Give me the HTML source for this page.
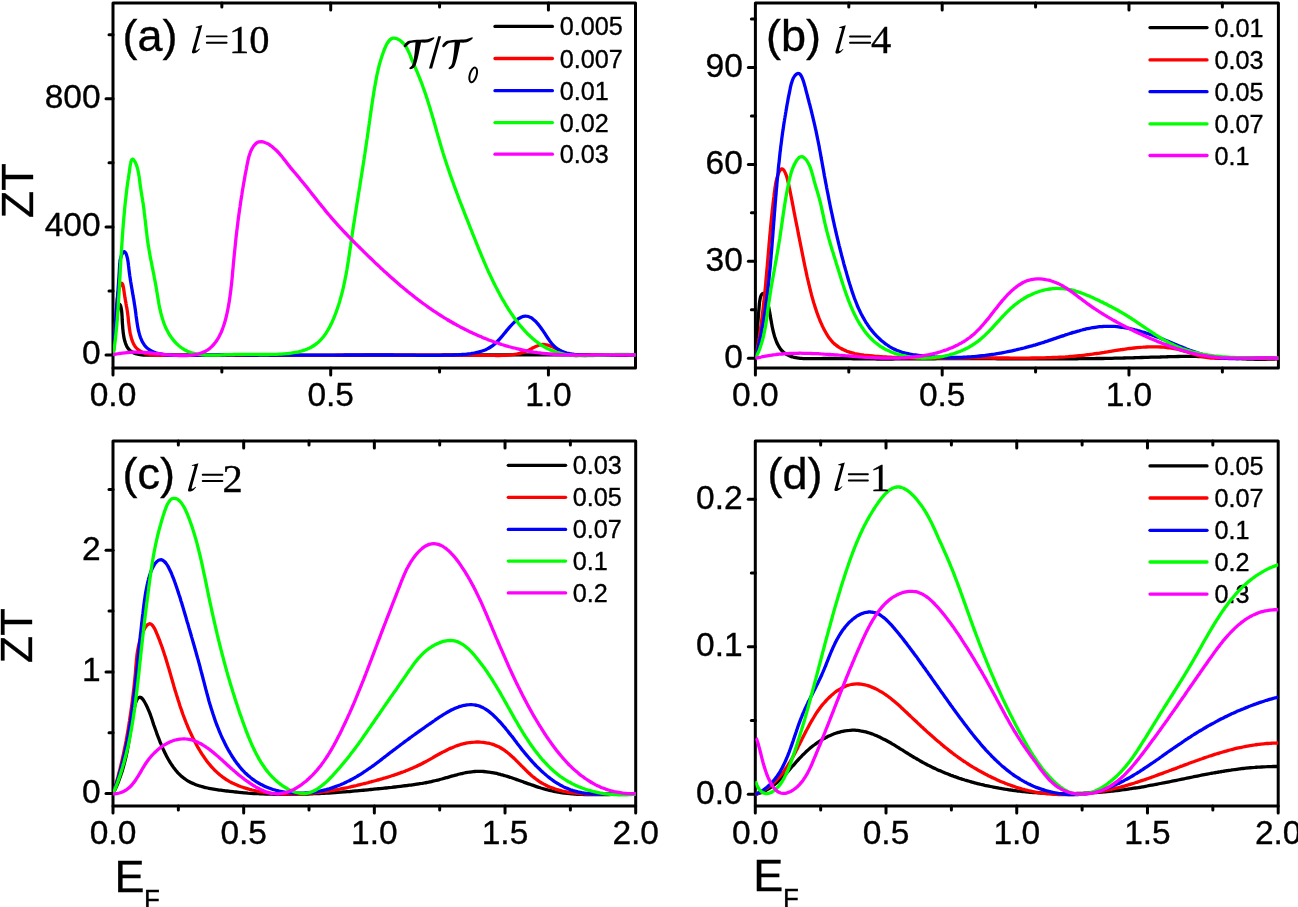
<!DOCTYPE html>
<html><head><meta charset="utf-8"><style>
html,body{margin:0;padding:0;background:#fff;}
body{width:1298px;height:907px;overflow:hidden;}
svg{display:block;will-change:transform;}
text{fill:#000;stroke:#000;stroke-width:0.35px;}
</style></head><body>
<svg width="1298" height="907" viewBox="0 0 1298 907">
<rect width="1298" height="907" fill="#fff"/>
<line x1="113.00" y1="368.00" x2="113.00" y2="375.00" stroke="#000" stroke-width="3.0" stroke-linecap="round"/>
<line x1="330.71" y1="368.00" x2="330.71" y2="375.00" stroke="#000" stroke-width="3.0" stroke-linecap="round"/>
<line x1="330.71" y1="3.00" x2="330.71" y2="10.00" stroke="#000" stroke-width="3.0" stroke-linecap="round"/>
<line x1="548.42" y1="368.00" x2="548.42" y2="375.00" stroke="#000" stroke-width="3.0" stroke-linecap="round"/>
<line x1="548.42" y1="3.00" x2="548.42" y2="10.00" stroke="#000" stroke-width="3.0" stroke-linecap="round"/>
<line x1="221.85" y1="368.00" x2="221.85" y2="372.00" stroke="#000" stroke-width="3.0" stroke-linecap="round"/>
<line x1="221.85" y1="3.00" x2="221.85" y2="7.00" stroke="#000" stroke-width="3.0" stroke-linecap="round"/>
<line x1="439.56" y1="368.00" x2="439.56" y2="372.00" stroke="#000" stroke-width="3.0" stroke-linecap="round"/>
<line x1="439.56" y1="3.00" x2="439.56" y2="7.00" stroke="#000" stroke-width="3.0" stroke-linecap="round"/>
<line x1="113.00" y1="355.00" x2="106.00" y2="355.00" stroke="#000" stroke-width="3.0" stroke-linecap="round"/>
<line x1="113.00" y1="226.90" x2="106.00" y2="226.90" stroke="#000" stroke-width="3.0" stroke-linecap="round"/>
<line x1="113.00" y1="98.80" x2="106.00" y2="98.80" stroke="#000" stroke-width="3.0" stroke-linecap="round"/>
<line x1="113.00" y1="290.95" x2="109.00" y2="290.95" stroke="#000" stroke-width="3.0" stroke-linecap="round"/>
<line x1="113.00" y1="162.85" x2="109.00" y2="162.85" stroke="#000" stroke-width="3.0" stroke-linecap="round"/>
<line x1="113.00" y1="34.75" x2="109.00" y2="34.75" stroke="#000" stroke-width="3.0" stroke-linecap="round"/>
<text x="113.00" y="406.20" font-family="Liberation Sans" font-size="33.5" text-anchor="middle">0.0</text>
<text x="330.71" y="406.20" font-family="Liberation Sans" font-size="33.5" text-anchor="middle">0.5</text>
<text x="548.42" y="406.20" font-family="Liberation Sans" font-size="33.5" text-anchor="middle">1.0</text>
<text x="100.60" y="364.40" font-family="Liberation Sans" font-size="33.5" text-anchor="end">0</text>
<text x="100.60" y="236.30" font-family="Liberation Sans" font-size="33.5" text-anchor="end">400</text>
<text x="100.60" y="108.20" font-family="Liberation Sans" font-size="33.5" text-anchor="end">800</text>
<rect x="113.00" y="3.00" width="522.50" height="365.00" fill="none" stroke="#000" stroke-width="3.0" stroke-linejoin="round"/>
<line x1="755.40" y1="368.00" x2="755.40" y2="375.00" stroke="#000" stroke-width="3.0" stroke-linecap="round"/>
<line x1="942.19" y1="368.00" x2="942.19" y2="375.00" stroke="#000" stroke-width="3.0" stroke-linecap="round"/>
<line x1="942.19" y1="3.00" x2="942.19" y2="10.00" stroke="#000" stroke-width="3.0" stroke-linecap="round"/>
<line x1="1128.97" y1="368.00" x2="1128.97" y2="375.00" stroke="#000" stroke-width="3.0" stroke-linecap="round"/>
<line x1="1128.97" y1="3.00" x2="1128.97" y2="10.00" stroke="#000" stroke-width="3.0" stroke-linecap="round"/>
<line x1="848.79" y1="368.00" x2="848.79" y2="372.00" stroke="#000" stroke-width="3.0" stroke-linecap="round"/>
<line x1="848.79" y1="3.00" x2="848.79" y2="7.00" stroke="#000" stroke-width="3.0" stroke-linecap="round"/>
<line x1="1035.58" y1="368.00" x2="1035.58" y2="372.00" stroke="#000" stroke-width="3.0" stroke-linecap="round"/>
<line x1="1035.58" y1="3.00" x2="1035.58" y2="7.00" stroke="#000" stroke-width="3.0" stroke-linecap="round"/>
<line x1="1222.36" y1="368.00" x2="1222.36" y2="372.00" stroke="#000" stroke-width="3.0" stroke-linecap="round"/>
<line x1="1222.36" y1="3.00" x2="1222.36" y2="7.00" stroke="#000" stroke-width="3.0" stroke-linecap="round"/>
<line x1="755.40" y1="358.30" x2="748.40" y2="358.30" stroke="#000" stroke-width="3.0" stroke-linecap="round"/>
<line x1="755.40" y1="261.34" x2="748.40" y2="261.34" stroke="#000" stroke-width="3.0" stroke-linecap="round"/>
<line x1="755.40" y1="164.38" x2="748.40" y2="164.38" stroke="#000" stroke-width="3.0" stroke-linecap="round"/>
<line x1="755.40" y1="67.42" x2="748.40" y2="67.42" stroke="#000" stroke-width="3.0" stroke-linecap="round"/>
<line x1="755.40" y1="309.82" x2="751.40" y2="309.82" stroke="#000" stroke-width="3.0" stroke-linecap="round"/>
<line x1="755.40" y1="212.86" x2="751.40" y2="212.86" stroke="#000" stroke-width="3.0" stroke-linecap="round"/>
<line x1="755.40" y1="115.90" x2="751.40" y2="115.90" stroke="#000" stroke-width="3.0" stroke-linecap="round"/>
<line x1="755.40" y1="18.94" x2="751.40" y2="18.94" stroke="#000" stroke-width="3.0" stroke-linecap="round"/>
<text x="755.40" y="405.80" font-family="Liberation Sans" font-size="33.5" text-anchor="middle">0.0</text>
<text x="942.19" y="405.80" font-family="Liberation Sans" font-size="33.5" text-anchor="middle">0.5</text>
<text x="1128.97" y="405.80" font-family="Liberation Sans" font-size="33.5" text-anchor="middle">1.0</text>
<text x="742.80" y="367.70" font-family="Liberation Sans" font-size="33.5" text-anchor="end">0</text>
<text x="742.80" y="270.74" font-family="Liberation Sans" font-size="33.5" text-anchor="end">30</text>
<text x="742.80" y="173.78" font-family="Liberation Sans" font-size="33.5" text-anchor="end">60</text>
<text x="742.80" y="76.82" font-family="Liberation Sans" font-size="33.5" text-anchor="end">90</text>
<rect x="755.40" y="3.00" width="523.00" height="365.00" fill="none" stroke="#000" stroke-width="3.0" stroke-linejoin="round"/>
<line x1="113.00" y1="806.00" x2="113.00" y2="813.00" stroke="#000" stroke-width="3.0" stroke-linecap="round"/>
<line x1="243.68" y1="806.00" x2="243.68" y2="813.00" stroke="#000" stroke-width="3.0" stroke-linecap="round"/>
<line x1="243.68" y1="441.00" x2="243.68" y2="448.00" stroke="#000" stroke-width="3.0" stroke-linecap="round"/>
<line x1="374.35" y1="806.00" x2="374.35" y2="813.00" stroke="#000" stroke-width="3.0" stroke-linecap="round"/>
<line x1="374.35" y1="441.00" x2="374.35" y2="448.00" stroke="#000" stroke-width="3.0" stroke-linecap="round"/>
<line x1="505.03" y1="806.00" x2="505.03" y2="813.00" stroke="#000" stroke-width="3.0" stroke-linecap="round"/>
<line x1="505.03" y1="441.00" x2="505.03" y2="448.00" stroke="#000" stroke-width="3.0" stroke-linecap="round"/>
<line x1="635.70" y1="806.00" x2="635.70" y2="813.00" stroke="#000" stroke-width="3.0" stroke-linecap="round"/>
<line x1="178.34" y1="806.00" x2="178.34" y2="810.00" stroke="#000" stroke-width="3.0" stroke-linecap="round"/>
<line x1="178.34" y1="441.00" x2="178.34" y2="445.00" stroke="#000" stroke-width="3.0" stroke-linecap="round"/>
<line x1="309.01" y1="806.00" x2="309.01" y2="810.00" stroke="#000" stroke-width="3.0" stroke-linecap="round"/>
<line x1="309.01" y1="441.00" x2="309.01" y2="445.00" stroke="#000" stroke-width="3.0" stroke-linecap="round"/>
<line x1="439.69" y1="806.00" x2="439.69" y2="810.00" stroke="#000" stroke-width="3.0" stroke-linecap="round"/>
<line x1="439.69" y1="441.00" x2="439.69" y2="445.00" stroke="#000" stroke-width="3.0" stroke-linecap="round"/>
<line x1="570.36" y1="806.00" x2="570.36" y2="810.00" stroke="#000" stroke-width="3.0" stroke-linecap="round"/>
<line x1="570.36" y1="441.00" x2="570.36" y2="445.00" stroke="#000" stroke-width="3.0" stroke-linecap="round"/>
<line x1="113.00" y1="793.50" x2="106.00" y2="793.50" stroke="#000" stroke-width="3.0" stroke-linecap="round"/>
<line x1="113.00" y1="671.90" x2="106.00" y2="671.90" stroke="#000" stroke-width="3.0" stroke-linecap="round"/>
<line x1="113.00" y1="550.30" x2="106.00" y2="550.30" stroke="#000" stroke-width="3.0" stroke-linecap="round"/>
<line x1="113.00" y1="732.70" x2="109.00" y2="732.70" stroke="#000" stroke-width="3.0" stroke-linecap="round"/>
<line x1="113.00" y1="611.10" x2="109.00" y2="611.10" stroke="#000" stroke-width="3.0" stroke-linecap="round"/>
<line x1="113.00" y1="489.50" x2="109.00" y2="489.50" stroke="#000" stroke-width="3.0" stroke-linecap="round"/>
<text x="113.00" y="844.20" font-family="Liberation Sans" font-size="33.5" text-anchor="middle">0.0</text>
<text x="243.68" y="844.20" font-family="Liberation Sans" font-size="33.5" text-anchor="middle">0.5</text>
<text x="374.35" y="844.20" font-family="Liberation Sans" font-size="33.5" text-anchor="middle">1.0</text>
<text x="505.03" y="844.20" font-family="Liberation Sans" font-size="33.5" text-anchor="middle">1.5</text>
<text x="635.70" y="844.20" font-family="Liberation Sans" font-size="33.5" text-anchor="middle">2.0</text>
<text x="100.60" y="802.90" font-family="Liberation Sans" font-size="33.5" text-anchor="end">0</text>
<text x="100.60" y="681.30" font-family="Liberation Sans" font-size="33.5" text-anchor="end">1</text>
<text x="100.60" y="559.70" font-family="Liberation Sans" font-size="33.5" text-anchor="end">2</text>
<rect x="113.00" y="441.00" width="522.70" height="365.00" fill="none" stroke="#000" stroke-width="3.0" stroke-linejoin="round"/>
<line x1="755.30" y1="806.00" x2="755.30" y2="813.00" stroke="#000" stroke-width="3.0" stroke-linecap="round"/>
<line x1="886.02" y1="806.00" x2="886.02" y2="813.00" stroke="#000" stroke-width="3.0" stroke-linecap="round"/>
<line x1="886.02" y1="441.00" x2="886.02" y2="448.00" stroke="#000" stroke-width="3.0" stroke-linecap="round"/>
<line x1="1016.75" y1="806.00" x2="1016.75" y2="813.00" stroke="#000" stroke-width="3.0" stroke-linecap="round"/>
<line x1="1016.75" y1="441.00" x2="1016.75" y2="448.00" stroke="#000" stroke-width="3.0" stroke-linecap="round"/>
<line x1="1147.47" y1="806.00" x2="1147.47" y2="813.00" stroke="#000" stroke-width="3.0" stroke-linecap="round"/>
<line x1="1147.47" y1="441.00" x2="1147.47" y2="448.00" stroke="#000" stroke-width="3.0" stroke-linecap="round"/>
<line x1="1278.20" y1="806.00" x2="1278.20" y2="813.00" stroke="#000" stroke-width="3.0" stroke-linecap="round"/>
<line x1="820.66" y1="806.00" x2="820.66" y2="810.00" stroke="#000" stroke-width="3.0" stroke-linecap="round"/>
<line x1="820.66" y1="441.00" x2="820.66" y2="445.00" stroke="#000" stroke-width="3.0" stroke-linecap="round"/>
<line x1="951.39" y1="806.00" x2="951.39" y2="810.00" stroke="#000" stroke-width="3.0" stroke-linecap="round"/>
<line x1="951.39" y1="441.00" x2="951.39" y2="445.00" stroke="#000" stroke-width="3.0" stroke-linecap="round"/>
<line x1="1082.11" y1="806.00" x2="1082.11" y2="810.00" stroke="#000" stroke-width="3.0" stroke-linecap="round"/>
<line x1="1082.11" y1="441.00" x2="1082.11" y2="445.00" stroke="#000" stroke-width="3.0" stroke-linecap="round"/>
<line x1="1212.84" y1="806.00" x2="1212.84" y2="810.00" stroke="#000" stroke-width="3.0" stroke-linecap="round"/>
<line x1="1212.84" y1="441.00" x2="1212.84" y2="445.00" stroke="#000" stroke-width="3.0" stroke-linecap="round"/>
<line x1="755.30" y1="794.30" x2="748.30" y2="794.30" stroke="#000" stroke-width="3.0" stroke-linecap="round"/>
<line x1="755.30" y1="646.80" x2="748.30" y2="646.80" stroke="#000" stroke-width="3.0" stroke-linecap="round"/>
<line x1="755.30" y1="499.30" x2="748.30" y2="499.30" stroke="#000" stroke-width="3.0" stroke-linecap="round"/>
<line x1="755.30" y1="720.55" x2="751.30" y2="720.55" stroke="#000" stroke-width="3.0" stroke-linecap="round"/>
<line x1="755.30" y1="573.05" x2="751.30" y2="573.05" stroke="#000" stroke-width="3.0" stroke-linecap="round"/>
<text x="755.30" y="844.20" font-family="Liberation Sans" font-size="33.5" text-anchor="middle">0.0</text>
<text x="886.02" y="844.20" font-family="Liberation Sans" font-size="33.5" text-anchor="middle">0.5</text>
<text x="1016.75" y="844.20" font-family="Liberation Sans" font-size="33.5" text-anchor="middle">1.0</text>
<text x="1147.47" y="844.20" font-family="Liberation Sans" font-size="33.5" text-anchor="middle">1.5</text>
<text x="1278.20" y="844.20" font-family="Liberation Sans" font-size="33.5" text-anchor="middle">2.0</text>
<text x="742.70" y="803.70" font-family="Liberation Sans" font-size="33.5" text-anchor="end">0.0</text>
<text x="742.70" y="656.20" font-family="Liberation Sans" font-size="33.5" text-anchor="end">0.1</text>
<text x="742.70" y="508.70" font-family="Liberation Sans" font-size="33.5" text-anchor="end">0.2</text>
<rect x="755.30" y="441.00" width="522.90" height="365.00" fill="none" stroke="#000" stroke-width="3.0" stroke-linejoin="round"/>
<line x1="495.00" y1="26.40" x2="552.40" y2="26.40" stroke="#000000" stroke-width="3.3" stroke-linecap="round"/>
<text x="559.80" y="35.40" font-family="Liberation Sans" font-size="25.2" text-anchor="start">0.005</text>
<line x1="495.00" y1="58.50" x2="552.40" y2="58.50" stroke="#ff0000" stroke-width="3.3" stroke-linecap="round"/>
<text x="559.80" y="67.50" font-family="Liberation Sans" font-size="25.2" text-anchor="start">0.007</text>
<line x1="495.00" y1="90.70" x2="552.40" y2="90.70" stroke="#0000ff" stroke-width="3.3" stroke-linecap="round"/>
<text x="559.80" y="99.70" font-family="Liberation Sans" font-size="25.2" text-anchor="start">0.01</text>
<line x1="495.00" y1="122.60" x2="552.40" y2="122.60" stroke="#00ff00" stroke-width="3.3" stroke-linecap="round"/>
<text x="559.80" y="131.60" font-family="Liberation Sans" font-size="25.2" text-anchor="start">0.02</text>
<line x1="495.00" y1="154.20" x2="552.40" y2="154.20" stroke="#ff00ff" stroke-width="3.3" stroke-linecap="round"/>
<text x="559.80" y="163.20" font-family="Liberation Sans" font-size="25.2" text-anchor="start">0.03</text>
<line x1="1150.00" y1="27.60" x2="1207.00" y2="27.60" stroke="#000000" stroke-width="3.3" stroke-linecap="round"/>
<text x="1214.50" y="36.60" font-family="Liberation Sans" font-size="25.2" text-anchor="start">0.01</text>
<line x1="1150.00" y1="59.90" x2="1207.00" y2="59.90" stroke="#ff0000" stroke-width="3.3" stroke-linecap="round"/>
<text x="1214.50" y="68.90" font-family="Liberation Sans" font-size="25.2" text-anchor="start">0.03</text>
<line x1="1150.00" y1="91.70" x2="1207.00" y2="91.70" stroke="#0000ff" stroke-width="3.3" stroke-linecap="round"/>
<text x="1214.50" y="100.70" font-family="Liberation Sans" font-size="25.2" text-anchor="start">0.05</text>
<line x1="1150.00" y1="123.80" x2="1207.00" y2="123.80" stroke="#00ff00" stroke-width="3.3" stroke-linecap="round"/>
<text x="1214.50" y="132.80" font-family="Liberation Sans" font-size="25.2" text-anchor="start">0.07</text>
<line x1="1150.00" y1="155.50" x2="1207.00" y2="155.50" stroke="#ff00ff" stroke-width="3.3" stroke-linecap="round"/>
<text x="1214.50" y="164.50" font-family="Liberation Sans" font-size="25.2" text-anchor="start">0.1</text>
<line x1="508.30" y1="465.30" x2="565.60" y2="465.30" stroke="#000000" stroke-width="3.3" stroke-linecap="round"/>
<text x="572.70" y="474.30" font-family="Liberation Sans" font-size="25.2" text-anchor="start">0.03</text>
<line x1="508.30" y1="497.30" x2="565.60" y2="497.30" stroke="#ff0000" stroke-width="3.3" stroke-linecap="round"/>
<text x="572.70" y="506.30" font-family="Liberation Sans" font-size="25.2" text-anchor="start">0.05</text>
<line x1="508.30" y1="529.40" x2="565.60" y2="529.40" stroke="#0000ff" stroke-width="3.3" stroke-linecap="round"/>
<text x="572.70" y="538.40" font-family="Liberation Sans" font-size="25.2" text-anchor="start">0.07</text>
<line x1="508.30" y1="561.10" x2="565.60" y2="561.10" stroke="#00ff00" stroke-width="3.3" stroke-linecap="round"/>
<text x="572.70" y="570.10" font-family="Liberation Sans" font-size="25.2" text-anchor="start">0.1</text>
<line x1="508.30" y1="592.90" x2="565.60" y2="592.90" stroke="#ff00ff" stroke-width="3.3" stroke-linecap="round"/>
<text x="572.70" y="601.90" font-family="Liberation Sans" font-size="25.2" text-anchor="start">0.2</text>
<line x1="1150.00" y1="465.90" x2="1207.00" y2="465.90" stroke="#000000" stroke-width="3.3" stroke-linecap="round"/>
<text x="1214.50" y="474.90" font-family="Liberation Sans" font-size="25.2" text-anchor="start">0.05</text>
<line x1="1150.00" y1="498.00" x2="1207.00" y2="498.00" stroke="#ff0000" stroke-width="3.3" stroke-linecap="round"/>
<text x="1214.50" y="507.00" font-family="Liberation Sans" font-size="25.2" text-anchor="start">0.07</text>
<line x1="1150.00" y1="530.30" x2="1207.00" y2="530.30" stroke="#0000ff" stroke-width="3.3" stroke-linecap="round"/>
<text x="1214.50" y="539.30" font-family="Liberation Sans" font-size="25.2" text-anchor="start">0.1</text>
<line x1="1150.00" y1="562.00" x2="1207.00" y2="562.00" stroke="#00ff00" stroke-width="3.3" stroke-linecap="round"/>
<text x="1214.50" y="571.00" font-family="Liberation Sans" font-size="25.2" text-anchor="start">0.2</text>
<line x1="1150.00" y1="594.10" x2="1207.00" y2="594.10" stroke="#ff00ff" stroke-width="3.3" stroke-linecap="round"/>
<text x="1214.50" y="603.10" font-family="Liberation Sans" font-size="25.2" text-anchor="start">0.3</text>
<clipPath id="c0"><rect x="113.00" y="3.00" width="522.50" height="365.00"/></clipPath>
<g clip-path="url(#c0)">
<path d="M113.0,355.0C113.0,354.5 113.2,352.9 113.3,351.9C113.4,350.9 113.5,349.9 113.6,348.9C113.7,347.8 113.7,346.8 113.8,345.9C113.9,344.9 114.0,343.9 114.1,342.9C114.2,341.9 114.3,340.9 114.4,340.0C114.5,339.0 114.6,338.0 114.7,337.0C114.8,336.1 114.9,335.1 115.0,334.1C115.1,333.1 115.2,332.2 115.3,331.2C115.4,330.2 115.5,329.2 115.6,328.2C115.8,327.2 115.9,326.3 116.0,325.3C116.1,324.3 116.2,323.3 116.3,322.2C116.4,321.2 116.5,320.2 116.6,319.2C116.8,318.1 116.9,317.1 117.0,315.9C117.1,314.8 117.3,313.5 117.4,312.2C117.6,311.0 117.8,309.5 118.0,308.4C118.2,307.3 118.4,306.1 118.7,305.4C118.9,304.7 119.2,304.1 119.5,304.1C119.8,304.1 120.1,304.6 120.4,305.2C120.7,305.8 120.9,306.9 121.1,307.8C121.3,308.7 121.5,309.7 121.6,310.7C121.7,311.7 121.8,312.6 121.9,313.6C121.9,314.6 122.0,315.7 122.1,316.7C122.1,317.8 122.2,318.9 122.2,320.0C122.3,321.1 122.4,322.3 122.4,323.4C122.5,324.5 122.6,325.7 122.7,326.9C122.7,328.0 122.8,329.2 123.0,330.3C123.1,331.5 123.2,332.6 123.4,333.8C123.5,334.9 123.7,336.0 123.9,337.1C124.1,338.2 124.3,339.2 124.6,340.2C124.9,341.3 125.2,342.2 125.5,343.2C125.8,344.1 126.2,345.0 126.6,345.9C127.0,346.7 127.5,347.5 128.0,348.2C128.5,348.9 129.1,349.6 129.7,350.2C130.3,350.8 130.9,351.3 131.6,351.8C132.3,352.2 133.0,352.6 133.8,352.9C134.6,353.3 135.4,353.6 136.3,353.8C137.1,354.1 138.0,354.3 138.9,354.4C139.8,354.6 140.7,354.7 141.7,354.8C142.6,354.9 143.6,355.0 144.6,355.0C145.6,355.1 146.6,355.1 147.6,355.1C148.6,355.2 149.6,355.2 150.7,355.2C151.7,355.2 152.7,355.2 153.7,355.2C154.7,355.2 155.8,355.2 156.8,355.2C157.8,355.2 158.8,355.2 159.9,355.2C160.9,355.2 161.9,355.2 162.9,355.2C163.9,355.1 165.0,355.1 166.0,355.1C167.0,355.1 168.0,355.1 169.0,355.1C170.1,355.1 171.1,355.1 172.1,355.1C173.1,355.1 174.1,355.1 175.1,355.1C176.2,355.1 177.2,355.1 178.2,355.1C179.2,355.1 180.2,355.1 181.2,355.1C182.3,355.1 183.3,355.1 184.3,355.1C185.3,355.1 186.3,355.1 187.3,355.1C188.3,355.1 189.4,355.1 190.4,355.1C191.4,355.1 192.4,355.1 193.4,355.1C194.4,355.1 195.4,355.1 196.4,355.1C197.5,355.1 198.5,355.1 199.5,355.2C200.5,355.2 201.5,355.2 202.5,355.2C203.5,355.2 204.5,355.2 205.5,355.2C206.6,355.2 207.6,355.2 208.6,355.2C209.6,355.2 210.6,355.2 211.6,355.2C212.6,355.2 213.6,355.2 214.6,355.2C215.6,355.2 216.6,355.2 217.7,355.2C218.7,355.2 219.7,355.2 220.7,355.2C221.7,355.2 222.7,355.2 223.7,355.2C224.7,355.2 225.7,355.2 226.7,355.2C227.7,355.2 228.7,355.2 229.7,355.2C230.7,355.2 231.8,355.2 232.8,355.2C233.8,355.2 234.8,355.2 235.8,355.2C236.8,355.2 237.8,355.2 238.8,355.2C239.8,355.2 240.8,355.2 241.8,355.2C242.8,355.2 243.8,355.2 244.8,355.2C245.8,355.2 246.8,355.2 247.8,355.2C248.8,355.2 249.8,355.2 250.8,355.2C251.8,355.2 252.8,355.2 253.8,355.2C254.8,355.2 255.9,355.2 256.9,355.2C257.9,355.2 258.9,355.2 259.9,355.2C260.9,355.2 261.9,355.2 262.9,355.2C263.9,355.2 264.9,355.2 265.9,355.2C266.9,355.2 267.9,355.2 268.9,355.3C269.9,355.3 270.9,355.3 271.9,355.3C272.9,355.3 273.9,355.3 274.9,355.3C275.9,355.3 276.9,355.3 277.9,355.3C278.9,355.3 279.9,355.3 280.9,355.3C281.9,355.3 282.9,355.3 283.9,355.3C284.9,355.3 285.9,355.3 286.9,355.3C287.9,355.3 288.9,355.3 289.9,355.3C290.9,355.3 291.9,355.3 292.9,355.3C293.9,355.3 294.9,355.3 295.9,355.3C296.9,355.3 297.9,355.3 298.9,355.3C299.9,355.3 300.9,355.3 301.9,355.3C302.9,355.3 303.9,355.3 304.9,355.3C305.9,355.3 306.9,355.3 307.9,355.3C308.9,355.3 309.9,355.3 310.9,355.3C311.9,355.3 312.9,355.3 313.9,355.3C314.9,355.3 315.9,355.3 316.9,355.3C317.9,355.3 318.9,355.3 319.9,355.3C320.9,355.3 321.9,355.3 322.9,355.3C323.9,355.3 324.9,355.3 325.9,355.3C326.9,355.3 327.9,355.3 328.9,355.3C329.9,355.3 330.9,355.3 331.9,355.3C333.0,355.3 334.0,355.3 335.0,355.3C336.0,355.3 337.0,355.3 338.0,355.3C339.0,355.3 340.0,355.3 341.0,355.3C342.0,355.3 343.0,355.3 344.0,355.3C345.0,355.3 346.0,355.3 347.0,355.3C348.0,355.3 349.0,355.3 350.0,355.3C351.0,355.3 352.0,355.3 353.0,355.3C354.0,355.3 355.0,355.3 356.0,355.3C357.0,355.3 358.0,355.3 359.0,355.3C360.0,355.3 361.0,355.3 362.0,355.3C363.0,355.3 364.0,355.3 365.0,355.2C366.0,355.2 367.0,355.2 368.0,355.2C369.0,355.2 370.0,355.2 371.0,355.2C372.0,355.2 373.0,355.2 374.0,355.2C375.1,355.2 376.1,355.2 377.1,355.2C378.1,355.2 379.1,355.2 380.1,355.2C381.1,355.2 382.1,355.2 383.1,355.2C384.1,355.2 385.1,355.2 386.1,355.2C387.1,355.2 388.1,355.2 389.1,355.2C390.1,355.2 391.1,355.2 392.1,355.2C393.1,355.2 394.1,355.2 395.1,355.2C396.1,355.2 397.1,355.2 398.1,355.2C399.1,355.2 400.1,355.2 401.1,355.2C402.1,355.2 403.1,355.2 404.2,355.2C405.2,355.2 406.2,355.2 407.2,355.1C408.2,355.1 409.2,355.1 410.2,355.1C411.2,355.1 412.2,355.1 413.2,355.1C414.2,355.1 415.2,355.1 416.2,355.1C417.2,355.1 418.2,355.1 419.2,355.1C420.2,355.1 421.2,355.1 422.2,355.1C423.2,355.1 424.2,355.1 425.2,355.1C426.2,355.1 427.2,355.1 428.2,355.1C429.3,355.1 430.3,355.1 431.3,355.1C432.3,355.1 433.3,355.1 434.3,355.1C435.3,355.1 436.3,355.1 437.3,355.1C438.3,355.1 439.3,355.1 440.3,355.1C441.3,355.0 442.3,355.0 443.3,355.0C444.3,355.0 445.3,355.0 446.3,355.0C447.3,355.0 448.3,355.0 449.3,355.0C450.3,355.0 451.3,355.0 452.4,355.0C453.4,355.0 454.4,355.0 455.4,355.0C456.4,355.0 457.4,355.0 458.4,355.0C459.4,355.0 460.4,355.0 461.4,355.0C462.4,355.0 463.4,355.0 464.4,355.0C465.4,355.0 466.4,355.0 467.4,355.0C468.4,355.0 469.4,355.0 470.4,355.0C471.4,355.0 472.4,355.0 473.4,355.0C474.5,355.0 475.5,355.0 476.5,355.0C477.5,355.0 478.5,355.0 479.5,354.9C480.5,354.9 481.5,354.9 482.5,354.9C483.5,354.9 484.5,354.9 485.5,354.9C486.5,354.9 487.5,354.9 488.5,354.9C489.5,354.9 490.5,354.9 491.5,354.9C492.5,354.9 493.5,354.9 494.5,354.9C495.5,354.9 496.6,354.9 497.6,354.9C498.6,354.9 499.6,354.9 500.6,354.9C501.6,354.9 502.6,354.9 503.6,354.9C504.6,354.9 505.6,354.9 506.6,354.9C507.6,354.9 508.6,354.9 509.6,354.9C510.6,354.9 511.6,354.9 512.6,354.9C513.6,354.9 514.6,354.9 515.6,354.9C516.6,354.9 517.6,354.9 518.6,354.9C519.7,354.9 520.7,354.9 521.7,354.9C522.7,354.9 523.7,354.9 524.7,354.9C525.7,354.9 526.7,354.9 527.7,354.9C528.7,354.9 529.7,354.9 530.7,354.9C531.7,354.9 532.7,354.9 533.7,354.9C534.7,354.9 535.7,354.9 536.7,354.9C537.7,354.9 538.7,354.9 539.7,354.9C540.7,354.9 541.7,354.9 542.7,354.9C543.7,354.9 544.8,354.9 545.8,354.9C546.8,354.9 547.8,354.9 548.8,354.9C549.8,354.9 550.8,354.9 551.8,354.9C552.8,354.9 553.8,354.9 554.8,354.9C555.8,354.9 556.8,354.9 557.8,354.9C558.8,354.9 559.8,354.9 560.8,354.9C561.8,354.9 562.8,354.9 563.8,354.9C564.8,354.9 565.8,354.9 566.8,354.9C567.8,354.9 568.8,354.9 569.8,354.9C570.8,354.9 571.8,354.9 572.8,354.9C573.9,354.9 574.9,354.9 575.9,354.9C576.9,354.9 577.9,354.9 578.9,354.9C579.9,354.9 580.9,354.9 581.9,354.9C582.9,354.9 583.9,354.9 584.9,354.9C585.9,354.9 586.9,355.0 587.9,355.0C588.9,355.0 589.9,355.0 590.9,355.0C591.9,355.0 592.9,355.0 593.9,355.0C594.9,355.0 595.9,355.0 596.9,355.0C597.9,355.0 598.9,355.0 599.9,355.0C600.9,355.0 601.9,355.0 602.9,355.0C603.9,355.0 604.9,355.0 605.9,355.0C606.9,355.0 607.9,355.0 608.9,355.0C609.9,355.0 610.9,355.1 611.9,355.1C612.9,355.1 613.9,355.1 615.0,355.1C616.0,355.1 617.0,355.1 618.0,355.1C619.0,355.1 620.0,355.1 621.0,355.1C622.0,355.1 623.0,355.1 624.0,355.1C625.0,355.1 626.0,355.1 627.0,355.1C628.0,355.2 629.0,355.2 630.0,355.2C631.0,355.2 632.0,355.2 633.0,355.2C634.0,355.2 635.5,355.2 636.0,355.2" fill="none" stroke="#000000" stroke-width="3.3" stroke-linejoin="round" stroke-linecap="butt"/>
<path d="M113.0,355.0C113.0,354.5 113.2,352.9 113.2,351.9C113.3,350.9 113.4,349.9 113.5,348.9C113.6,347.9 113.6,346.9 113.7,345.9C113.8,344.9 113.8,344.0 113.9,343.0C114.0,342.1 114.0,341.1 114.1,340.1C114.2,339.1 114.2,338.2 114.3,337.2C114.4,336.2 114.5,335.2 114.5,334.2C114.6,333.2 114.7,332.1 114.8,331.1C114.8,330.1 114.9,329.0 115.0,328.0C115.1,326.9 115.2,325.9 115.2,324.9C115.3,323.8 115.4,322.8 115.5,321.7C115.6,320.7 115.6,319.7 115.7,318.7C115.8,317.7 115.9,316.7 115.9,315.7C116.0,314.7 116.1,313.8 116.1,312.9C116.2,311.9 116.3,311.0 116.4,310.1C116.4,309.2 116.5,308.3 116.6,307.4C116.6,306.5 116.7,305.6 116.8,304.6C116.9,303.6 117.0,302.7 117.1,301.6C117.2,300.6 117.3,299.5 117.4,298.4C117.6,297.2 117.7,296.0 117.9,294.8C118.1,293.6 118.3,292.3 118.5,291.1C118.8,289.9 119.0,288.7 119.4,287.6C119.7,286.5 120.2,285.2 120.6,284.5C120.9,283.8 121.4,283.3 121.7,283.2C122.0,283.2 122.3,283.6 122.6,284.2C122.9,284.8 123.1,285.8 123.3,286.9C123.5,287.9 123.7,289.2 123.9,290.4C124.1,291.6 124.2,292.9 124.4,294.0C124.6,295.2 124.8,296.3 124.9,297.4C125.1,298.4 125.3,299.4 125.4,300.4C125.6,301.3 125.8,302.2 125.9,303.2C126.1,304.1 126.3,304.9 126.4,305.8C126.6,306.7 126.7,307.6 126.9,308.4C127.0,309.3 127.2,310.2 127.3,311.1C127.4,312.0 127.6,313.0 127.7,313.9C127.8,314.9 127.9,315.9 128.1,317.0C128.2,318.0 128.3,319.1 128.4,320.1C128.5,321.2 128.6,322.3 128.8,323.4C128.9,324.5 129.0,325.6 129.2,326.7C129.3,327.9 129.5,329.0 129.7,330.1C129.8,331.2 130.0,332.3 130.2,333.4C130.5,334.4 130.7,335.5 131.0,336.5C131.2,337.6 131.5,338.6 131.8,339.6C132.2,340.5 132.5,341.5 132.9,342.4C133.3,343.3 133.7,344.2 134.2,345.0C134.6,345.8 135.2,346.5 135.7,347.2C136.3,347.9 136.9,348.5 137.5,349.1C138.1,349.7 138.8,350.2 139.5,350.7C140.2,351.2 141.0,351.6 141.8,352.0C142.5,352.4 143.4,352.8 144.2,353.1C145.0,353.4 145.9,353.6 146.8,353.9C147.7,354.1 148.6,354.3 149.6,354.5C150.5,354.6 151.5,354.8 152.5,354.9C153.4,355.0 154.4,355.1 155.4,355.2C156.4,355.2 157.5,355.3 158.5,355.3C159.5,355.3 160.6,355.4 161.6,355.4C162.7,355.4 163.7,355.4 164.8,355.4C165.8,355.4 166.9,355.3 167.9,355.3C169.0,355.3 170.0,355.3 171.1,355.3C172.1,355.3 173.2,355.2 174.2,355.2C175.2,355.2 176.3,355.2 177.3,355.2C178.3,355.2 179.4,355.2 180.4,355.2C181.4,355.2 182.4,355.1 183.5,355.1C184.5,355.1 185.5,355.1 186.5,355.1C187.5,355.1 188.5,355.1 189.5,355.1C190.5,355.1 191.5,355.1 192.5,355.1C193.5,355.1 194.5,355.1 195.5,355.1C196.5,355.1 197.5,355.1 198.5,355.1C199.5,355.1 200.5,355.1 201.5,355.1C202.5,355.1 203.5,355.1 204.5,355.1C205.5,355.1 206.5,355.1 207.5,355.1C208.5,355.1 209.5,355.1 210.4,355.1C211.4,355.1 212.4,355.1 213.4,355.1C214.4,355.1 215.4,355.1 216.4,355.1C217.4,355.1 218.4,355.1 219.4,355.1C220.4,355.1 221.4,355.1 222.3,355.1C223.3,355.1 224.3,355.1 225.3,355.1C226.3,355.1 227.3,355.1 228.3,355.1C229.3,355.1 230.3,355.1 231.3,355.1C232.3,355.1 233.3,355.1 234.3,355.1C235.3,355.1 236.3,355.2 237.3,355.2C238.3,355.2 239.3,355.2 240.3,355.2C241.3,355.2 242.3,355.2 243.3,355.2C244.3,355.2 245.3,355.2 246.3,355.2C247.3,355.2 248.3,355.2 249.3,355.2C250.3,355.2 251.3,355.2 252.3,355.2C253.3,355.2 254.3,355.2 255.3,355.2C256.3,355.2 257.3,355.2 258.3,355.2C259.3,355.2 260.3,355.2 261.3,355.2C262.3,355.2 263.3,355.2 264.3,355.2C265.3,355.2 266.3,355.2 267.3,355.2C268.3,355.2 269.4,355.2 270.4,355.2C271.4,355.2 272.4,355.2 273.4,355.2C274.4,355.2 275.4,355.2 276.4,355.2C277.4,355.2 278.4,355.3 279.4,355.3C280.4,355.3 281.4,355.3 282.4,355.3C283.4,355.3 284.4,355.3 285.4,355.3C286.4,355.3 287.4,355.3 288.4,355.3C289.5,355.3 290.5,355.3 291.5,355.3C292.5,355.3 293.5,355.3 294.5,355.3C295.5,355.3 296.5,355.3 297.5,355.3C298.5,355.3 299.5,355.3 300.5,355.3C301.5,355.3 302.5,355.3 303.5,355.3C304.5,355.3 305.5,355.3 306.5,355.3C307.5,355.3 308.6,355.3 309.6,355.3C310.6,355.3 311.6,355.3 312.6,355.3C313.6,355.3 314.6,355.3 315.6,355.3C316.6,355.3 317.6,355.3 318.6,355.3C319.6,355.3 320.6,355.3 321.6,355.3C322.6,355.3 323.6,355.3 324.6,355.3C325.6,355.3 326.6,355.3 327.6,355.3C328.6,355.3 329.6,355.3 330.6,355.3C331.6,355.3 332.7,355.3 333.7,355.3C334.7,355.2 335.7,355.2 336.7,355.2C337.7,355.2 338.7,355.2 339.7,355.2C340.7,355.2 341.7,355.2 342.7,355.2C343.7,355.2 344.7,355.2 345.7,355.2C346.7,355.2 347.7,355.2 348.7,355.2C349.7,355.2 350.7,355.2 351.7,355.2C352.7,355.2 353.7,355.2 354.7,355.2C355.7,355.2 356.7,355.2 357.7,355.2C358.7,355.2 359.7,355.2 360.7,355.2C361.7,355.2 362.7,355.2 363.7,355.2C364.7,355.2 365.7,355.2 366.7,355.2C367.7,355.2 368.7,355.2 369.7,355.2C370.7,355.2 371.7,355.2 372.8,355.2C373.8,355.2 374.8,355.2 375.8,355.2C376.8,355.1 377.8,355.1 378.8,355.1C379.8,355.1 380.8,355.1 381.8,355.1C382.8,355.1 383.8,355.1 384.8,355.1C385.8,355.1 386.8,355.1 387.8,355.1C388.8,355.1 389.8,355.1 390.8,355.1C391.8,355.1 392.8,355.1 393.8,355.1C394.8,355.1 395.8,355.1 396.8,355.1C397.8,355.1 398.8,355.1 399.8,355.1C400.8,355.1 401.8,355.1 402.8,355.1C403.8,355.1 404.8,355.1 405.8,355.1C406.8,355.1 407.8,355.1 408.8,355.1C409.8,355.1 410.8,355.1 411.8,355.1C412.8,355.1 413.8,355.1 414.8,355.1C415.8,355.1 416.8,355.1 417.8,355.1C418.8,355.1 419.8,355.1 420.8,355.1C421.8,355.1 422.8,355.1 423.8,355.1C424.8,355.1 425.8,355.1 426.8,355.1C427.8,355.1 428.8,355.1 429.8,355.1C430.8,355.1 431.8,355.1 432.8,355.1C433.8,355.1 434.8,355.1 435.9,355.1C436.9,355.1 437.9,355.1 438.9,355.1C439.9,355.1 440.9,355.1 441.9,355.1C442.9,355.1 443.9,355.1 444.9,355.1C445.9,355.1 446.9,355.1 447.9,355.1C448.9,355.1 449.9,355.1 450.9,355.1C451.9,355.1 452.9,355.1 453.9,355.2C454.9,355.2 455.9,355.2 456.9,355.2C457.9,355.2 458.9,355.2 459.9,355.2C460.9,355.2 461.9,355.2 462.9,355.2C463.9,355.2 464.9,355.2 465.9,355.2C466.9,355.2 467.9,355.2 468.9,355.2C469.9,355.2 470.9,355.2 471.9,355.2C472.9,355.3 474.0,355.3 475.0,355.3C476.0,355.3 477.0,355.3 478.0,355.3C479.0,355.3 480.0,355.3 481.0,355.3C482.0,355.3 483.0,355.3 484.0,355.3C485.0,355.4 486.0,355.4 487.0,355.4C488.0,355.4 489.0,355.4 490.0,355.4C491.0,355.4 492.0,355.4 493.0,355.4C494.0,355.4 495.0,355.5 496.0,355.5C497.0,355.5 498.1,355.5 499.1,355.5C500.1,355.5 501.1,355.5 502.1,355.4C503.1,355.4 504.1,355.4 505.1,355.3C506.1,355.3 507.1,355.2 508.1,355.2C509.1,355.1 510.0,355.0 511.0,354.9C512.0,354.8 513.0,354.7 514.0,354.5C515.0,354.4 516.0,354.2 516.9,354.0C517.9,353.8 518.9,353.6 519.9,353.3C520.9,353.1 521.8,352.8 522.8,352.5C523.8,352.1 524.7,351.8 525.7,351.4C526.6,351.0 527.6,350.6 528.5,350.2C529.5,349.7 530.4,349.2 531.4,348.7C532.3,348.2 533.2,347.7 534.2,347.3C535.1,346.8 536.0,346.3 537.0,346.0C537.9,345.6 538.8,345.2 539.8,345.0C540.7,344.8 541.6,344.6 542.5,344.5C543.5,344.5 544.4,344.5 545.3,344.7C546.2,344.8 547.2,345.0 548.1,345.2C549.0,345.5 549.9,345.8 550.8,346.2C551.7,346.5 552.7,346.9 553.6,347.4C554.5,347.8 555.4,348.3 556.3,348.8C557.2,349.2 558.1,349.7 559.0,350.2C559.8,350.7 560.7,351.2 561.6,351.6C562.5,352.1 563.4,352.5 564.3,352.9C565.1,353.3 566.0,353.7 566.9,354.0C567.9,354.4 568.8,354.7 569.7,354.9C570.7,355.1 571.6,355.3 572.6,355.4C573.6,355.5 574.6,355.5 575.6,355.5C576.7,355.5 577.7,355.4 578.8,355.3C579.8,355.3 580.8,355.2 581.9,355.2C582.9,355.1 583.9,355.1 584.9,355.1C585.9,355.1 586.9,355.1 588.0,355.1C589.0,355.0 590.0,355.1 591.0,355.1C592.0,355.1 593.0,355.1 593.9,355.1C594.9,355.1 595.9,355.1 596.9,355.2C597.9,355.2 598.9,355.2 599.9,355.2C600.9,355.2 601.9,355.2 602.9,355.2C603.9,355.3 604.9,355.3 605.9,355.3C606.9,355.3 607.9,355.3 608.9,355.3C609.9,355.3 610.9,355.3 611.9,355.3C612.9,355.2 613.9,355.2 614.9,355.2C615.9,355.2 616.9,355.2 617.9,355.2C619.0,355.2 620.0,355.2 621.0,355.2C622.0,355.2 623.0,355.2 624.0,355.2C625.0,355.2 626.0,355.2 627.0,355.2C628.0,355.2 629.0,355.1 630.0,355.2C631.0,355.2 632.0,355.2 633.0,355.2C634.0,355.2 635.5,355.2 636.0,355.2" fill="none" stroke="#ff0000" stroke-width="3.3" stroke-linejoin="round" stroke-linecap="butt"/>
<path d="M113.0,355.0C113.0,354.5 113.2,353.0 113.3,352.0C113.4,351.0 113.4,349.9 113.5,348.9C113.6,347.9 113.7,346.9 113.8,345.9C113.9,344.9 113.9,343.9 114.0,343.0C114.1,342.0 114.2,341.0 114.3,340.0C114.3,339.0 114.4,338.0 114.5,337.0C114.6,336.0 114.6,335.0 114.7,334.1C114.8,333.1 114.8,332.1 114.9,331.1C115.0,330.1 115.1,329.1 115.1,328.1C115.2,327.1 115.3,326.2 115.3,325.2C115.4,324.2 115.5,323.2 115.5,322.2C115.6,321.2 115.7,320.2 115.8,319.2C115.8,318.2 115.9,317.2 116.0,316.2C116.1,315.2 116.1,314.2 116.2,313.2C116.3,312.2 116.4,311.2 116.4,310.2C116.5,309.1 116.6,308.1 116.7,307.1C116.8,306.1 116.8,305.0 116.9,304.0C117.0,303.0 117.1,302.0 117.2,301.0C117.2,299.9 117.3,298.9 117.4,297.9C117.5,296.9 117.6,295.9 117.6,294.9C117.7,293.9 117.8,292.9 117.9,292.0C118.0,291.0 118.0,290.0 118.1,289.1C118.2,288.1 118.2,287.2 118.3,286.3C118.4,285.3 118.4,284.4 118.5,283.5C118.6,282.5 118.6,281.6 118.7,280.6C118.8,279.7 118.8,278.7 118.9,277.8C119.0,276.8 119.0,275.8 119.1,274.7C119.1,273.7 119.2,272.7 119.3,271.6C119.3,270.5 119.4,269.3 119.5,268.2C119.5,267.0 119.6,265.8 119.7,264.6C119.8,263.5 119.9,262.3 120.1,261.1C120.2,260.0 120.4,258.8 120.7,257.8C121.0,256.7 121.3,255.7 121.7,254.8C122.0,253.9 122.5,253.1 122.9,252.6C123.3,252.1 123.8,251.7 124.2,251.7C124.7,251.8 125.1,252.2 125.5,252.7C125.9,253.3 126.3,254.2 126.6,255.2C126.9,256.2 127.2,257.4 127.5,258.5C127.7,259.6 127.9,260.8 128.1,262.0C128.3,263.2 128.4,264.3 128.5,265.5C128.7,266.6 128.8,267.7 128.9,268.8C129.0,269.9 129.2,271.0 129.3,272.1C129.4,273.2 129.6,274.2 129.7,275.2C129.9,276.3 130.0,277.3 130.2,278.3C130.3,279.3 130.5,280.3 130.6,281.2C130.8,282.2 130.9,283.2 131.1,284.1C131.3,285.1 131.4,286.1 131.6,287.0C131.7,287.9 131.9,288.9 132.1,289.8C132.2,290.8 132.4,291.7 132.5,292.6C132.7,293.6 132.9,294.5 133.0,295.4C133.2,296.3 133.3,297.3 133.5,298.2C133.7,299.1 133.8,300.1 134.0,301.0C134.1,302.0 134.3,302.9 134.4,303.9C134.6,304.9 134.7,305.8 134.9,306.8C135.0,307.8 135.2,308.8 135.3,309.8C135.5,310.8 135.6,311.8 135.7,312.8C135.9,313.9 136.0,314.9 136.1,316.0C136.3,317.0 136.4,318.1 136.6,319.2C136.7,320.2 136.8,321.3 137.0,322.3C137.2,323.4 137.3,324.5 137.5,325.5C137.7,326.6 137.9,327.6 138.1,328.7C138.3,329.7 138.5,330.8 138.8,331.8C139.0,332.8 139.3,333.8 139.6,334.8C139.9,335.7 140.2,336.7 140.5,337.6C140.9,338.5 141.3,339.4 141.7,340.3C142.1,341.2 142.5,342.0 143.0,342.8C143.5,343.7 144.0,344.4 144.5,345.2C145.1,345.9 145.6,346.6 146.3,347.2C146.9,347.9 147.6,348.5 148.3,349.0C149.0,349.6 149.8,350.1 150.6,350.6C151.4,351.0 152.2,351.4 153.1,351.8C154.0,352.2 154.9,352.5 155.8,352.8C156.8,353.1 157.8,353.4 158.7,353.6C159.7,353.8 160.7,354.0 161.7,354.2C162.7,354.4 163.8,354.5 164.8,354.7C165.8,354.8 166.8,354.9 167.9,355.0C168.9,355.1 169.9,355.1 170.9,355.2C172.0,355.2 173.0,355.3 174.0,355.3C175.0,355.3 176.0,355.3 177.0,355.4C178.0,355.4 179.0,355.4 180.1,355.4C181.1,355.3 182.1,355.3 183.1,355.3C184.1,355.3 185.1,355.3 186.1,355.3C187.1,355.2 188.1,355.2 189.1,355.2C190.1,355.2 191.1,355.2 192.1,355.2C193.1,355.1 194.1,355.1 195.1,355.1C196.0,355.1 197.0,355.1 198.0,355.1C199.0,355.1 200.0,355.0 201.0,355.0C202.0,355.0 203.0,355.0 204.0,355.0C205.0,355.0 206.0,355.0 207.0,355.0C208.0,355.0 209.0,355.0 210.0,355.0C211.0,354.9 212.0,354.9 213.0,354.9C214.0,354.9 215.0,354.9 216.0,354.9C217.0,354.9 218.0,354.9 219.0,354.9C220.0,354.9 221.0,354.9 222.0,354.9C223.0,354.9 224.0,354.9 225.0,354.9C226.0,354.9 227.0,354.9 228.0,354.9C229.0,354.9 230.0,354.9 231.0,354.9C232.0,354.9 233.0,354.9 234.0,354.9C235.0,354.9 236.0,354.9 237.0,354.9C238.0,354.9 239.0,354.9 240.0,354.9C241.0,354.9 242.0,354.9 243.0,354.9C244.0,355.0 245.0,355.0 246.0,355.0C247.0,355.0 248.0,355.0 249.0,355.0C250.0,355.0 251.0,355.0 252.0,355.0C253.0,355.0 254.0,355.0 255.0,355.0C256.0,355.0 257.0,355.0 258.0,355.0C259.0,355.0 260.0,355.0 261.0,355.0C262.0,355.1 263.0,355.1 264.0,355.1C265.0,355.1 266.0,355.1 267.0,355.1C268.0,355.1 269.0,355.1 270.0,355.1C271.0,355.1 272.0,355.1 273.0,355.1C274.0,355.1 275.0,355.1 276.0,355.1C277.0,355.1 278.0,355.1 279.0,355.1C280.0,355.2 281.0,355.2 282.0,355.2C283.0,355.2 284.0,355.2 285.0,355.2C286.0,355.2 287.0,355.2 288.0,355.2C289.0,355.2 290.0,355.2 291.0,355.2C292.0,355.2 293.0,355.2 294.0,355.2C295.0,355.2 296.0,355.2 297.0,355.2C298.0,355.2 299.0,355.2 300.0,355.2C301.0,355.2 302.0,355.2 303.0,355.2C304.0,355.2 305.0,355.2 306.0,355.2C307.0,355.2 308.0,355.2 309.0,355.2C310.0,355.2 311.0,355.2 312.1,355.2C313.1,355.2 314.1,355.2 315.1,355.2C316.1,355.2 317.1,355.2 318.1,355.2C319.1,355.2 320.1,355.2 321.1,355.1C322.1,355.1 323.1,355.1 324.1,355.1C325.1,355.1 326.1,355.1 327.1,355.1C328.1,355.1 329.1,355.1 330.1,355.1C331.1,355.1 332.1,355.1 333.1,355.1C334.1,355.1 335.1,355.1 336.1,355.1C337.1,355.1 338.1,355.1 339.1,355.1C340.1,355.1 341.1,355.1 342.1,355.1C343.1,355.1 344.1,355.1 345.1,355.0C346.2,355.0 347.2,355.0 348.2,355.0C349.2,355.0 350.2,355.0 351.2,355.0C352.2,355.0 353.2,355.0 354.2,355.0C355.2,355.0 356.2,355.0 357.2,355.0C358.2,355.0 359.2,355.0 360.2,355.0C361.2,355.0 362.2,355.0 363.2,355.0C364.2,355.0 365.2,355.0 366.2,355.0C367.2,355.0 368.2,355.0 369.2,355.0C370.2,355.0 371.2,355.0 372.2,355.0C373.2,355.0 374.2,355.0 375.2,355.0C376.2,355.0 377.2,355.0 378.2,355.0C379.2,355.0 380.2,355.0 381.2,355.0C382.2,355.0 383.2,355.0 384.2,355.0C385.2,355.0 386.1,355.0 387.1,355.0C388.1,355.0 389.1,355.0 390.1,355.0C391.1,355.0 392.1,355.0 393.1,355.0C394.1,355.0 395.1,355.1 396.1,355.1C397.1,355.1 398.1,355.1 399.1,355.1C400.1,355.1 401.1,355.1 402.1,355.1C403.1,355.1 404.1,355.1 405.0,355.1C406.0,355.2 407.0,355.2 408.0,355.2C409.0,355.2 410.0,355.2 411.0,355.2C412.0,355.2 413.0,355.2 414.0,355.2C415.0,355.3 416.0,355.3 417.0,355.3C418.0,355.3 418.9,355.3 419.9,355.3C420.9,355.3 421.9,355.3 422.9,355.3C423.9,355.3 424.9,355.3 425.9,355.3C426.9,355.4 427.9,355.4 428.9,355.4C429.9,355.4 430.9,355.4 431.9,355.4C432.9,355.4 433.9,355.3 434.9,355.3C435.9,355.3 436.9,355.3 437.9,355.3C438.9,355.3 439.9,355.3 440.9,355.3C442.0,355.3 443.0,355.3 444.0,355.2C445.0,355.2 446.0,355.2 447.0,355.2C448.0,355.1 449.0,355.1 450.1,355.1C451.1,355.0 452.1,355.0 453.1,355.0C454.1,354.9 455.2,354.9 456.2,354.9C457.2,354.8 458.2,354.8 459.3,354.7C460.3,354.6 461.3,354.6 462.3,354.5C463.4,354.4 464.4,354.4 465.4,354.3C466.4,354.2 467.4,354.1 468.4,353.9C469.5,353.8 470.5,353.7 471.4,353.5C472.4,353.4 473.4,353.2 474.4,353.0C475.4,352.8 476.4,352.6 477.3,352.4C478.3,352.2 479.2,351.9 480.1,351.6C481.1,351.4 482.0,351.1 482.9,350.7C483.8,350.4 484.7,350.1 485.6,349.7C486.4,349.3 487.3,348.9 488.1,348.4C489.0,348.0 489.8,347.5 490.6,347.0C491.4,346.5 492.2,346.0 492.9,345.4C493.7,344.8 494.4,344.2 495.2,343.5C495.9,342.9 496.6,342.2 497.3,341.5C498.0,340.8 498.7,340.1 499.3,339.4C500.0,338.6 500.7,337.8 501.3,337.1C502.0,336.3 502.7,335.5 503.3,334.7C504.0,333.9 504.6,333.1 505.3,332.3C506.0,331.5 506.7,330.6 507.3,329.8C508.0,329.0 508.7,328.2 509.4,327.4C510.1,326.6 510.9,325.8 511.6,325.0C512.3,324.2 513.1,323.4 513.9,322.6C514.6,321.9 515.4,321.2 516.2,320.5C517.0,319.8 517.8,319.2 518.6,318.6C519.4,318.1 520.3,317.6 521.1,317.2C521.9,316.8 522.7,316.5 523.5,316.3C524.4,316.1 525.2,316.0 526.0,316.1C526.8,316.1 527.6,316.3 528.4,316.5C529.2,316.8 530.0,317.1 530.8,317.6C531.6,318.0 532.4,318.6 533.1,319.2C533.9,319.8 534.7,320.5 535.4,321.2C536.1,322.0 536.9,322.8 537.6,323.6C538.3,324.4 539.0,325.3 539.7,326.2C540.4,327.1 541.1,328.1 541.7,329.0C542.4,329.9 543.0,330.9 543.7,331.8C544.3,332.7 544.9,333.7 545.5,334.6C546.1,335.5 546.6,336.4 547.2,337.3C547.8,338.1 548.4,339.0 549.0,339.8C549.5,340.6 550.1,341.4 550.7,342.2C551.3,343.0 551.9,343.7 552.5,344.4C553.2,345.1 553.8,345.8 554.5,346.4C555.2,347.1 555.9,347.7 556.6,348.2C557.4,348.8 558.1,349.3 558.9,349.7C559.7,350.2 560.6,350.6 561.4,351.0C562.3,351.4 563.2,351.8 564.1,352.1C565.0,352.4 565.9,352.7 566.8,353.0C567.8,353.2 568.7,353.4 569.7,353.7C570.7,353.9 571.7,354.0 572.7,354.2C573.7,354.4 574.7,354.5 575.7,354.6C576.7,354.7 577.8,354.8 578.8,354.9C579.8,355.0 580.9,355.0 581.9,355.1C582.9,355.1 584.0,355.2 585.0,355.2C586.1,355.2 587.1,355.3 588.1,355.3C589.2,355.3 590.2,355.3 591.2,355.3C592.2,355.3 593.3,355.3 594.3,355.3C595.3,355.3 596.3,355.3 597.3,355.3C598.3,355.2 599.3,355.2 600.2,355.2C601.2,355.2 602.2,355.2 603.2,355.2C604.2,355.1 605.2,355.1 606.1,355.1C607.1,355.1 608.1,355.1 609.1,355.0C610.0,355.0 611.0,355.0 612.0,355.0C613.0,354.9 613.9,354.9 614.9,354.9C615.9,354.9 616.9,354.9 617.8,354.9C618.8,354.8 619.8,354.8 620.8,354.8C621.8,354.8 622.8,354.8 623.8,354.8C624.8,354.8 625.8,354.8 626.8,354.8C627.8,354.8 628.8,354.8 629.8,354.8C630.8,354.9 631.9,354.9 632.9,354.9C633.9,354.9 635.5,355.0 636.0,355.0" fill="none" stroke="#0000ff" stroke-width="3.3" stroke-linejoin="round" stroke-linecap="butt"/>
<path d="M113.3,355.0C113.4,354.5 113.6,353.0 113.7,352.0C113.9,351.0 114.0,350.0 114.1,349.0C114.3,348.0 114.4,347.0 114.5,346.0C114.7,345.0 114.8,344.0 114.9,343.1C115.0,342.1 115.1,341.1 115.3,340.1C115.4,339.1 115.5,338.1 115.6,337.1C115.7,336.1 115.8,335.1 115.9,334.1C116.0,333.1 116.1,332.1 116.2,331.1C116.3,330.1 116.4,329.1 116.5,328.1C116.6,327.1 116.7,326.1 116.8,325.1C116.9,324.1 116.9,323.1 117.0,322.1C117.1,321.1 117.2,320.1 117.3,319.2C117.4,318.2 117.4,317.2 117.5,316.2C117.6,315.2 117.7,314.2 117.7,313.2C117.8,312.2 117.9,311.2 117.9,310.2C118.0,309.2 118.1,308.2 118.2,307.2C118.2,306.2 118.3,305.2 118.3,304.2C118.4,303.2 118.5,302.2 118.5,301.2C118.6,300.2 118.7,299.2 118.7,298.2C118.8,297.2 118.8,296.2 118.9,295.2C119.0,294.2 119.0,293.2 119.1,292.2C119.1,291.2 119.2,290.2 119.2,289.2C119.3,288.2 119.4,287.2 119.4,286.2C119.5,285.2 119.5,284.2 119.6,283.2C119.6,282.2 119.7,281.2 119.7,280.2C119.8,279.2 119.8,278.2 119.9,277.2C120.0,276.2 120.0,275.2 120.1,274.2C120.1,273.2 120.2,272.2 120.2,271.2C120.3,270.2 120.3,269.2 120.4,268.2C120.5,267.2 120.5,266.2 120.6,265.2C120.6,264.2 120.7,263.2 120.7,262.2C120.8,261.2 120.9,260.2 120.9,259.2C121.0,258.2 121.0,257.2 121.1,256.2C121.2,255.2 121.2,254.2 121.3,253.2C121.3,252.2 121.4,251.2 121.5,250.1C121.5,249.1 121.6,248.1 121.7,247.1C121.7,246.1 121.8,245.1 121.9,244.1C121.9,243.1 122.0,242.1 122.1,241.1C122.1,240.1 122.2,239.1 122.3,238.1C122.3,237.1 122.4,236.1 122.5,235.1C122.6,234.1 122.6,233.1 122.7,232.1C122.8,231.1 122.9,230.1 122.9,229.1C123.0,228.1 123.1,227.1 123.2,226.1C123.2,225.1 123.3,224.1 123.4,223.1C123.5,222.1 123.6,221.1 123.7,220.2C123.7,219.2 123.8,218.2 123.9,217.2C124.0,216.2 124.1,215.2 124.2,214.2C124.3,213.2 124.4,212.2 124.5,211.2C124.5,210.2 124.6,209.2 124.7,208.2C124.8,207.2 124.9,206.3 125.0,205.3C125.1,204.3 125.2,203.3 125.3,202.3C125.4,201.3 125.5,200.3 125.7,199.4C125.8,198.4 125.9,197.4 126.0,196.4C126.1,195.4 126.2,194.4 126.3,193.5C126.4,192.5 126.6,191.5 126.7,190.5C126.8,189.5 126.9,188.6 127.0,187.6C127.2,186.6 127.3,185.6 127.4,184.6C127.6,183.6 127.7,182.7 127.8,181.7C128.0,180.7 128.1,179.7 128.3,178.7C128.4,177.7 128.6,176.7 128.8,175.6C128.9,174.5 129.1,173.5 129.3,172.3C129.5,171.0 129.6,169.7 129.8,168.3C130.0,166.9 130.2,165.3 130.5,164.0C130.7,162.7 131.0,161.4 131.3,160.6C131.6,159.8 132.0,159.3 132.3,159.2C132.7,159.1 133.2,159.3 133.6,159.8C134.1,160.2 134.5,161.0 135.0,161.7C135.4,162.5 135.8,163.5 136.2,164.5C136.6,165.4 136.9,166.4 137.2,167.4C137.5,168.5 137.8,169.5 138.0,170.5C138.2,171.6 138.4,172.7 138.6,173.7C138.8,174.8 139.0,175.9 139.2,176.9C139.3,178.0 139.5,179.1 139.6,180.2C139.7,181.2 139.9,182.3 140.0,183.3C140.1,184.4 140.3,185.4 140.4,186.4C140.6,187.4 140.7,188.4 140.9,189.4C141.0,190.4 141.2,191.4 141.3,192.4C141.5,193.4 141.6,194.3 141.8,195.3C141.9,196.3 142.1,197.2 142.3,198.2C142.4,199.1 142.6,200.1 142.7,201.0C142.9,202.0 143.0,202.9 143.2,203.9C143.3,204.9 143.4,205.8 143.6,206.8C143.7,207.8 143.8,208.8 144.0,209.7C144.1,210.7 144.2,211.7 144.3,212.7C144.5,213.7 144.6,214.7 144.7,215.7C144.8,216.7 144.9,217.7 145.0,218.7C145.2,219.7 145.3,220.7 145.4,221.7C145.5,222.7 145.6,223.7 145.7,224.7C145.8,225.8 145.9,226.8 146.1,227.8C146.2,228.8 146.3,229.8 146.4,230.8C146.5,231.8 146.6,232.8 146.8,233.8C146.9,234.9 147.0,235.9 147.1,236.9C147.2,237.9 147.4,238.9 147.5,239.9C147.7,240.9 147.8,241.9 147.9,242.9C148.1,243.9 148.2,244.9 148.4,245.9C148.5,246.8 148.7,247.8 148.9,248.8C149.0,249.8 149.2,250.8 149.4,251.8C149.5,252.7 149.7,253.7 149.9,254.7C150.1,255.7 150.2,256.6 150.4,257.6C150.6,258.6 150.8,259.5 151.0,260.5C151.2,261.5 151.4,262.4 151.6,263.4C151.8,264.4 151.9,265.3 152.1,266.3C152.3,267.3 152.5,268.2 152.7,269.2C152.9,270.2 153.1,271.1 153.3,272.1C153.5,273.1 153.7,274.1 153.9,275.0C154.1,276.0 154.3,277.0 154.4,278.0C154.6,278.9 154.8,279.9 155.0,280.9C155.2,281.9 155.4,282.9 155.5,283.9C155.7,284.9 155.9,285.8 156.1,286.8C156.2,287.8 156.4,288.8 156.6,289.8C156.7,290.8 156.9,291.9 157.1,292.9C157.2,293.9 157.4,294.9 157.6,295.9C157.7,296.9 157.9,297.9 158.1,298.9C158.2,299.9 158.4,300.9 158.6,301.9C158.8,303.0 158.9,304.0 159.1,305.0C159.3,306.0 159.5,307.0 159.7,308.0C159.9,309.0 160.2,310.0 160.4,311.0C160.6,312.0 160.8,312.9 161.1,313.9C161.3,314.9 161.6,315.9 161.9,316.8C162.2,317.8 162.4,318.8 162.8,319.7C163.1,320.7 163.4,321.6 163.7,322.6C164.1,323.5 164.4,324.4 164.8,325.4C165.2,326.3 165.5,327.2 166.0,328.1C166.4,329.0 166.8,329.9 167.3,330.8C167.7,331.6 168.2,332.5 168.7,333.4C169.2,334.2 169.7,335.1 170.3,335.9C170.8,336.7 171.4,337.5 172.0,338.3C172.6,339.1 173.2,339.9 173.8,340.6C174.5,341.4 175.1,342.1 175.8,342.8C176.5,343.5 177.2,344.2 177.9,344.8C178.6,345.5 179.3,346.1 180.1,346.7C180.8,347.3 181.6,347.8 182.4,348.4C183.2,348.9 184.0,349.4 184.9,349.9C185.7,350.3 186.6,350.8 187.4,351.2C188.3,351.6 189.2,351.9 190.1,352.2C191.0,352.6 191.9,352.9 192.8,353.1C193.8,353.4 194.7,353.6 195.7,353.8C196.7,354.0 197.6,354.2 198.6,354.4C199.6,354.5 200.6,354.6 201.6,354.7C202.6,354.9 203.6,354.9 204.7,355.0C205.7,355.1 206.7,355.1 207.7,355.1C208.8,355.2 209.8,355.2 210.9,355.2C211.9,355.2 213.0,355.2 214.0,355.2C215.1,355.2 216.1,355.1 217.2,355.1C218.2,355.1 219.3,355.0 220.3,355.0C221.4,354.9 222.4,354.9 223.5,354.8C224.5,354.8 225.6,354.7 226.6,354.7C227.6,354.7 228.7,354.6 229.7,354.6C230.7,354.5 231.7,354.5 232.8,354.5C233.8,354.4 234.8,354.4 235.8,354.4C236.8,354.4 237.8,354.4 238.7,354.4C239.7,354.3 240.7,354.3 241.7,354.3C242.7,354.3 243.7,354.3 244.6,354.3C245.6,354.3 246.6,354.3 247.5,354.4C248.5,354.4 249.5,354.4 250.4,354.4C251.4,354.4 252.4,354.4 253.3,354.4C254.3,354.4 255.3,354.4 256.2,354.4C257.2,354.4 258.2,354.5 259.1,354.5C260.1,354.5 261.1,354.5 262.1,354.5C263.1,354.5 264.0,354.5 265.0,354.5C266.0,354.5 267.0,354.5 268.0,354.5C269.0,354.5 270.0,354.5 271.0,354.4C272.0,354.4 273.0,354.4 274.0,354.4C275.0,354.3 276.1,354.3 277.1,354.3C278.1,354.2 279.2,354.2 280.2,354.1C281.2,354.1 282.3,354.0 283.3,353.9C284.4,353.9 285.4,353.8 286.4,353.7C287.5,353.6 288.5,353.5 289.5,353.3C290.6,353.2 291.6,353.1 292.6,352.9C293.6,352.8 294.6,352.6 295.6,352.4C296.6,352.2 297.6,352.0 298.6,351.8C299.6,351.5 300.6,351.3 301.5,351.0C302.5,350.7 303.5,350.4 304.4,350.1C305.3,349.8 306.2,349.4 307.2,349.1C308.1,348.7 308.9,348.3 309.8,347.9C310.7,347.4 311.5,347.0 312.3,346.5C313.2,346.0 314.0,345.5 314.8,345.0C315.5,344.4 316.3,343.9 317.0,343.3C317.8,342.6 318.5,342.0 319.2,341.4C319.9,340.7 320.6,340.0 321.2,339.3C321.9,338.6 322.5,337.8 323.1,337.1C323.7,336.3 324.3,335.6 324.9,334.8C325.5,334.0 326.0,333.1 326.6,332.3C327.1,331.5 327.6,330.6 328.1,329.7C328.6,328.9 329.1,328.0 329.6,327.1C330.1,326.2 330.5,325.3 331.0,324.4C331.4,323.5 331.9,322.5 332.3,321.6C332.7,320.7 333.1,319.7 333.5,318.8C333.9,317.8 334.3,316.9 334.7,315.9C335.1,314.9 335.4,314.0 335.8,313.0C336.2,312.1 336.5,311.1 336.8,310.2C337.2,309.2 337.5,308.2 337.8,307.3C338.2,306.3 338.5,305.3 338.8,304.4C339.1,303.4 339.4,302.4 339.7,301.5C340.0,300.5 340.2,299.5 340.5,298.6C340.8,297.6 341.1,296.6 341.3,295.7C341.6,294.7 341.8,293.7 342.1,292.8C342.3,291.8 342.6,290.8 342.8,289.8C343.0,288.9 343.3,287.9 343.5,286.9C343.7,286.0 343.9,285.0 344.1,284.0C344.3,283.0 344.5,282.1 344.7,281.1C345.0,280.1 345.1,279.1 345.3,278.2C345.5,277.2 345.7,276.2 345.9,275.2C346.1,274.2 346.3,273.3 346.4,272.3C346.6,271.3 346.8,270.3 347.0,269.3C347.1,268.4 347.3,267.4 347.4,266.4C347.6,265.4 347.8,264.4 347.9,263.4C348.1,262.5 348.2,261.5 348.4,260.5C348.5,259.5 348.7,258.5 348.8,257.5C349.0,256.6 349.1,255.6 349.3,254.6C349.4,253.6 349.6,252.6 349.7,251.6C349.9,250.6 350.0,249.7 350.1,248.7C350.3,247.7 350.4,246.7 350.6,245.7C350.7,244.7 350.9,243.7 351.0,242.7C351.1,241.8 351.3,240.8 351.4,239.8C351.6,238.8 351.7,237.8 351.9,236.8C352.0,235.8 352.2,234.8 352.3,233.8C352.5,232.9 352.6,231.9 352.7,230.9C352.9,229.9 353.0,228.9 353.2,227.9C353.3,226.9 353.5,225.9 353.6,224.9C353.8,223.9 354.0,222.9 354.1,222.0C354.3,221.0 354.4,220.0 354.6,219.0C354.7,218.0 354.9,217.0 355.0,216.0C355.2,215.0 355.3,214.0 355.5,213.0C355.7,212.0 355.8,211.0 356.0,210.1C356.1,209.1 356.3,208.1 356.4,207.1C356.6,206.1 356.8,205.1 356.9,204.1C357.1,203.1 357.2,202.1 357.4,201.1C357.5,200.1 357.7,199.1 357.9,198.1C358.0,197.2 358.2,196.2 358.3,195.2C358.5,194.2 358.7,193.2 358.8,192.2C359.0,191.2 359.1,190.2 359.3,189.2C359.5,188.2 359.6,187.2 359.8,186.2C359.9,185.2 360.1,184.3 360.2,183.3C360.4,182.3 360.6,181.3 360.7,180.3C360.9,179.3 361.0,178.3 361.2,177.3C361.4,176.3 361.5,175.3 361.7,174.3C361.8,173.3 362.0,172.4 362.1,171.4C362.3,170.4 362.4,169.4 362.6,168.4C362.8,167.4 362.9,166.4 363.1,165.4C363.2,164.4 363.4,163.4 363.5,162.4C363.7,161.5 363.8,160.5 364.0,159.5C364.1,158.5 364.3,157.5 364.4,156.5C364.6,155.5 364.7,154.5 364.9,153.5C365.0,152.6 365.2,151.6 365.3,150.6C365.5,149.6 365.6,148.6 365.8,147.6C365.9,146.6 366.1,145.6 366.2,144.7C366.4,143.7 366.5,142.7 366.6,141.7C366.8,140.7 366.9,139.7 367.1,138.7C367.2,137.8 367.4,136.8 367.5,135.8C367.6,134.8 367.8,133.8 367.9,132.8C368.1,131.9 368.2,130.9 368.3,129.9C368.5,128.9 368.6,127.9 368.8,126.9C368.9,125.9 369.0,124.9 369.2,124.0C369.3,123.0 369.4,122.0 369.6,121.0C369.7,120.0 369.9,119.0 370.0,118.0C370.1,117.0 370.3,116.1 370.4,115.1C370.6,114.1 370.7,113.1 370.9,112.1C371.0,111.1 371.1,110.1 371.3,109.1C371.4,108.1 371.6,107.1 371.7,106.1C371.9,105.1 372.0,104.1 372.2,103.1C372.3,102.1 372.5,101.1 372.6,100.1C372.8,99.1 372.9,98.1 373.1,97.1C373.2,96.1 373.4,95.1 373.6,94.1C373.7,93.1 373.9,92.1 374.0,91.1C374.2,90.1 374.4,89.1 374.5,88.1C374.7,87.1 374.9,86.1 375.1,85.1C375.2,84.1 375.4,83.1 375.6,82.1C375.8,81.1 376.0,80.1 376.2,79.1C376.3,78.1 376.5,77.2 376.7,76.2C376.9,75.2 377.1,74.3 377.3,73.3C377.6,72.3 377.8,71.4 378.0,70.5C378.2,69.5 378.4,68.6 378.6,67.7C378.9,66.7 379.1,65.8 379.3,64.9C379.6,64.0 379.8,63.1 380.1,62.2C380.3,61.3 380.6,60.4 380.9,59.5C381.2,58.6 381.5,57.7 381.8,56.7C382.1,55.8 382.4,54.8 382.8,53.7C383.2,52.7 383.6,51.6 384.0,50.4C384.4,49.3 384.9,48.1 385.4,47.0C385.9,45.9 386.4,44.7 387.0,43.7C387.6,42.7 388.2,41.7 388.9,41.0C389.5,40.2 390.2,39.5 391.0,39.0C391.7,38.6 392.5,38.3 393.3,38.2C394.2,38.1 395.0,38.2 395.9,38.4C396.7,38.6 397.6,39.0 398.4,39.4C399.3,39.9 400.1,40.4 400.9,41.1C401.7,41.7 402.5,42.4 403.2,43.2C403.9,43.9 404.5,44.7 405.1,45.6C405.7,46.4 406.3,47.2 406.8,48.1C407.3,49.0 407.8,49.9 408.2,50.8C408.6,51.8 409.1,52.7 409.5,53.6C409.9,54.6 410.2,55.5 410.6,56.5C411.0,57.4 411.4,58.4 411.7,59.3C412.1,60.3 412.5,61.2 412.9,62.2C413.3,63.1 413.7,64.0 414.1,65.0C414.5,65.9 414.9,66.8 415.3,67.7C415.7,68.7 416.1,69.6 416.5,70.5C416.9,71.4 417.3,72.4 417.7,73.3C418.1,74.2 418.5,75.1 418.8,76.1C419.2,77.0 419.6,77.9 420.0,78.9C420.3,79.8 420.7,80.7 421.1,81.6C421.4,82.6 421.8,83.5 422.1,84.4C422.5,85.4 422.8,86.3 423.1,87.3C423.5,88.2 423.8,89.1 424.1,90.1C424.5,91.0 424.8,92.0 425.1,92.9C425.4,93.8 425.8,94.8 426.1,95.7C426.4,96.7 426.7,97.6 427.0,98.6C427.3,99.5 427.6,100.5 427.9,101.4C428.2,102.4 428.5,103.3 428.8,104.3C429.1,105.2 429.4,106.2 429.7,107.1C430.0,108.1 430.3,109.0 430.6,110.0C430.8,110.9 431.1,111.9 431.4,112.8C431.7,113.8 432.0,114.8 432.3,115.7C432.5,116.7 432.8,117.6 433.1,118.6C433.4,119.5 433.6,120.5 433.9,121.5C434.2,122.4 434.5,123.4 434.7,124.3C435.0,125.3 435.3,126.3 435.6,127.2C435.8,128.2 436.1,129.1 436.4,130.1C436.7,131.1 436.9,132.0 437.2,133.0C437.5,133.9 437.8,134.9 438.0,135.9C438.3,136.8 438.6,137.8 438.9,138.7C439.1,139.7 439.4,140.7 439.7,141.6C440.0,142.6 440.3,143.5 440.5,144.5C440.8,145.5 441.1,146.4 441.4,147.4C441.7,148.3 442.0,149.3 442.3,150.3C442.6,151.2 442.9,152.2 443.1,153.1C443.4,154.1 443.7,155.1 444.0,156.0C444.3,157.0 444.7,157.9 445.0,158.9C445.3,159.8 445.6,160.8 445.9,161.8C446.2,162.7 446.5,163.7 446.8,164.6C447.1,165.6 447.5,166.5 447.8,167.5C448.1,168.4 448.4,169.4 448.8,170.3C449.1,171.3 449.4,172.3 449.7,173.2C450.1,174.2 450.4,175.1 450.7,176.1C451.1,177.0 451.4,178.0 451.7,178.9C452.1,179.9 452.4,180.8 452.8,181.8C453.1,182.7 453.4,183.7 453.8,184.6C454.1,185.6 454.5,186.5 454.8,187.5C455.2,188.4 455.5,189.4 455.9,190.3C456.2,191.2 456.6,192.2 456.9,193.1C457.3,194.1 457.6,195.0 458.0,196.0C458.3,196.9 458.7,197.9 459.0,198.8C459.4,199.7 459.8,200.7 460.1,201.6C460.5,202.6 460.8,203.5 461.2,204.4C461.6,205.4 461.9,206.3 462.3,207.3C462.6,208.2 463.0,209.1 463.4,210.1C463.7,211.0 464.1,211.9 464.5,212.9C464.8,213.8 465.2,214.8 465.6,215.7C465.9,216.6 466.3,217.6 466.7,218.5C467.0,219.4 467.4,220.3 467.8,221.3C468.1,222.2 468.5,223.1 468.9,224.1C469.2,225.0 469.6,225.9 470.0,226.9C470.3,227.8 470.7,228.7 471.1,229.6C471.4,230.6 471.8,231.5 472.2,232.4C472.5,233.3 472.9,234.3 473.3,235.2C473.6,236.1 474.0,237.0 474.4,237.9C474.7,238.9 475.1,239.8 475.5,240.7C475.8,241.6 476.2,242.5 476.6,243.5C476.9,244.4 477.3,245.3 477.7,246.2C478.1,247.1 478.4,248.0 478.8,249.0C479.2,249.9 479.6,250.8 479.9,251.7C480.3,252.6 480.7,253.5 481.1,254.4C481.4,255.3 481.8,256.3 482.2,257.2C482.6,258.1 483.0,259.0 483.4,259.9C483.7,260.8 484.1,261.7 484.5,262.6C484.9,263.5 485.3,264.4 485.7,265.3C486.1,266.2 486.5,267.1 486.9,268.1C487.3,269.0 487.7,269.9 488.1,270.8C488.5,271.7 488.9,272.6 489.4,273.5C489.8,274.4 490.2,275.3 490.6,276.2C491.0,277.1 491.5,278.0 491.9,278.9C492.3,279.8 492.8,280.7 493.2,281.6C493.6,282.5 494.1,283.4 494.5,284.3C495.0,285.2 495.4,286.1 495.9,287.0C496.4,287.8 496.8,288.7 497.3,289.6C497.7,290.5 498.2,291.4 498.7,292.3C499.2,293.2 499.7,294.1 500.1,295.0C500.6,295.9 501.1,296.8 501.6,297.7C502.1,298.6 502.6,299.5 503.2,300.4C503.7,301.2 504.2,302.1 504.7,303.0C505.2,303.9 505.8,304.8 506.3,305.7C506.8,306.6 507.4,307.4 507.9,308.3C508.5,309.2 509.0,310.1 509.6,310.9C510.2,311.8 510.7,312.7 511.3,313.5C511.9,314.4 512.5,315.2 513.1,316.1C513.6,316.9 514.2,317.8 514.8,318.6C515.4,319.4 516.1,320.2 516.7,321.1C517.3,321.9 517.9,322.7 518.5,323.5C519.2,324.3 519.8,325.1 520.5,325.9C521.1,326.6 521.8,327.4 522.4,328.2C523.1,328.9 523.8,329.7 524.4,330.4C525.1,331.2 525.8,331.9 526.5,332.6C527.2,333.4 527.9,334.1 528.6,334.8C529.3,335.4 530.0,336.1 530.7,336.8C531.5,337.5 532.2,338.1 532.9,338.7C533.7,339.4 534.4,340.0 535.2,340.6C536.0,341.2 536.7,341.8 537.5,342.4C538.3,343.0 539.1,343.5 539.9,344.1C540.6,344.6 541.4,345.2 542.3,345.7C543.1,346.2 543.9,346.7 544.7,347.1C545.5,347.6 546.4,348.1 547.2,348.5C548.1,348.9 548.9,349.3 549.8,349.7C550.7,350.1 551.5,350.5 552.4,350.9C553.3,351.2 554.2,351.5 555.1,351.9C556.0,352.2 556.9,352.4 557.8,352.7C558.8,353.0 559.7,353.2 560.6,353.4C561.6,353.7 562.5,353.9 563.5,354.1C564.4,354.3 565.4,354.4 566.4,354.6C567.4,354.7 568.3,354.9 569.3,355.0C570.3,355.1 571.3,355.2 572.3,355.3C573.3,355.4 574.3,355.4 575.3,355.5C576.3,355.6 577.3,355.6 578.3,355.7C579.3,355.7 580.4,355.7 581.4,355.7C582.4,355.8 583.4,355.8 584.5,355.8C585.5,355.8 586.5,355.7 587.6,355.7C588.6,355.7 589.6,355.7 590.7,355.6C591.7,355.6 592.8,355.6 593.8,355.5C594.8,355.5 595.9,355.4 596.9,355.4C598.0,355.4 599.0,355.3 600.1,355.2C601.1,355.2 602.1,355.1 603.2,355.1C604.2,355.0 605.2,355.0 606.3,354.9C607.3,354.9 608.3,354.8 609.4,354.8C610.4,354.7 611.4,354.7 612.5,354.6C613.5,354.6 614.5,354.5 615.5,354.5C616.5,354.5 617.5,354.4 618.5,354.4C619.5,354.4 620.6,354.4 621.5,354.4C622.5,354.4 623.5,354.4 624.5,354.4C625.5,354.4 626.5,354.4 627.4,354.4C628.4,354.5 629.4,354.5 630.3,354.6C631.3,354.6 632.2,354.7 633.2,354.8C634.1,354.8 635.5,355.0 635.9,355.0" fill="none" stroke="#00ff00" stroke-width="3.3" stroke-linejoin="round" stroke-linecap="butt"/>
<path d="M112.9,354.7C113.5,354.6 115.1,354.3 116.1,354.1C117.2,353.9 118.2,353.7 119.2,353.5C120.2,353.4 121.2,353.2 122.2,353.1C123.2,353.0 124.2,352.9 125.2,352.8C126.2,352.7 127.1,352.6 128.1,352.5C129.0,352.4 130.0,352.4 130.9,352.3C131.9,352.3 132.8,352.3 133.7,352.2C134.7,352.2 135.6,352.2 136.5,352.2C137.5,352.2 138.4,352.2 139.3,352.3C140.3,352.3 141.2,352.3 142.2,352.4C143.1,352.4 144.0,352.5 145.0,352.5C145.9,352.6 146.9,352.7 147.8,352.7C148.8,352.8 149.8,352.9 150.7,353.0C151.7,353.1 152.7,353.2 153.7,353.3C154.7,353.4 155.7,353.5 156.7,353.6C157.7,353.7 158.8,353.8 159.8,353.9C160.9,354.0 161.9,354.2 163.0,354.3C164.0,354.4 165.1,354.5 166.2,354.6C167.3,354.7 168.4,354.8 169.4,354.9C170.5,355.0 171.6,355.1 172.7,355.2C173.8,355.3 174.9,355.3 176.0,355.4C177.1,355.5 178.1,355.5 179.2,355.5C180.3,355.6 181.4,355.6 182.4,355.6C183.5,355.6 184.6,355.6 185.6,355.6C186.7,355.5 187.7,355.5 188.8,355.4C189.8,355.3 190.8,355.2 191.8,355.1C192.8,355.0 193.8,354.9 194.8,354.7C195.7,354.5 196.7,354.3 197.6,354.1C198.6,353.9 199.5,353.6 200.4,353.3C201.3,353.0 202.1,352.7 203.0,352.4C203.8,352.0 204.7,351.6 205.5,351.2C206.2,350.8 207.0,350.3 207.8,349.8C208.5,349.3 209.2,348.8 209.9,348.2C210.6,347.6 211.3,347.0 211.9,346.4C212.6,345.8 213.2,345.1 213.8,344.4C214.4,343.7 214.9,343.0 215.5,342.3C216.0,341.5 216.6,340.7 217.1,340.0C217.6,339.2 218.1,338.4 218.6,337.5C219.0,336.7 219.5,335.8 219.9,334.9C220.3,334.1 220.8,333.2 221.2,332.3C221.6,331.4 221.9,330.4 222.3,329.5C222.7,328.6 223.0,327.6 223.3,326.6C223.7,325.7 224.0,324.7 224.3,323.7C224.6,322.7 224.9,321.7 225.2,320.7C225.5,319.7 225.7,318.7 226.0,317.7C226.2,316.7 226.5,315.6 226.7,314.6C227.0,313.6 227.2,312.6 227.4,311.5C227.6,310.5 227.8,309.5 228.0,308.5C228.2,307.4 228.4,306.4 228.6,305.4C228.7,304.4 228.9,303.4 229.1,302.4C229.3,301.3 229.4,300.3 229.6,299.3C229.7,298.3 229.9,297.3 230.0,296.3C230.1,295.3 230.3,294.3 230.4,293.3C230.5,292.3 230.7,291.3 230.8,290.3C230.9,289.3 231.0,288.3 231.1,287.3C231.3,286.3 231.4,285.3 231.5,284.3C231.6,283.3 231.7,282.3 231.8,281.4C231.9,280.4 232.0,279.4 232.1,278.4C232.2,277.4 232.3,276.4 232.4,275.4C232.4,274.4 232.5,273.5 232.6,272.5C232.7,271.5 232.8,270.5 232.9,269.5C233.0,268.5 233.1,267.5 233.2,266.6C233.2,265.6 233.3,264.6 233.4,263.6C233.5,262.6 233.6,261.6 233.7,260.6C233.8,259.6 233.9,258.7 234.0,257.7C234.1,256.7 234.2,255.7 234.3,254.7C234.4,253.7 234.5,252.7 234.6,251.7C234.7,250.7 234.8,249.7 234.9,248.8C235.0,247.8 235.1,246.8 235.2,245.8C235.3,244.8 235.4,243.8 235.5,242.8C235.6,241.8 235.7,240.8 235.8,239.8C235.9,238.8 236.0,237.8 236.1,236.8C236.3,235.8 236.4,234.9 236.5,233.9C236.6,232.9 236.7,231.9 236.8,230.9C237.0,229.9 237.1,228.9 237.2,227.9C237.3,226.9 237.4,225.9 237.6,224.9C237.7,223.9 237.8,222.9 237.9,221.9C238.1,220.9 238.2,219.9 238.3,218.9C238.5,217.9 238.6,216.9 238.7,215.9C238.9,214.9 239.0,213.9 239.1,213.0C239.3,212.0 239.4,211.0 239.5,210.0C239.7,209.0 239.8,208.0 240.0,207.0C240.1,206.0 240.3,205.0 240.4,204.0C240.6,203.0 240.7,202.0 240.8,201.0C241.0,200.0 241.2,199.0 241.3,198.0C241.5,197.0 241.6,196.0 241.8,195.0C241.9,194.0 242.1,193.0 242.2,192.0C242.4,191.0 242.6,190.0 242.7,189.0C242.9,188.1 243.1,187.1 243.2,186.1C243.4,185.1 243.6,184.1 243.7,183.1C243.9,182.1 244.1,181.1 244.3,180.1C244.4,179.1 244.6,178.1 244.8,177.1C245.0,176.1 245.1,175.1 245.3,174.1C245.5,173.2 245.7,172.2 245.9,171.2C246.1,170.2 246.3,169.2 246.5,168.2C246.6,167.2 246.8,166.2 247.0,165.2C247.2,164.2 247.4,163.2 247.6,162.3C247.8,161.3 248.0,160.3 248.3,159.3C248.5,158.3 248.7,157.3 249.0,156.3C249.3,155.3 249.6,154.3 250.0,153.3C250.3,152.3 250.7,151.2 251.2,150.2C251.7,149.2 252.2,148.2 252.8,147.3C253.3,146.4 253.9,145.5 254.6,144.8C255.3,144.1 256.0,143.4 256.7,142.9C257.4,142.4 258.2,142.1 259.0,141.9C259.8,141.7 260.7,141.7 261.5,141.7C262.4,141.8 263.2,141.9 264.1,142.2C265.0,142.5 265.9,142.8 266.8,143.3C267.7,143.7 268.6,144.2 269.4,144.8C270.3,145.3 271.2,146.0 272.1,146.6C272.9,147.3 273.7,148.0 274.5,148.7C275.4,149.4 276.1,150.2 276.9,150.9C277.6,151.7 278.3,152.5 279.0,153.2C279.7,154.0 280.4,154.8 281.1,155.6C281.7,156.4 282.4,157.1 283.0,157.9C283.6,158.7 284.3,159.5 284.9,160.3C285.5,161.1 286.1,161.9 286.7,162.7C287.3,163.5 287.9,164.3 288.5,165.1C289.2,165.9 289.8,166.6 290.4,167.4C291.0,168.2 291.7,169.0 292.3,169.7C292.9,170.5 293.6,171.3 294.2,172.0C294.9,172.8 295.5,173.6 296.1,174.3C296.8,175.1 297.4,175.8 298.1,176.6C298.7,177.4 299.3,178.1 300.0,178.9C300.6,179.7 301.3,180.4 301.9,181.2C302.5,182.0 303.2,182.7 303.8,183.5C304.4,184.3 305.0,185.1 305.7,185.8C306.3,186.6 306.9,187.4 307.6,188.2C308.2,189.0 308.8,189.8 309.4,190.5C310.1,191.3 310.7,192.1 311.3,192.9C311.9,193.7 312.5,194.5 313.2,195.3C313.8,196.1 314.4,196.9 315.0,197.6C315.7,198.4 316.3,199.2 316.9,200.0C317.5,200.8 318.2,201.6 318.8,202.4C319.4,203.2 320.0,203.9 320.7,204.7C321.3,205.5 321.9,206.3 322.6,207.1C323.2,207.9 323.8,208.6 324.5,209.4C325.1,210.2 325.7,211.0 326.4,211.8C327.0,212.5 327.7,213.3 328.3,214.1C329.0,214.8 329.6,215.6 330.3,216.4C330.9,217.1 331.6,217.9 332.2,218.7C332.9,219.4 333.5,220.2 334.2,220.9C334.9,221.7 335.5,222.4 336.2,223.2C336.9,223.9 337.5,224.7 338.2,225.4C338.9,226.1 339.6,226.9 340.2,227.6C340.9,228.3 341.6,229.1 342.3,229.8C343.0,230.5 343.7,231.3 344.3,232.0C345.0,232.7 345.7,233.4 346.4,234.2C347.1,234.9 347.8,235.6 348.5,236.3C349.2,237.0 349.9,237.8 350.6,238.5C351.3,239.2 352.0,239.9 352.7,240.6C353.4,241.3 354.1,242.0 354.8,242.8C355.5,243.5 356.2,244.2 356.9,244.9C357.6,245.6 358.3,246.3 359.1,247.0C359.8,247.7 360.5,248.4 361.2,249.1C361.9,249.8 362.6,250.5 363.3,251.2C364.1,251.9 364.8,252.6 365.5,253.3C366.2,254.0 366.9,254.7 367.6,255.4C368.4,256.1 369.1,256.8 369.8,257.5C370.5,258.2 371.2,258.9 372.0,259.6C372.7,260.3 373.4,261.0 374.1,261.7C374.9,262.4 375.6,263.1 376.3,263.8C377.1,264.5 377.8,265.1 378.5,265.8C379.3,266.5 380.0,267.2 380.7,267.9C381.5,268.6 382.2,269.3 382.9,269.9C383.7,270.6 384.4,271.3 385.1,272.0C385.9,272.6 386.6,273.3 387.4,274.0C388.1,274.7 388.9,275.3 389.6,276.0C390.4,276.7 391.1,277.4 391.9,278.0C392.6,278.7 393.4,279.3 394.1,280.0C394.9,280.7 395.6,281.3 396.4,282.0C397.1,282.6 397.9,283.3 398.7,284.0C399.4,284.6 400.2,285.3 400.9,285.9C401.7,286.6 402.5,287.2 403.3,287.8C404.0,288.5 404.8,289.1 405.6,289.8C406.3,290.4 407.1,291.0 407.9,291.7C408.7,292.3 409.4,292.9 410.2,293.5C411.0,294.2 411.8,294.8 412.6,295.4C413.4,296.0 414.2,296.7 414.9,297.3C415.7,297.9 416.5,298.5 417.3,299.1C418.1,299.7 418.9,300.3 419.7,300.9C420.5,301.5 421.3,302.1 422.1,302.7C422.9,303.3 423.7,303.9 424.6,304.5C425.4,305.1 426.2,305.7 427.0,306.2C427.8,306.8 428.6,307.4 429.4,308.0C430.3,308.6 431.1,309.1 431.9,309.7C432.7,310.3 433.6,310.8 434.4,311.4C435.2,311.9 436.1,312.5 436.9,313.0C437.7,313.6 438.6,314.1 439.4,314.7C440.3,315.2 441.1,315.8 442.0,316.3C442.8,316.8 443.7,317.4 444.5,317.9C445.4,318.4 446.2,318.9 447.1,319.5C447.9,320.0 448.8,320.5 449.7,321.0C450.5,321.5 451.4,322.0 452.3,322.5C453.1,323.0 454.0,323.5 454.9,324.0C455.8,324.5 456.7,325.0 457.5,325.4C458.4,325.9 459.3,326.4 460.2,326.9C461.1,327.3 462.0,327.8 462.9,328.3C463.8,328.7 464.7,329.2 465.6,329.6C466.5,330.1 467.4,330.5 468.3,331.0C469.2,331.4 470.1,331.9 471.0,332.3C471.9,332.7 472.8,333.1 473.7,333.6C474.6,334.0 475.5,334.4 476.5,334.8C477.4,335.2 478.3,335.6 479.2,336.0C480.1,336.4 481.1,336.8 482.0,337.2C482.9,337.6 483.8,338.0 484.8,338.3C485.7,338.7 486.6,339.1 487.6,339.4C488.5,339.8 489.4,340.2 490.4,340.5C491.3,340.9 492.3,341.2 493.2,341.6C494.1,341.9 495.1,342.2 496.0,342.6C497.0,342.9 497.9,343.2 498.9,343.5C499.8,343.9 500.8,344.2 501.7,344.5C502.7,344.8 503.7,345.1 504.6,345.4C505.6,345.7 506.5,345.9 507.5,346.2C508.4,346.5 509.4,346.8 510.4,347.0C511.3,347.3 512.3,347.6 513.3,347.8C514.2,348.1 515.2,348.3 516.2,348.5C517.2,348.8 518.1,349.0 519.1,349.2C520.1,349.5 521.0,349.7 522.0,349.9C523.0,350.1 524.0,350.3 525.0,350.5C525.9,350.7 526.9,350.9 527.9,351.1C528.9,351.3 529.9,351.4 530.9,351.6C531.8,351.8 532.8,351.9 533.8,352.1C534.8,352.2 535.8,352.4 536.8,352.5C537.8,352.7 538.8,352.8 539.7,352.9C540.7,353.1 541.7,353.2 542.7,353.3C543.7,353.4 544.7,353.5 545.7,353.6C546.7,353.7 547.7,353.8 548.7,353.9C549.7,354.0 550.7,354.0 551.7,354.1C552.7,354.2 553.7,354.3 554.7,354.3C555.7,354.4 556.7,354.5 557.7,354.5C558.7,354.6 559.7,354.6 560.7,354.7C561.7,354.7 562.7,354.8 563.7,354.8C564.7,354.8 565.7,354.9 566.7,354.9C567.7,354.9 568.7,354.9 569.7,355.0C570.7,355.0 571.8,355.0 572.8,355.0C573.8,355.0 574.8,355.0 575.8,355.1C576.8,355.1 577.8,355.1 578.8,355.1C579.8,355.1 580.8,355.1 581.8,355.1C582.8,355.1 583.8,355.1 584.8,355.1C585.9,355.1 586.9,355.1 587.9,355.1C588.9,355.1 589.9,355.0 590.9,355.0C591.9,355.0 592.9,355.0 593.9,355.0C594.9,355.0 595.9,355.0 596.9,355.0C598.0,355.0 599.0,354.9 600.0,354.9C601.0,354.9 602.0,354.9 603.0,354.9C604.0,354.9 605.0,354.9 606.0,354.8C607.0,354.8 608.0,354.8 609.0,354.8C610.0,354.8 611.0,354.8 612.0,354.8C613.0,354.8 614.0,354.8 615.0,354.8C616.0,354.8 617.0,354.8 618.0,354.8C619.1,354.8 620.1,354.8 621.1,354.8C622.1,354.8 623.1,354.8 624.0,354.8C625.0,354.8 626.0,354.8 627.0,354.8C628.0,354.8 629.0,354.8 630.0,354.9C631.0,354.9 632.0,354.9 633.0,354.9C634.0,355.0 635.5,355.0 636.0,355.0" fill="none" stroke="#ff00ff" stroke-width="3.3" stroke-linejoin="round" stroke-linecap="butt"/>
</g>
<clipPath id="c1"><rect x="755.40" y="3.00" width="523.00" height="365.00"/></clipPath>
<g clip-path="url(#c1)">
<path d="M755.4,358.3C755.5,357.8 755.7,356.5 755.8,355.5C755.9,354.6 756.0,353.6 756.1,352.6C756.2,351.6 756.3,350.6 756.4,349.6C756.4,348.6 756.5,347.6 756.6,346.5C756.6,345.5 756.7,344.5 756.8,343.4C756.8,342.4 756.9,341.4 756.9,340.3C757.0,339.3 757.0,338.2 757.0,337.2C757.1,336.2 757.1,335.1 757.2,334.1C757.2,333.1 757.3,332.1 757.3,331.1C757.4,330.1 757.4,329.1 757.5,328.2C757.5,327.2 757.6,326.3 757.6,325.4C757.7,324.4 757.8,323.5 757.8,322.6C757.9,321.7 758.0,320.8 758.1,319.9C758.1,318.9 758.2,318.0 758.3,317.0C758.4,316.1 758.5,315.1 758.6,314.1C758.6,313.0 758.7,312.0 758.8,310.8C758.9,309.7 759.0,308.5 759.1,307.3C759.2,306.1 759.3,304.9 759.4,303.6C759.5,302.4 759.7,301.2 759.9,300.1C760.1,298.9 760.3,297.8 760.6,296.8C760.9,295.9 761.3,295.0 761.7,294.4C762.1,293.8 762.5,293.3 763.0,293.3C763.4,293.3 763.9,293.7 764.4,294.2C764.8,294.8 765.3,295.8 765.7,296.7C766.2,297.7 766.6,298.9 766.9,300.1C767.3,301.2 767.6,302.5 767.9,303.7C768.2,304.9 768.4,306.1 768.7,307.2C768.9,308.3 769.1,309.4 769.3,310.4C769.5,311.4 769.7,312.4 769.9,313.4C770.0,314.3 770.2,315.2 770.3,316.1C770.5,317.0 770.6,317.9 770.8,318.8C770.9,319.7 771.1,320.6 771.3,321.5C771.4,322.5 771.6,323.4 771.8,324.4C771.9,325.3 772.1,326.3 772.3,327.3C772.5,328.3 772.8,329.3 773.0,330.4C773.2,331.4 773.5,332.4 773.8,333.5C774.0,334.5 774.3,335.5 774.6,336.5C775.0,337.6 775.3,338.6 775.7,339.6C776.0,340.6 776.4,341.5 776.8,342.5C777.2,343.4 777.7,344.4 778.2,345.3C778.6,346.1 779.1,347.0 779.7,347.8C780.2,348.6 780.8,349.4 781.4,350.1C782.0,350.8 782.6,351.5 783.3,352.1C784.0,352.7 784.7,353.2 785.5,353.7C786.2,354.3 787.0,354.7 787.8,355.1C788.6,355.5 789.4,355.9 790.3,356.2C791.2,356.5 792.0,356.8 793.0,357.0C793.9,357.3 794.8,357.5 795.8,357.7C796.7,357.9 797.7,358.0 798.7,358.1C799.6,358.3 800.6,358.4 801.7,358.4C802.7,358.5 803.7,358.6 804.7,358.6C805.8,358.6 806.8,358.7 807.9,358.7C808.9,358.7 810.0,358.7 811.0,358.7C812.1,358.7 813.1,358.7 814.2,358.6C815.2,358.6 816.3,358.6 817.3,358.6C818.4,358.6 819.4,358.6 820.5,358.6C821.5,358.5 822.5,358.5 823.6,358.5C824.6,358.5 825.6,358.5 826.6,358.5C827.7,358.5 828.7,358.5 829.7,358.5C830.7,358.5 831.7,358.5 832.7,358.5C833.7,358.5 834.8,358.5 835.8,358.5C836.8,358.6 837.8,358.6 838.8,358.6C839.8,358.6 840.8,358.6 841.8,358.6C842.8,358.6 843.7,358.6 844.7,358.6C845.7,358.6 846.7,358.7 847.7,358.7C848.7,358.7 849.7,358.7 850.7,358.7C851.7,358.7 852.7,358.7 853.6,358.8C854.6,358.8 855.6,358.8 856.6,358.8C857.6,358.8 858.6,358.8 859.6,358.8C860.6,358.8 861.5,358.8 862.5,358.9C863.5,358.9 864.5,358.9 865.5,358.9C866.5,358.9 867.5,358.9 868.5,358.9C869.5,358.9 870.5,358.9 871.4,358.9C872.4,358.9 873.4,358.9 874.4,358.9C875.4,358.9 876.4,358.9 877.4,359.0C878.4,359.0 879.4,359.0 880.4,359.0C881.4,359.0 882.4,359.0 883.4,359.0C884.4,359.0 885.4,359.0 886.4,359.0C887.4,359.0 888.4,359.0 889.4,359.0C890.4,359.0 891.4,359.0 892.4,359.0C893.4,359.0 894.4,359.0 895.4,358.9C896.4,358.9 897.4,358.9 898.4,358.9C899.4,358.9 900.4,358.9 901.4,358.9C902.4,358.9 903.4,358.9 904.4,358.9C905.4,358.9 906.4,358.9 907.4,358.9C908.4,358.9 909.4,358.9 910.4,358.9C911.4,358.9 912.4,358.9 913.4,358.9C914.4,358.9 915.4,358.9 916.4,358.9C917.4,358.8 918.4,358.8 919.5,358.8C920.5,358.8 921.5,358.8 922.5,358.8C923.5,358.8 924.5,358.8 925.5,358.8C926.5,358.8 927.5,358.8 928.5,358.8C929.5,358.8 930.5,358.8 931.5,358.8C932.5,358.8 933.5,358.8 934.5,358.8C935.5,358.7 936.5,358.7 937.5,358.7C938.6,358.7 939.6,358.7 940.6,358.7C941.6,358.7 942.6,358.7 943.6,358.7C944.6,358.7 945.6,358.7 946.6,358.7C947.6,358.7 948.6,358.7 949.6,358.7C950.6,358.7 951.6,358.7 952.6,358.7C953.6,358.7 954.6,358.7 955.6,358.7C956.6,358.7 957.6,358.7 958.6,358.7C959.6,358.7 960.7,358.7 961.7,358.7C962.7,358.7 963.7,358.7 964.7,358.7C965.7,358.7 966.7,358.7 967.7,358.7C968.7,358.7 969.7,358.7 970.7,358.7C971.7,358.7 972.7,358.7 973.7,358.7C974.7,358.7 975.7,358.7 976.7,358.7C977.7,358.7 978.7,358.7 979.7,358.7C980.7,358.7 981.7,358.7 982.7,358.7C983.7,358.7 984.7,358.7 985.7,358.7C986.7,358.7 987.7,358.7 988.7,358.7C989.7,358.7 990.7,358.7 991.7,358.7C992.7,358.7 993.7,358.7 994.7,358.7C995.7,358.7 996.7,358.7 997.7,358.8C998.7,358.8 999.7,358.8 1000.7,358.8C1001.7,358.8 1002.7,358.8 1003.7,358.8C1004.7,358.8 1005.7,358.8 1006.7,358.8C1007.7,358.8 1008.7,358.8 1009.7,358.8C1010.7,358.8 1011.7,358.8 1012.7,358.8C1013.7,358.8 1014.8,358.8 1015.8,358.8C1016.8,358.8 1017.8,358.8 1018.8,358.8C1019.8,358.8 1020.8,358.8 1021.8,358.8C1022.8,358.8 1023.8,358.8 1024.8,358.8C1025.8,358.8 1026.8,358.8 1027.8,358.8C1028.8,358.8 1029.8,358.8 1030.8,358.8C1031.8,358.8 1032.8,358.8 1033.8,358.8C1034.8,358.9 1035.8,358.9 1036.8,358.9C1037.8,358.9 1038.8,358.9 1039.8,358.9C1040.8,358.9 1041.8,358.9 1042.8,358.9C1043.8,358.9 1044.8,358.9 1045.8,358.9C1046.8,358.9 1047.8,358.9 1048.8,358.9C1049.8,358.9 1050.8,358.9 1051.8,358.9C1052.8,358.9 1053.8,358.8 1054.8,358.8C1055.8,358.8 1056.8,358.8 1057.8,358.8C1058.8,358.8 1059.8,358.8 1060.8,358.8C1061.8,358.8 1062.8,358.8 1063.8,358.8C1064.8,358.8 1065.8,358.8 1066.8,358.8C1067.8,358.8 1068.8,358.8 1069.8,358.8C1070.8,358.8 1071.8,358.8 1072.8,358.8C1073.8,358.8 1074.8,358.8 1075.8,358.8C1076.8,358.8 1077.8,358.7 1078.8,358.7C1079.8,358.7 1080.8,358.7 1081.8,358.7C1082.8,358.7 1083.8,358.7 1084.8,358.7C1085.8,358.7 1086.8,358.7 1087.8,358.7C1088.8,358.6 1089.8,358.6 1090.8,358.6C1091.8,358.6 1092.8,358.6 1093.8,358.6C1094.8,358.6 1095.8,358.6 1096.8,358.5C1097.8,358.5 1098.8,358.5 1099.8,358.5C1100.8,358.5 1101.8,358.5 1102.8,358.5C1103.8,358.4 1104.8,358.4 1105.8,358.4C1106.8,358.4 1107.8,358.4 1108.8,358.3C1109.8,358.3 1110.8,358.3 1111.8,358.3C1112.8,358.3 1113.8,358.3 1114.8,358.2C1115.8,358.2 1116.8,358.2 1117.8,358.2C1118.8,358.1 1119.8,358.1 1120.9,358.1C1121.9,358.1 1122.9,358.0 1123.9,358.0C1124.9,358.0 1125.9,358.0 1126.9,357.9C1127.9,357.9 1128.9,357.9 1129.9,357.9C1130.9,357.8 1131.9,357.8 1132.9,357.8C1133.9,357.8 1134.9,357.7 1135.9,357.7C1136.9,357.7 1137.9,357.6 1138.9,357.6C1139.9,357.6 1140.9,357.6 1141.9,357.5C1142.9,357.5 1143.9,357.5 1144.9,357.4C1145.9,357.4 1146.9,357.4 1147.9,357.3C1148.9,357.3 1149.9,357.3 1151.0,357.2C1152.0,357.2 1153.0,357.2 1154.0,357.2C1155.0,357.1 1156.0,357.1 1157.0,357.1C1158.0,357.0 1159.0,357.0 1160.0,357.0C1161.0,356.9 1162.0,356.9 1163.0,356.9C1164.0,356.9 1165.0,356.8 1166.0,356.8C1167.0,356.8 1168.0,356.7 1169.0,356.7C1170.0,356.7 1171.0,356.7 1172.0,356.6C1173.0,356.6 1174.0,356.6 1175.0,356.6C1176.0,356.5 1177.0,356.5 1178.0,356.5C1179.0,356.5 1180.0,356.5 1181.0,356.4C1182.0,356.4 1183.0,356.4 1184.0,356.4C1184.9,356.4 1185.9,356.4 1186.9,356.4C1187.9,356.4 1188.9,356.4 1189.9,356.4C1190.9,356.4 1191.9,356.4 1192.9,356.4C1193.9,356.4 1194.9,356.4 1195.9,356.4C1196.9,356.5 1197.9,356.5 1198.9,356.5C1199.9,356.5 1200.9,356.5 1201.9,356.6C1202.9,356.6 1203.9,356.6 1204.9,356.7C1205.9,356.7 1206.9,356.8 1207.9,356.8C1208.9,356.9 1209.9,356.9 1210.9,357.0C1211.9,357.0 1212.9,357.1 1213.9,357.1C1214.9,357.2 1215.9,357.2 1216.9,357.3C1217.9,357.3 1218.9,357.4 1219.9,357.5C1220.9,357.5 1221.9,357.6 1222.9,357.7C1223.9,357.7 1224.9,357.8 1225.9,357.8C1226.9,357.9 1227.9,358.0 1228.9,358.0C1229.9,358.1 1230.9,358.2 1231.9,358.2C1232.9,358.3 1233.9,358.3 1234.9,358.4C1235.9,358.5 1236.9,358.5 1237.9,358.6C1238.9,358.6 1239.9,358.7 1240.9,358.7C1241.9,358.8 1242.9,358.8 1243.9,358.9C1244.9,358.9 1245.9,359.0 1246.9,359.0C1247.9,359.1 1248.9,359.1 1249.9,359.1C1250.9,359.2 1251.9,359.2 1253.0,359.2C1254.0,359.3 1255.0,359.3 1256.0,359.3C1257.0,359.3 1258.0,359.3 1259.0,359.3C1260.0,359.3 1261.0,359.3 1262.0,359.3C1263.0,359.3 1264.0,359.3 1265.0,359.3C1266.0,359.3 1267.0,359.3 1268.0,359.2C1269.0,359.2 1270.0,359.2 1271.0,359.1C1272.0,359.1 1273.0,359.0 1274.0,359.0C1275.0,358.9 1276.0,358.9 1277.0,358.8C1278.0,358.7 1279.5,358.6 1280.0,358.5" fill="none" stroke="#000000" stroke-width="3.3" stroke-linejoin="round" stroke-linecap="butt"/>
<path d="M755.5,358.3C755.6,357.8 755.8,356.4 756.0,355.4C756.2,354.4 756.4,353.4 756.6,352.5C756.8,351.5 757.0,350.5 757.1,349.5C757.3,348.5 757.5,347.6 757.7,346.6C757.9,345.6 758.0,344.6 758.2,343.6C758.4,342.6 758.5,341.7 758.7,340.7C758.8,339.7 759.0,338.7 759.2,337.7C759.3,336.7 759.5,335.7 759.6,334.7C759.8,333.8 759.9,332.8 760.1,331.8C760.2,330.8 760.4,329.8 760.5,328.8C760.6,327.8 760.8,326.8 760.9,325.8C761.1,324.8 761.2,323.8 761.3,322.8C761.5,321.8 761.6,320.8 761.7,319.8C761.9,318.8 762.0,317.8 762.1,316.8C762.2,315.8 762.4,314.8 762.5,313.8C762.6,312.8 762.7,311.8 762.8,310.8C763.0,309.8 763.1,308.8 763.2,307.8C763.3,306.8 763.4,305.8 763.5,304.8C763.6,303.8 763.7,302.8 763.9,301.8C764.0,300.8 764.1,299.8 764.2,298.8C764.3,297.8 764.4,296.8 764.5,295.8C764.6,294.8 764.7,293.8 764.8,292.8C764.9,291.8 765.0,290.8 765.1,289.8C765.2,288.8 765.3,287.8 765.4,286.8C765.5,285.8 765.6,284.8 765.7,283.8C765.8,282.8 765.8,281.8 765.9,280.8C766.0,279.8 766.1,278.7 766.2,277.7C766.3,276.7 766.4,275.7 766.5,274.7C766.6,273.7 766.7,272.7 766.7,271.7C766.8,270.7 766.9,269.7 767.0,268.7C767.1,267.7 767.2,266.7 767.3,265.7C767.4,264.7 767.4,263.7 767.5,262.7C767.6,261.7 767.7,260.8 767.8,259.8C767.9,258.8 767.9,257.8 768.0,256.8C768.1,255.8 768.2,254.8 768.3,253.8C768.4,252.8 768.5,251.8 768.5,250.8C768.6,249.8 768.7,248.8 768.8,247.8C768.9,246.9 769.0,245.9 769.0,244.9C769.1,243.9 769.2,242.9 769.3,241.9C769.4,240.9 769.5,239.9 769.6,239.0C769.6,238.0 769.7,237.0 769.8,236.0C769.9,235.0 770.0,234.0 770.1,233.0C770.2,232.1 770.3,231.1 770.4,230.1C770.4,229.1 770.5,228.1 770.6,227.1C770.7,226.1 770.8,225.1 770.9,224.2C771.0,223.2 771.1,222.2 771.2,221.2C771.3,220.2 771.4,219.2 771.5,218.2C771.6,217.2 771.7,216.2 771.8,215.2C771.9,214.2 772.0,213.2 772.1,212.2C772.2,211.2 772.3,210.2 772.4,209.2C772.6,208.2 772.7,207.2 772.8,206.2C772.9,205.2 773.0,204.1 773.1,203.1C773.2,202.1 773.4,201.1 773.5,200.1C773.6,199.0 773.7,198.0 773.9,197.0C774.0,195.9 774.1,194.9 774.2,193.9C774.4,192.8 774.5,191.8 774.6,190.8C774.8,189.7 774.9,188.7 775.1,187.6C775.2,186.6 775.4,185.5 775.6,184.4C775.7,183.4 775.9,182.3 776.2,181.2C776.4,180.2 776.7,179.1 777.0,178.0C777.3,176.9 777.6,175.8 778.0,174.8C778.3,173.8 778.7,172.7 779.1,171.9C779.6,171.1 780.0,170.3 780.5,169.8C780.9,169.3 781.4,169.0 781.9,169.0C782.3,168.9 782.8,169.2 783.3,169.6C783.7,170.0 784.2,170.7 784.6,171.5C785.1,172.3 785.5,173.3 785.9,174.3C786.3,175.3 786.7,176.5 787.0,177.7C787.4,178.8 787.7,180.1 787.9,181.3C788.2,182.5 788.5,183.7 788.8,184.9C789.0,186.1 789.2,187.2 789.5,188.4C789.7,189.5 789.9,190.6 790.2,191.7C790.4,192.7 790.6,193.8 790.8,194.8C791.0,195.9 791.2,196.9 791.4,197.9C791.6,198.8 791.8,199.8 792.0,200.8C792.2,201.8 792.3,202.7 792.5,203.6C792.7,204.6 792.9,205.5 793.1,206.5C793.2,207.4 793.4,208.3 793.6,209.3C793.8,210.2 793.9,211.1 794.1,212.1C794.3,213.0 794.5,213.9 794.7,214.9C794.9,215.8 795.0,216.8 795.2,217.8C795.4,218.7 795.6,219.7 795.8,220.6C796.0,221.6 796.2,222.6 796.4,223.6C796.6,224.5 796.8,225.5 797.0,226.5C797.2,227.5 797.4,228.5 797.6,229.5C797.8,230.5 798.0,231.5 798.1,232.4C798.3,233.4 798.5,234.4 798.7,235.4C798.9,236.4 799.1,237.4 799.3,238.4C799.5,239.4 799.7,240.4 799.9,241.4C800.1,242.4 800.3,243.4 800.5,244.4C800.7,245.4 800.9,246.4 801.1,247.4C801.3,248.4 801.5,249.4 801.7,250.4C801.9,251.4 802.1,252.4 802.3,253.4C802.5,254.4 802.7,255.4 802.9,256.4C803.1,257.4 803.3,258.4 803.5,259.4C803.7,260.4 803.9,261.3 804.1,262.3C804.3,263.3 804.5,264.3 804.7,265.3C804.9,266.3 805.1,267.3 805.3,268.3C805.5,269.2 805.8,270.2 806.0,271.2C806.2,272.2 806.4,273.2 806.6,274.1C806.8,275.1 807.0,276.1 807.2,277.1C807.5,278.1 807.7,279.0 807.9,280.0C808.1,281.0 808.4,281.9 808.6,282.9C808.8,283.9 809.0,284.8 809.3,285.8C809.5,286.8 809.7,287.7 810.0,288.7C810.2,289.6 810.4,290.6 810.7,291.5C810.9,292.5 811.2,293.5 811.4,294.4C811.7,295.3 811.9,296.3 812.2,297.2C812.4,298.2 812.7,299.1 813.0,300.1C813.2,301.0 813.5,301.9 813.8,302.9C814.1,303.8 814.4,304.8 814.7,305.7C814.9,306.6 815.2,307.6 815.6,308.5C815.9,309.5 816.2,310.4 816.5,311.3C816.8,312.3 817.2,313.2 817.5,314.2C817.9,315.1 818.2,316.1 818.6,317.0C819.0,318.0 819.3,318.9 819.7,319.9C820.1,320.9 820.5,321.8 820.9,322.8C821.4,323.7 821.8,324.7 822.2,325.7C822.7,326.6 823.1,327.6 823.6,328.5C824.1,329.5 824.6,330.4 825.1,331.3C825.6,332.3 826.1,333.2 826.7,334.1C827.2,335.0 827.8,335.8 828.3,336.7C828.9,337.5 829.5,338.3 830.1,339.1C830.8,339.9 831.4,340.7 832.1,341.4C832.7,342.2 833.4,342.9 834.1,343.5C834.8,344.2 835.6,344.8 836.3,345.4C837.1,346.0 837.8,346.5 838.6,347.0C839.4,347.6 840.2,348.1 841.1,348.5C841.9,349.0 842.7,349.4 843.6,349.8C844.4,350.2 845.3,350.6 846.2,350.9C847.1,351.3 848.0,351.6 848.9,351.9C849.8,352.2 850.8,352.5 851.7,352.8C852.6,353.0 853.6,353.2 854.5,353.5C855.5,353.7 856.5,353.9 857.5,354.1C858.4,354.3 859.4,354.4 860.4,354.6C861.4,354.8 862.4,354.9 863.4,355.0C864.4,355.2 865.4,355.3 866.4,355.4C867.4,355.5 868.4,355.6 869.5,355.7C870.5,355.8 871.5,355.9 872.5,356.0C873.5,356.1 874.5,356.2 875.6,356.3C876.6,356.3 877.6,356.4 878.6,356.5C879.6,356.6 880.6,356.6 881.7,356.7C882.7,356.8 883.7,356.8 884.7,356.9C885.7,357.0 886.7,357.0 887.7,357.1C888.7,357.1 889.7,357.2 890.8,357.2C891.8,357.3 892.8,357.3 893.8,357.4C894.8,357.4 895.8,357.5 896.8,357.5C897.8,357.6 898.8,357.6 899.8,357.6C900.9,357.7 901.9,357.7 902.9,357.7C903.9,357.8 904.9,357.8 905.9,357.8C906.9,357.8 907.9,357.9 908.9,357.9C909.9,357.9 910.9,357.9 911.9,358.0C912.9,358.0 913.9,358.0 914.9,358.0C915.9,358.0 916.9,358.1 917.9,358.1C919.0,358.1 920.0,358.1 921.0,358.1C922.0,358.1 923.0,358.1 924.0,358.1C925.0,358.1 926.0,358.1 927.0,358.1C928.0,358.2 929.0,358.2 930.0,358.2C931.0,358.2 932.0,358.2 933.0,358.2C934.0,358.2 935.0,358.2 936.0,358.2C937.0,358.2 938.0,358.2 939.0,358.2C940.0,358.2 941.0,358.1 942.0,358.1C943.0,358.1 944.0,358.1 945.0,358.1C946.0,358.1 947.0,358.1 948.0,358.1C949.0,358.1 950.0,358.1 951.0,358.1C952.0,358.1 953.0,358.1 954.0,358.1C955.0,358.1 956.0,358.1 957.0,358.1C958.0,358.0 959.0,358.0 960.0,358.0C961.0,358.0 962.0,358.0 963.0,358.0C964.0,358.0 965.0,358.0 966.0,358.0C967.0,358.0 968.0,358.0 969.0,358.0C970.0,358.0 971.0,358.0 972.0,357.9C973.0,357.9 974.0,357.9 975.0,357.9C976.0,357.9 977.0,357.9 978.0,357.9C979.0,357.9 980.0,357.9 981.0,357.9C982.0,357.9 983.0,357.9 984.0,357.9C985.0,357.9 986.0,357.9 987.0,357.9C988.0,357.9 989.0,357.9 990.0,357.9C991.0,357.9 992.0,358.0 993.0,358.0C994.0,358.0 995.0,358.0 996.0,358.0C997.0,358.0 998.0,358.0 999.0,358.0C1000.0,358.0 1001.0,358.0 1002.0,358.0C1003.0,358.0 1004.0,358.0 1005.0,358.0C1006.0,358.0 1007.0,358.0 1008.0,358.0C1009.0,358.1 1010.0,358.1 1011.0,358.1C1012.0,358.1 1013.0,358.1 1014.0,358.1C1015.0,358.1 1016.0,358.1 1017.0,358.1C1018.0,358.1 1019.0,358.1 1020.0,358.1C1021.0,358.1 1022.0,358.1 1023.0,358.1C1024.0,358.1 1025.0,358.1 1026.1,358.1C1027.1,358.1 1028.1,358.1 1029.1,358.1C1030.1,358.0 1031.1,358.0 1032.1,358.0C1033.1,358.0 1034.1,358.0 1035.1,358.0C1036.1,358.0 1037.1,358.0 1038.1,357.9C1039.1,357.9 1040.1,357.9 1041.1,357.9C1042.1,357.9 1043.1,357.8 1044.1,357.8C1045.1,357.8 1046.1,357.8 1047.1,357.7C1048.1,357.7 1049.1,357.7 1050.1,357.6C1051.1,357.6 1052.1,357.6 1053.1,357.5C1054.1,357.5 1055.1,357.4 1056.1,357.4C1057.1,357.3 1058.1,357.3 1059.1,357.2C1060.1,357.2 1061.1,357.1 1062.2,357.1C1063.2,357.0 1064.2,356.9 1065.2,356.9C1066.2,356.8 1067.2,356.7 1068.2,356.7C1069.2,356.6 1070.2,356.5 1071.2,356.4C1072.2,356.4 1073.2,356.3 1074.2,356.2C1075.2,356.1 1076.2,356.0 1077.2,355.9C1078.2,355.8 1079.2,355.7 1080.2,355.6C1081.2,355.5 1082.2,355.4 1083.2,355.3C1084.2,355.2 1085.2,355.1 1086.2,354.9C1087.2,354.8 1088.2,354.7 1089.2,354.6C1090.2,354.4 1091.2,354.3 1092.2,354.2C1093.2,354.0 1094.2,353.9 1095.2,353.7C1096.2,353.6 1097.2,353.4 1098.2,353.3C1099.2,353.1 1100.2,353.0 1101.2,352.8C1102.2,352.7 1103.2,352.5 1104.2,352.4C1105.2,352.2 1106.2,352.0 1107.2,351.9C1108.2,351.7 1109.2,351.6 1110.2,351.4C1111.2,351.2 1112.2,351.1 1113.2,350.9C1114.2,350.8 1115.2,350.6 1116.2,350.4C1117.2,350.3 1118.2,350.1 1119.2,350.0C1120.2,349.8 1121.2,349.7 1122.2,349.5C1123.2,349.4 1124.2,349.2 1125.2,349.1C1126.2,349.0 1127.1,348.8 1128.1,348.7C1129.1,348.6 1130.1,348.4 1131.1,348.3C1132.1,348.2 1133.1,348.1 1134.1,348.0C1135.1,347.9 1136.1,347.8 1137.1,347.7C1138.1,347.6 1139.1,347.5 1140.1,347.4C1141.1,347.3 1142.1,347.2 1143.0,347.2C1144.0,347.1 1145.0,347.0 1146.0,347.0C1147.0,346.9 1148.0,346.9 1149.0,346.9C1150.0,346.8 1151.0,346.8 1152.0,346.8C1152.9,346.8 1153.9,346.8 1154.9,346.8C1155.9,346.8 1156.9,346.8 1157.9,346.9C1158.9,346.9 1159.9,346.9 1160.8,347.0C1161.8,347.1 1162.8,347.1 1163.8,347.2C1164.8,347.3 1165.8,347.4 1166.7,347.5C1167.7,347.6 1168.7,347.7 1169.7,347.9C1170.7,348.0 1171.7,348.2 1172.6,348.3C1173.6,348.5 1174.6,348.7 1175.6,348.9C1176.6,349.1 1177.5,349.3 1178.5,349.5C1179.5,349.8 1180.5,350.0 1181.5,350.3C1182.4,350.5 1183.4,350.8 1184.4,351.1C1185.4,351.4 1186.3,351.7 1187.3,352.0C1188.3,352.4 1189.3,352.7 1190.2,353.0C1191.2,353.3 1192.2,353.7 1193.2,354.0C1194.2,354.3 1195.1,354.6 1196.1,354.9C1197.1,355.2 1198.1,355.5 1199.0,355.8C1200.0,356.1 1201.0,356.3 1202.0,356.6C1203.0,356.8 1204.0,357.0 1204.9,357.2C1205.9,357.4 1206.9,357.5 1207.9,357.7C1208.9,357.8 1209.9,357.9 1210.9,358.0C1211.9,358.1 1212.9,358.1 1213.8,358.2C1214.8,358.2 1215.8,358.3 1216.8,358.3C1217.8,358.3 1218.8,358.3 1219.8,358.3C1220.8,358.3 1221.8,358.3 1222.8,358.2C1223.8,358.2 1224.8,358.2 1225.8,358.2C1226.8,358.2 1227.8,358.2 1228.8,358.2C1229.8,358.1 1230.8,358.1 1231.8,358.1C1232.8,358.1 1233.8,358.1 1234.8,358.1C1235.8,358.1 1236.8,358.1 1237.9,358.2C1238.9,358.2 1239.9,358.2 1240.9,358.2C1241.9,358.2 1242.9,358.2 1243.9,358.2C1244.9,358.2 1245.9,358.2 1246.9,358.3C1247.9,358.3 1248.9,358.3 1249.9,358.3C1250.9,358.3 1251.9,358.3 1252.9,358.3C1253.9,358.4 1254.9,358.4 1255.9,358.4C1256.9,358.4 1257.9,358.4 1258.9,358.4C1260.0,358.5 1261.0,358.5 1262.0,358.5C1263.0,358.5 1264.0,358.5 1265.0,358.5C1266.0,358.5 1267.0,358.5 1268.0,358.5C1269.0,358.6 1270.0,358.6 1271.0,358.6C1272.0,358.6 1273.0,358.6 1274.0,358.6C1275.0,358.5 1276.0,358.5 1277.0,358.5C1278.0,358.5 1279.5,358.5 1280.0,358.5" fill="none" stroke="#ff0000" stroke-width="3.3" stroke-linejoin="round" stroke-linecap="butt"/>
<path d="M755.5,358.3C755.6,357.9 756.0,356.4 756.2,355.4C756.5,354.4 756.7,353.5 757.0,352.5C757.2,351.5 757.4,350.6 757.7,349.6C757.9,348.6 758.1,347.6 758.4,346.7C758.6,345.7 758.8,344.7 759.0,343.7C759.2,342.8 759.5,341.8 759.7,340.8C759.9,339.8 760.1,338.8 760.3,337.9C760.5,336.9 760.7,335.9 760.9,334.9C761.1,333.9 761.3,333.0 761.5,332.0C761.6,331.0 761.8,330.0 762.0,329.0C762.2,328.1 762.4,327.1 762.5,326.1C762.7,325.1 762.9,324.1 763.1,323.2C763.2,322.2 763.4,321.2 763.6,320.2C763.7,319.2 763.9,318.2 764.1,317.3C764.2,316.3 764.4,315.3 764.5,314.3C764.7,313.3 764.8,312.3 765.0,311.4C765.1,310.4 765.3,309.4 765.4,308.4C765.6,307.4 765.7,306.4 765.8,305.4C766.0,304.4 766.1,303.5 766.2,302.5C766.4,301.5 766.5,300.5 766.6,299.5C766.8,298.5 766.9,297.5 767.0,296.5C767.1,295.5 767.3,294.6 767.4,293.6C767.5,292.6 767.6,291.6 767.7,290.6C767.8,289.6 768.0,288.6 768.1,287.6C768.2,286.6 768.3,285.6 768.4,284.7C768.5,283.7 768.6,282.7 768.7,281.7C768.8,280.7 768.9,279.7 769.0,278.7C769.1,277.7 769.2,276.7 769.3,275.7C769.4,274.7 769.5,273.7 769.6,272.7C769.7,271.7 769.8,270.7 769.9,269.7C770.0,268.7 770.1,267.8 770.2,266.8C770.3,265.8 770.4,264.8 770.5,263.8C770.6,262.8 770.6,261.8 770.7,260.8C770.8,259.8 770.9,258.8 771.0,257.8C771.1,256.8 771.2,255.8 771.2,254.8C771.3,253.8 771.4,252.8 771.5,251.8C771.6,250.8 771.7,249.8 771.7,248.8C771.8,247.8 771.9,246.8 772.0,245.8C772.0,244.8 772.1,243.8 772.2,242.8C772.3,241.8 772.4,240.8 772.4,239.8C772.5,238.8 772.6,237.8 772.7,236.8C772.8,235.8 772.8,234.8 772.9,233.8C773.0,232.8 773.1,231.8 773.1,230.8C773.2,229.8 773.3,228.8 773.4,227.8C773.4,226.8 773.5,225.8 773.6,224.8C773.7,223.8 773.7,222.8 773.8,221.8C773.9,220.8 774.0,219.8 774.1,218.8C774.1,217.7 774.2,216.7 774.3,215.7C774.4,214.7 774.4,213.7 774.5,212.7C774.6,211.7 774.7,210.7 774.8,209.7C774.8,208.7 774.9,207.7 775.0,206.7C775.1,205.7 775.2,204.7 775.2,203.7C775.3,202.7 775.4,201.7 775.5,200.7C775.6,199.7 775.6,198.7 775.7,197.7C775.8,196.7 775.9,195.7 776.0,194.7C776.1,193.7 776.1,192.7 776.2,191.7C776.3,190.7 776.4,189.7 776.5,188.7C776.6,187.7 776.7,186.7 776.8,185.7C776.8,184.7 776.9,183.7 777.0,182.7C777.1,181.7 777.2,180.7 777.3,179.7C777.4,178.7 777.5,177.7 777.6,176.7C777.7,175.7 777.8,174.7 777.9,173.8C778.0,172.8 778.1,171.8 778.2,170.8C778.2,169.8 778.3,168.8 778.4,167.8C778.5,166.8 778.6,165.8 778.7,164.8C778.9,163.9 779.0,162.9 779.1,161.9C779.2,160.9 779.3,159.9 779.4,158.9C779.5,158.0 779.6,157.0 779.7,156.0C779.8,155.0 779.9,154.0 780.0,153.1C780.1,152.1 780.3,151.1 780.4,150.1C780.5,149.2 780.6,148.2 780.7,147.2C780.8,146.2 781.0,145.2 781.1,144.3C781.2,143.3 781.3,142.3 781.5,141.3C781.6,140.4 781.7,139.4 781.8,138.4C782.0,137.4 782.1,136.4 782.2,135.5C782.4,134.5 782.5,133.5 782.6,132.5C782.8,131.5 782.9,130.6 783.1,129.6C783.2,128.6 783.3,127.6 783.5,126.6C783.6,125.6 783.8,124.6 783.9,123.7C784.1,122.7 784.2,121.7 784.4,120.7C784.5,119.7 784.7,118.7 784.9,117.7C785.0,116.7 785.2,115.7 785.4,114.7C785.5,113.7 785.7,112.7 785.9,111.7C786.0,110.7 786.2,109.7 786.4,108.7C786.6,107.6 786.7,106.6 786.9,105.6C787.1,104.6 787.3,103.6 787.5,102.5C787.7,101.5 787.9,100.5 788.0,99.5C788.2,98.4 788.4,97.4 788.6,96.4C788.8,95.3 789.0,94.3 789.3,93.2C789.5,92.2 789.7,91.1 789.9,90.1C790.1,89.0 790.3,88.0 790.5,86.9C790.8,85.9 791.0,84.8 791.3,83.8C791.6,82.8 791.9,81.8 792.2,80.9C792.5,80.0 792.9,79.1 793.3,78.2C793.8,77.4 794.2,76.6 794.7,75.9C795.3,75.2 795.9,74.5 796.5,74.1C797.1,73.7 797.7,73.3 798.3,73.4C799.0,73.4 799.6,73.8 800.2,74.4C800.7,75.0 801.3,76.0 801.8,77.0C802.3,78.0 802.8,79.3 803.2,80.5C803.6,81.8 804.0,83.2 804.4,84.4C804.8,85.6 805.1,86.8 805.4,87.9C805.7,89.1 805.9,90.1 806.2,91.1C806.4,92.1 806.7,93.1 807.0,94.1C807.2,95.0 807.5,95.9 807.7,96.9C807.9,97.8 808.2,98.7 808.4,99.6C808.7,100.5 808.9,101.4 809.1,102.4C809.4,103.3 809.6,104.2 809.9,105.1C810.1,106.1 810.3,107.0 810.6,108.0C810.8,108.9 811.1,109.9 811.3,110.8C811.5,111.8 811.8,112.7 812.0,113.7C812.2,114.7 812.5,115.6 812.7,116.6C812.9,117.6 813.2,118.6 813.4,119.6C813.6,120.5 813.9,121.5 814.1,122.5C814.3,123.5 814.5,124.5 814.8,125.5C815.0,126.4 815.2,127.4 815.4,128.4C815.7,129.4 815.9,130.4 816.1,131.4C816.3,132.4 816.5,133.4 816.7,134.4C816.9,135.4 817.1,136.4 817.3,137.3C817.5,138.3 817.7,139.3 817.9,140.3C818.1,141.3 818.3,142.3 818.5,143.3C818.7,144.3 818.9,145.3 819.1,146.2C819.3,147.2 819.4,148.2 819.6,149.2C819.8,150.2 820.0,151.2 820.2,152.2C820.4,153.1 820.5,154.1 820.7,155.1C820.9,156.1 821.1,157.1 821.2,158.1C821.4,159.0 821.6,160.0 821.8,161.0C822.0,162.0 822.1,163.0 822.3,164.0C822.5,164.9 822.7,165.9 822.8,166.9C823.0,167.9 823.2,168.9 823.4,169.9C823.5,170.8 823.7,171.8 823.9,172.8C824.1,173.8 824.3,174.8 824.4,175.7C824.6,176.7 824.8,177.7 825.0,178.7C825.2,179.7 825.3,180.7 825.5,181.6C825.7,182.6 825.9,183.6 826.1,184.6C826.3,185.6 826.5,186.5 826.6,187.5C826.8,188.5 827.0,189.5 827.2,190.5C827.4,191.4 827.6,192.4 827.8,193.4C828.0,194.4 828.2,195.4 828.4,196.3C828.6,197.3 828.7,198.3 828.9,199.3C829.1,200.3 829.3,201.2 829.5,202.2C829.7,203.2 829.9,204.2 830.1,205.2C830.3,206.1 830.5,207.1 830.7,208.1C830.9,209.1 831.1,210.0 831.3,211.0C831.5,212.0 831.7,213.0 832.0,214.0C832.2,214.9 832.4,215.9 832.6,216.9C832.8,217.9 833.0,218.8 833.2,219.8C833.4,220.8 833.6,221.8 833.9,222.8C834.1,223.7 834.3,224.7 834.5,225.7C834.7,226.7 834.9,227.6 835.2,228.6C835.4,229.6 835.6,230.6 835.8,231.5C836.1,232.5 836.3,233.5 836.5,234.5C836.7,235.4 837.0,236.4 837.2,237.4C837.4,238.4 837.7,239.3 837.9,240.3C838.1,241.3 838.4,242.2 838.6,243.2C838.8,244.2 839.1,245.2 839.3,246.1C839.6,247.1 839.8,248.1 840.0,249.1C840.3,250.0 840.5,251.0 840.8,252.0C841.0,252.9 841.3,253.9 841.5,254.9C841.8,255.8 842.0,256.8 842.3,257.8C842.5,258.8 842.8,259.7 843.1,260.7C843.3,261.7 843.6,262.6 843.8,263.6C844.1,264.6 844.4,265.5 844.6,266.5C844.9,267.5 845.2,268.4 845.4,269.4C845.7,270.4 846.0,271.3 846.3,272.3C846.5,273.3 846.8,274.2 847.1,275.2C847.4,276.2 847.7,277.1 847.9,278.1C848.2,279.0 848.5,280.0 848.8,281.0C849.1,281.9 849.4,282.9 849.7,283.9C850.0,284.8 850.3,285.8 850.6,286.7C850.9,287.7 851.2,288.7 851.5,289.6C851.8,290.6 852.1,291.5 852.4,292.5C852.8,293.4 853.1,294.4 853.4,295.3C853.7,296.3 854.1,297.2 854.4,298.1C854.8,299.1 855.1,300.0 855.5,300.9C855.8,301.9 856.2,302.8 856.6,303.7C857.0,304.6 857.3,305.6 857.7,306.5C858.1,307.4 858.5,308.3 858.9,309.2C859.3,310.1 859.8,311.0 860.2,311.9C860.6,312.8 861.1,313.7 861.5,314.5C862.0,315.4 862.4,316.3 862.9,317.2C863.4,318.0 863.9,318.9 864.4,319.7C864.9,320.6 865.4,321.4 865.9,322.3C866.4,323.1 867.0,323.9 867.5,324.8C868.1,325.6 868.7,326.4 869.2,327.2C869.8,328.0 870.4,328.8 871.0,329.6C871.6,330.4 872.3,331.2 872.9,331.9C873.6,332.7 874.2,333.5 874.9,334.2C875.6,335.0 876.3,335.7 877.0,336.4C877.7,337.1 878.4,337.9 879.2,338.5C879.9,339.2 880.6,339.9 881.4,340.6C882.2,341.2 883.0,341.9 883.8,342.5C884.6,343.1 885.4,343.8 886.2,344.3C887.0,344.9 887.8,345.5 888.7,346.0C889.5,346.6 890.4,347.1 891.3,347.6C892.1,348.1 893.0,348.6 893.9,349.0C894.8,349.5 895.7,349.9 896.7,350.3C897.6,350.6 898.5,351.0 899.4,351.3C900.4,351.7 901.3,352.0 902.3,352.3C903.2,352.5 904.2,352.8 905.2,353.0C906.1,353.3 907.1,353.5 908.1,353.7C909.1,353.9 910.1,354.1 911.1,354.3C912.1,354.5 913.0,354.6 914.0,354.8C915.0,354.9 916.0,355.1 917.0,355.2C918.0,355.3 919.0,355.5 920.0,355.6C921.0,355.7 922.0,355.8 923.0,355.9C924.0,356.0 925.0,356.2 926.0,356.3C927.0,356.3 928.0,356.4 929.0,356.5C930.0,356.6 931.0,356.7 932.0,356.8C933.0,356.8 934.0,356.9 935.0,357.0C936.0,357.0 937.0,357.1 938.0,357.1C939.0,357.2 940.0,357.2 940.9,357.3C941.9,357.3 942.9,357.4 943.9,357.4C944.9,357.4 945.9,357.4 946.9,357.5C947.9,357.5 948.9,357.5 949.9,357.5C950.9,357.5 951.9,357.5 952.9,357.5C953.9,357.5 954.9,357.5 955.9,357.5C956.8,357.4 957.8,357.4 958.8,357.4C959.8,357.4 960.8,357.3 961.8,357.3C962.8,357.3 963.8,357.2 964.8,357.2C965.8,357.1 966.8,357.1 967.8,357.0C968.7,356.9 969.7,356.9 970.7,356.8C971.7,356.7 972.7,356.7 973.7,356.6C974.7,356.5 975.7,356.4 976.7,356.3C977.7,356.2 978.6,356.1 979.6,356.0C980.6,355.9 981.6,355.8 982.6,355.7C983.6,355.6 984.6,355.5 985.6,355.3C986.5,355.2 987.5,355.1 988.5,355.0C989.5,354.8 990.5,354.7 991.5,354.5C992.5,354.4 993.4,354.2 994.4,354.1C995.4,353.9 996.4,353.8 997.4,353.6C998.4,353.5 999.4,353.3 1000.3,353.1C1001.3,352.9 1002.3,352.8 1003.3,352.6C1004.3,352.4 1005.3,352.2 1006.2,352.0C1007.2,351.8 1008.2,351.6 1009.2,351.4C1010.2,351.2 1011.1,351.0 1012.1,350.8C1013.1,350.6 1014.1,350.4 1015.1,350.1C1016.0,349.9 1017.0,349.7 1018.0,349.4C1019.0,349.2 1020.0,349.0 1020.9,348.7C1021.9,348.5 1022.9,348.2 1023.9,348.0C1024.9,347.7 1025.8,347.5 1026.8,347.2C1027.8,347.0 1028.8,346.7 1029.7,346.4C1030.7,346.2 1031.7,345.9 1032.7,345.6C1033.6,345.3 1034.6,345.1 1035.6,344.8C1036.6,344.5 1037.5,344.2 1038.5,343.9C1039.5,343.6 1040.5,343.3 1041.4,343.0C1042.4,342.7 1043.4,342.4 1044.4,342.1C1045.3,341.7 1046.3,341.4 1047.3,341.1C1048.2,340.8 1049.2,340.5 1050.2,340.1C1051.2,339.8 1052.1,339.5 1053.1,339.1C1054.1,338.8 1055.0,338.5 1056.0,338.2C1057.0,337.8 1057.9,337.5 1058.9,337.2C1059.9,336.8 1060.8,336.5 1061.8,336.2C1062.8,335.9 1063.8,335.5 1064.7,335.2C1065.7,334.9 1066.7,334.6 1067.6,334.3C1068.6,333.9 1069.6,333.6 1070.5,333.3C1071.5,333.0 1072.5,332.7 1073.4,332.4C1074.4,332.1 1075.4,331.9 1076.3,331.6C1077.3,331.3 1078.3,331.0 1079.2,330.8C1080.2,330.5 1081.2,330.2 1082.1,330.0C1083.1,329.7 1084.1,329.5 1085.0,329.3C1086.0,329.0 1087.0,328.8 1087.9,328.6C1088.9,328.4 1089.9,328.2 1090.9,328.0C1091.8,327.8 1092.8,327.7 1093.8,327.5C1094.7,327.4 1095.7,327.2 1096.7,327.1C1097.6,327.0 1098.6,326.8 1099.6,326.7C1100.5,326.6 1101.5,326.5 1102.5,326.5C1103.5,326.4 1104.4,326.4 1105.4,326.3C1106.4,326.3 1107.3,326.3 1108.3,326.3C1109.3,326.3 1110.3,326.3 1111.2,326.3C1112.2,326.3 1113.2,326.4 1114.2,326.4C1115.1,326.5 1116.1,326.6 1117.1,326.7C1118.1,326.8 1119.0,326.9 1120.0,327.0C1121.0,327.1 1121.9,327.2 1122.9,327.4C1123.9,327.5 1124.9,327.7 1125.8,327.9C1126.8,328.0 1127.8,328.2 1128.7,328.4C1129.7,328.6 1130.7,328.8 1131.7,329.0C1132.6,329.3 1133.6,329.5 1134.6,329.7C1135.5,330.0 1136.5,330.2 1137.5,330.5C1138.4,330.8 1139.4,331.0 1140.4,331.3C1141.3,331.6 1142.3,331.9 1143.2,332.2C1144.2,332.5 1145.2,332.8 1146.1,333.1C1147.1,333.4 1148.0,333.7 1149.0,334.0C1149.9,334.4 1150.9,334.7 1151.9,335.0C1152.8,335.4 1153.8,335.7 1154.7,336.1C1155.7,336.4 1156.6,336.8 1157.6,337.1C1158.5,337.5 1159.4,337.9 1160.4,338.2C1161.3,338.6 1162.3,339.0 1163.2,339.3C1164.1,339.7 1165.1,340.1 1166.0,340.5C1166.9,340.8 1167.9,341.2 1168.8,341.6C1169.7,342.0 1170.7,342.4 1171.6,342.8C1172.5,343.2 1173.4,343.5 1174.4,343.9C1175.3,344.3 1176.2,344.7 1177.1,345.1C1178.1,345.5 1179.0,345.8 1179.9,346.2C1180.8,346.6 1181.8,347.0 1182.7,347.3C1183.6,347.7 1184.5,348.1 1185.5,348.4C1186.4,348.8 1187.3,349.2 1188.2,349.5C1189.2,349.9 1190.1,350.2 1191.0,350.6C1191.9,350.9 1192.9,351.2 1193.8,351.6C1194.7,351.9 1195.7,352.2 1196.6,352.5C1197.5,352.8 1198.5,353.1 1199.4,353.4C1200.4,353.7 1201.3,354.0 1202.3,354.3C1203.2,354.5 1204.1,354.8 1205.1,355.1C1206.0,355.3 1207.0,355.5 1208.0,355.8C1208.9,356.0 1209.9,356.2 1210.8,356.4C1211.8,356.6 1212.8,356.8 1213.7,357.0C1214.7,357.1 1215.7,357.3 1216.7,357.4C1217.7,357.6 1218.6,357.7 1219.6,357.8C1220.6,357.9 1221.6,358.0 1222.6,358.1C1223.6,358.2 1224.6,358.3 1225.6,358.3C1226.6,358.4 1227.6,358.4 1228.6,358.5C1229.7,358.5 1230.7,358.5 1231.7,358.5C1232.7,358.5 1233.7,358.5 1234.7,358.5C1235.8,358.5 1236.8,358.5 1237.8,358.5C1238.8,358.5 1239.9,358.5 1240.9,358.4C1241.9,358.4 1242.9,358.4 1244.0,358.3C1245.0,358.3 1246.0,358.3 1247.0,358.2C1248.1,358.2 1249.1,358.2 1250.1,358.1C1251.1,358.1 1252.2,358.0 1253.2,358.0C1254.2,358.0 1255.2,357.9 1256.2,357.9C1257.3,357.9 1258.3,357.8 1259.3,357.8C1260.3,357.8 1261.3,357.7 1262.3,357.7C1263.3,357.7 1264.3,357.7 1265.3,357.7C1266.3,357.7 1267.3,357.7 1268.3,357.7C1269.3,357.7 1270.3,357.8 1271.3,357.8C1272.3,357.8 1273.2,357.9 1274.2,357.9C1275.2,358.0 1276.1,358.1 1277.1,358.2C1278.1,358.2 1279.5,358.4 1280.0,358.4" fill="none" stroke="#0000ff" stroke-width="3.3" stroke-linejoin="round" stroke-linecap="butt"/>
<path d="M755.5,358.4C755.7,357.9 756.4,356.6 756.8,355.7C757.2,354.8 757.6,353.9 758.0,353.0C758.4,352.1 758.8,351.2 759.2,350.3C759.5,349.4 759.9,348.5 760.2,347.5C760.5,346.6 760.8,345.7 761.1,344.8C761.4,343.8 761.7,342.9 762.0,341.9C762.2,341.0 762.5,340.0 762.8,339.1C763.0,338.1 763.2,337.2 763.5,336.2C763.7,335.3 763.9,334.3 764.1,333.3C764.3,332.4 764.5,331.4 764.7,330.4C764.9,329.4 765.1,328.5 765.3,327.5C765.4,326.5 765.6,325.5 765.8,324.5C765.9,323.5 766.1,322.5 766.2,321.6C766.4,320.6 766.5,319.6 766.7,318.6C766.8,317.6 767.0,316.6 767.1,315.6C767.2,314.6 767.4,313.6 767.5,312.6C767.6,311.6 767.8,310.6 767.9,309.6C768.0,308.6 768.2,307.6 768.3,306.6C768.4,305.6 768.6,304.6 768.7,303.6C768.9,302.6 769.0,301.6 769.2,300.6C769.3,299.6 769.4,298.6 769.6,297.6C769.7,296.6 769.9,295.6 770.1,294.6C770.2,293.6 770.4,292.6 770.5,291.6C770.7,290.6 770.9,289.6 771.0,288.6C771.2,287.6 771.4,286.6 771.5,285.6C771.7,284.6 771.9,283.6 772.0,282.6C772.2,281.6 772.4,280.7 772.6,279.7C772.7,278.7 772.9,277.7 773.1,276.7C773.3,275.7 773.4,274.7 773.6,273.7C773.8,272.7 774.0,271.7 774.2,270.7C774.3,269.7 774.5,268.8 774.7,267.8C774.9,266.8 775.1,265.8 775.2,264.8C775.4,263.8 775.6,262.8 775.8,261.8C775.9,260.8 776.1,259.9 776.3,258.9C776.5,257.9 776.6,256.9 776.8,255.9C777.0,254.9 777.2,253.9 777.3,253.0C777.5,252.0 777.7,251.0 777.8,250.0C778.0,249.0 778.2,248.0 778.3,247.1C778.5,246.1 778.7,245.1 778.8,244.1C779.0,243.1 779.1,242.1 779.3,241.2C779.5,240.2 779.6,239.2 779.8,238.2C779.9,237.2 780.1,236.3 780.2,235.3C780.4,234.3 780.5,233.3 780.6,232.3C780.8,231.4 780.9,230.4 781.1,229.4C781.2,228.4 781.4,227.4 781.5,226.5C781.6,225.5 781.8,224.5 781.9,223.5C782.1,222.5 782.2,221.6 782.3,220.6C782.5,219.6 782.6,218.6 782.8,217.6C782.9,216.6 783.1,215.7 783.2,214.7C783.3,213.7 783.5,212.7 783.6,211.7C783.8,210.7 783.9,209.7 784.1,208.8C784.2,207.8 784.4,206.8 784.5,205.8C784.7,204.8 784.8,203.8 785.0,202.8C785.2,201.8 785.3,200.8 785.5,199.8C785.7,198.8 785.8,197.8 786.0,196.8C786.2,195.8 786.4,194.8 786.5,193.8C786.7,192.8 786.9,191.8 787.1,190.8C787.3,189.8 787.5,188.8 787.7,187.8C787.9,186.8 788.1,185.8 788.3,184.8C788.5,183.8 788.7,182.7 788.9,181.7C789.1,180.7 789.4,179.7 789.6,178.7C789.8,177.6 790.1,176.6 790.4,175.6C790.6,174.6 790.9,173.6 791.2,172.6C791.5,171.6 791.9,170.6 792.2,169.6C792.6,168.6 793.0,167.7 793.4,166.7C793.8,165.7 794.2,164.8 794.7,163.9C795.2,162.9 795.7,162.0 796.2,161.1C796.8,160.3 797.4,159.4 798.0,158.7C798.6,158.0 799.2,157.4 799.8,157.1C800.5,156.7 801.1,156.6 801.8,156.6C802.4,156.7 803.1,157.0 803.8,157.4C804.4,157.9 805.1,158.5 805.7,159.2C806.4,160.0 807.0,160.9 807.5,161.8C808.1,162.7 808.6,163.8 809.1,164.8C809.6,165.9 810.1,167.0 810.5,168.1C810.9,169.2 811.3,170.4 811.6,171.5C812.0,172.7 812.3,173.8 812.6,174.9C812.9,176.1 813.2,177.2 813.5,178.2C813.8,179.3 814.0,180.3 814.3,181.3C814.6,182.2 814.8,183.2 815.1,184.1C815.4,185.1 815.6,186.0 815.9,186.9C816.2,187.8 816.4,188.7 816.7,189.6C817.0,190.5 817.3,191.4 817.5,192.3C817.8,193.2 818.1,194.1 818.3,195.0C818.6,195.9 818.8,196.8 819.1,197.7C819.4,198.6 819.6,199.6 819.8,200.6C820.1,201.5 820.3,202.5 820.6,203.5C820.8,204.5 821.0,205.5 821.3,206.5C821.5,207.5 821.7,208.5 821.9,209.5C822.2,210.5 822.4,211.5 822.6,212.6C822.8,213.6 823.0,214.6 823.3,215.6C823.5,216.7 823.7,217.7 823.9,218.7C824.1,219.7 824.4,220.8 824.6,221.8C824.8,222.8 825.1,223.8 825.3,224.8C825.5,225.8 825.8,226.8 826.0,227.7C826.2,228.7 826.5,229.7 826.7,230.7C827.0,231.6 827.2,232.6 827.5,233.5C827.7,234.5 828.0,235.5 828.3,236.4C828.5,237.3 828.8,238.3 829.0,239.2C829.3,240.2 829.6,241.1 829.8,242.0C830.1,243.0 830.4,243.9 830.6,244.8C830.9,245.7 831.2,246.7 831.5,247.6C831.7,248.5 832.0,249.4 832.3,250.4C832.6,251.3 832.9,252.2 833.2,253.1C833.4,254.1 833.7,255.0 834.0,255.9C834.3,256.8 834.6,257.8 834.9,258.7C835.2,259.6 835.5,260.5 835.8,261.5C836.0,262.4 836.3,263.3 836.6,264.3C836.9,265.2 837.2,266.2 837.5,267.1C837.8,268.1 838.1,269.0 838.4,270.0C838.7,271.0 839.0,271.9 839.3,272.9C839.6,273.9 839.9,274.8 840.2,275.8C840.5,276.8 840.8,277.8 841.1,278.7C841.4,279.7 841.7,280.7 842.1,281.7C842.4,282.7 842.7,283.6 843.0,284.6C843.3,285.6 843.6,286.6 844.0,287.6C844.3,288.6 844.6,289.6 845.0,290.5C845.3,291.5 845.7,292.5 846.0,293.5C846.3,294.5 846.7,295.5 847.1,296.4C847.4,297.4 847.8,298.4 848.1,299.4C848.5,300.3 848.9,301.3 849.3,302.3C849.6,303.2 850.0,304.2 850.4,305.1C850.8,306.1 851.2,307.0 851.6,308.0C852.0,308.9 852.5,309.9 852.9,310.8C853.3,311.7 853.7,312.6 854.2,313.6C854.6,314.5 855.1,315.4 855.5,316.3C856.0,317.2 856.5,318.1 856.9,319.0C857.4,319.8 857.9,320.7 858.4,321.6C858.9,322.4 859.4,323.3 859.9,324.1C860.4,325.0 861.0,325.8 861.5,326.6C862.1,327.5 862.6,328.3 863.2,329.1C863.7,329.9 864.3,330.6 864.9,331.4C865.5,332.2 866.1,333.0 866.7,333.7C867.3,334.4 867.9,335.2 868.6,335.9C869.2,336.6 869.8,337.3 870.5,338.0C871.2,338.7 871.9,339.4 872.5,340.0C873.2,340.7 873.9,341.3 874.7,341.9C875.4,342.5 876.1,343.2 876.9,343.7C877.6,344.3 878.4,344.9 879.2,345.4C879.9,346.0 880.7,346.5 881.6,347.0C882.4,347.5 883.2,348.0 884.0,348.5C884.9,349.0 885.7,349.4 886.6,349.9C887.5,350.3 888.4,350.7 889.3,351.1C890.2,351.5 891.1,351.9 892.0,352.3C892.9,352.6 893.8,353.0 894.8,353.3C895.7,353.6 896.7,353.9 897.6,354.2C898.6,354.5 899.6,354.8 900.5,355.1C901.5,355.3 902.5,355.6 903.5,355.8C904.5,356.0 905.5,356.2 906.5,356.4C907.5,356.6 908.5,356.7 909.5,356.9C910.5,357.1 911.5,357.2 912.6,357.3C913.6,357.4 914.6,357.5 915.6,357.6C916.7,357.7 917.7,357.8 918.7,357.8C919.8,357.9 920.8,357.9 921.8,358.0C922.9,358.0 923.9,358.0 924.9,358.0C926.0,358.0 927.0,358.0 928.0,357.9C929.1,357.9 930.1,357.8 931.1,357.8C932.1,357.7 933.2,357.6 934.2,357.5C935.2,357.4 936.2,357.3 937.2,357.2C938.2,357.1 939.2,356.9 940.2,356.8C941.2,356.6 942.2,356.4 943.2,356.3C944.2,356.1 945.2,355.9 946.2,355.7C947.1,355.4 948.1,355.2 949.1,355.0C950.0,354.7 951.0,354.4 952.0,354.2C952.9,353.9 953.9,353.6 954.8,353.3C955.7,353.0 956.7,352.7 957.6,352.3C958.5,352.0 959.4,351.6 960.4,351.2C961.3,350.9 962.2,350.5 963.1,350.1C964.0,349.7 964.8,349.3 965.7,348.8C966.6,348.4 967.5,347.9 968.3,347.5C969.2,347.0 970.0,346.5 970.9,346.0C971.7,345.5 972.6,345.0 973.4,344.5C974.2,343.9 975.0,343.4 975.8,342.8C976.6,342.3 977.4,341.7 978.2,341.1C979.0,340.5 979.7,339.9 980.5,339.2C981.2,338.6 982.0,337.9 982.7,337.3C983.5,336.6 984.2,336.0 984.9,335.3C985.7,334.6 986.4,333.9 987.1,333.2C987.8,332.5 988.5,331.8 989.2,331.1C989.9,330.3 990.6,329.6 991.3,328.9C992.0,328.1 992.7,327.4 993.4,326.6C994.1,325.9 994.7,325.2 995.4,324.4C996.1,323.7 996.8,322.9 997.5,322.1C998.2,321.4 998.9,320.6 999.6,319.9C1000.2,319.1 1000.9,318.4 1001.6,317.6C1002.3,316.9 1003.0,316.1 1003.7,315.4C1004.4,314.7 1005.1,313.9 1005.8,313.2C1006.6,312.5 1007.3,311.8 1008.0,311.0C1008.7,310.3 1009.5,309.6 1010.2,308.9C1011.0,308.3 1011.7,307.6 1012.5,306.9C1013.2,306.2 1014.0,305.6 1014.8,304.9C1015.6,304.3 1016.4,303.7 1017.2,303.1C1018.0,302.5 1018.8,301.9 1019.6,301.3C1020.4,300.7 1021.3,300.1 1022.1,299.6C1023.0,299.1 1023.8,298.5 1024.7,298.0C1025.6,297.5 1026.4,297.0 1027.3,296.5C1028.2,296.1 1029.1,295.6 1030.0,295.2C1030.9,294.7 1031.8,294.3 1032.7,293.9C1033.6,293.5 1034.6,293.1 1035.5,292.8C1036.4,292.4 1037.4,292.1 1038.3,291.8C1039.2,291.4 1040.2,291.1 1041.1,290.9C1042.1,290.6 1043.0,290.3 1044.0,290.1C1044.9,289.9 1045.9,289.7 1046.9,289.5C1047.8,289.3 1048.8,289.1 1049.8,289.0C1050.8,288.9 1051.7,288.7 1052.7,288.6C1053.7,288.6 1054.7,288.5 1055.6,288.4C1056.6,288.4 1057.6,288.4 1058.6,288.4C1059.6,288.4 1060.5,288.4 1061.5,288.5C1062.5,288.6 1063.5,288.6 1064.5,288.8C1065.5,288.9 1066.4,289.0 1067.4,289.2C1068.4,289.3 1069.4,289.5 1070.3,289.7C1071.3,290.0 1072.3,290.2 1073.3,290.4C1074.2,290.7 1075.2,291.0 1076.2,291.3C1077.1,291.5 1078.1,291.9 1079.1,292.2C1080.0,292.5 1081.0,292.8 1082.0,293.2C1082.9,293.6 1083.9,293.9 1084.8,294.3C1085.8,294.7 1086.7,295.1 1087.7,295.5C1088.6,295.9 1089.6,296.3 1090.5,296.7C1091.4,297.1 1092.4,297.5 1093.3,297.9C1094.2,298.4 1095.2,298.8 1096.1,299.2C1097.0,299.7 1097.9,300.1 1098.8,300.5C1099.7,301.0 1100.6,301.4 1101.5,301.9C1102.5,302.3 1103.3,302.7 1104.2,303.2C1105.1,303.6 1106.0,304.1 1106.9,304.5C1107.8,305.0 1108.7,305.4 1109.6,305.9C1110.4,306.3 1111.3,306.8 1112.2,307.2C1113.1,307.7 1113.9,308.2 1114.8,308.6C1115.7,309.1 1116.5,309.6 1117.4,310.0C1118.2,310.5 1119.1,311.0 1119.9,311.5C1120.8,312.0 1121.7,312.5 1122.5,313.0C1123.4,313.5 1124.2,314.0 1125.0,314.5C1125.9,315.0 1126.7,315.5 1127.6,316.1C1128.4,316.6 1129.3,317.1 1130.1,317.7C1130.9,318.2 1131.8,318.8 1132.6,319.3C1133.5,319.9 1134.3,320.4 1135.1,321.0C1136.0,321.5 1136.8,322.1 1137.6,322.7C1138.5,323.2 1139.3,323.8 1140.1,324.4C1141.0,324.9 1141.8,325.5 1142.7,326.1C1143.5,326.7 1144.3,327.2 1145.2,327.8C1146.0,328.4 1146.8,329.0 1147.7,329.5C1148.5,330.1 1149.4,330.7 1150.2,331.2C1151.1,331.8 1151.9,332.4 1152.7,332.9C1153.6,333.5 1154.4,334.0 1155.3,334.6C1156.1,335.1 1157.0,335.7 1157.8,336.2C1158.7,336.8 1159.6,337.3 1160.4,337.8C1161.3,338.3 1162.1,338.9 1163.0,339.4C1163.9,339.9 1164.8,340.4 1165.6,340.9C1166.5,341.4 1167.4,341.8 1168.3,342.3C1169.1,342.8 1170.0,343.2 1170.9,343.7C1171.8,344.1 1172.7,344.6 1173.6,345.0C1174.5,345.4 1175.4,345.8 1176.3,346.2C1177.2,346.6 1178.1,347.0 1179.1,347.4C1180.0,347.7 1180.9,348.1 1181.8,348.5C1182.8,348.8 1183.7,349.1 1184.6,349.4C1185.6,349.8 1186.5,350.1 1187.4,350.4C1188.4,350.7 1189.3,351.0 1190.3,351.2C1191.2,351.5 1192.2,351.8 1193.2,352.0C1194.1,352.3 1195.1,352.5 1196.0,352.7C1197.0,353.0 1198.0,353.2 1198.9,353.4C1199.9,353.6 1200.9,353.8 1201.9,354.0C1202.8,354.2 1203.8,354.4 1204.8,354.5C1205.8,354.7 1206.8,354.9 1207.8,355.0C1208.8,355.2 1209.7,355.3 1210.7,355.5C1211.7,355.6 1212.7,355.7 1213.7,355.9C1214.7,356.0 1215.7,356.1 1216.7,356.2C1217.7,356.3 1218.7,356.4 1219.7,356.5C1220.7,356.6 1221.7,356.7 1222.7,356.8C1223.8,356.9 1224.8,356.9 1225.8,357.0C1226.8,357.1 1227.8,357.1 1228.8,357.2C1229.8,357.3 1230.8,357.3 1231.8,357.4C1232.8,357.4 1233.9,357.5 1234.9,357.5C1235.9,357.5 1236.9,357.6 1237.9,357.6C1238.9,357.6 1239.9,357.7 1241.0,357.7C1242.0,357.7 1243.0,357.7 1244.0,357.8C1245.0,357.8 1246.0,357.8 1247.0,357.8C1248.0,357.8 1249.1,357.8 1250.1,357.8C1251.1,357.8 1252.1,357.9 1253.1,357.9C1254.1,357.9 1255.1,357.9 1256.1,357.9C1257.1,357.9 1258.1,357.9 1259.1,357.9C1260.2,357.9 1261.2,357.9 1262.2,357.9C1263.2,357.9 1264.2,357.9 1265.2,357.9C1266.2,357.9 1267.2,357.9 1268.2,357.9C1269.1,357.9 1270.1,357.9 1271.1,357.9C1272.1,357.9 1273.1,357.9 1274.1,357.9C1275.1,357.9 1276.1,357.9 1277.0,358.0C1278.0,358.0 1279.5,358.0 1280.0,358.0" fill="none" stroke="#00ff00" stroke-width="3.3" stroke-linejoin="round" stroke-linecap="butt"/>
<path d="M755.4,358.3C755.9,358.2 757.4,357.8 758.4,357.6C759.4,357.4 760.4,357.2 761.4,357.0C762.4,356.7 763.4,356.5 764.4,356.4C765.3,356.2 766.3,356.0 767.3,355.8C768.3,355.7 769.3,355.5 770.3,355.3C771.3,355.2 772.3,355.1 773.3,354.9C774.3,354.8 775.3,354.7 776.3,354.5C777.3,354.4 778.3,354.3 779.3,354.2C780.3,354.1 781.3,354.0 782.3,354.0C783.3,353.9 784.3,353.8 785.3,353.7C786.3,353.7 787.3,353.6 788.3,353.6C789.3,353.5 790.3,353.5 791.3,353.4C792.3,353.4 793.3,353.4 794.3,353.3C795.3,353.3 796.3,353.3 797.3,353.3C798.3,353.3 799.3,353.2 800.3,353.2C801.2,353.2 802.2,353.2 803.2,353.3C804.2,353.3 805.2,353.3 806.2,353.3C807.2,353.3 808.2,353.3 809.2,353.4C810.2,353.4 811.2,353.4 812.2,353.5C813.2,353.5 814.2,353.5 815.2,353.6C816.2,353.6 817.2,353.7 818.2,353.7C819.2,353.8 820.2,353.8 821.2,353.9C822.2,353.9 823.2,354.0 824.2,354.1C825.2,354.1 826.2,354.2 827.2,354.3C828.2,354.3 829.2,354.4 830.2,354.5C831.2,354.6 832.2,354.6 833.2,354.7C834.2,354.8 835.2,354.9 836.2,354.9C837.2,355.0 838.2,355.1 839.2,355.2C840.2,355.2 841.2,355.3 842.2,355.4C843.2,355.5 844.2,355.6 845.2,355.7C846.2,355.7 847.2,355.8 848.2,355.9C849.2,356.0 850.2,356.1 851.2,356.1C852.2,356.2 853.2,356.3 854.2,356.4C855.3,356.5 856.3,356.5 857.3,356.6C858.3,356.7 859.3,356.8 860.3,356.8C861.3,356.9 862.3,357.0 863.3,357.1C864.3,357.1 865.3,357.2 866.3,357.3C867.3,357.3 868.3,357.4 869.3,357.4C870.3,357.5 871.3,357.6 872.3,357.6C873.3,357.7 874.3,357.7 875.3,357.8C876.3,357.8 877.3,357.8 878.3,357.9C879.3,357.9 880.4,357.9 881.4,358.0C882.4,358.0 883.4,358.0 884.4,358.1C885.4,358.1 886.4,358.1 887.4,358.1C888.4,358.1 889.4,358.1 890.4,358.1C891.4,358.1 892.4,358.1 893.4,358.1C894.4,358.1 895.5,358.1 896.5,358.0C897.5,358.0 898.5,358.0 899.5,358.0C900.5,357.9 901.5,357.9 902.5,357.8C903.5,357.8 904.5,357.7 905.5,357.7C906.6,357.6 907.6,357.5 908.6,357.4C909.6,357.4 910.6,357.3 911.6,357.2C912.6,357.1 913.6,357.0 914.6,356.9C915.6,356.8 916.6,356.6 917.6,356.5C918.7,356.4 919.7,356.2 920.7,356.1C921.7,355.9 922.7,355.8 923.7,355.6C924.7,355.5 925.7,355.3 926.6,355.1C927.6,354.9 928.6,354.7 929.6,354.5C930.6,354.3 931.6,354.1 932.6,353.9C933.5,353.6 934.5,353.4 935.5,353.2C936.5,352.9 937.4,352.7 938.4,352.4C939.4,352.1 940.3,351.8 941.3,351.5C942.2,351.3 943.2,351.0 944.1,350.6C945.0,350.3 946.0,350.0 946.9,349.7C947.8,349.3 948.8,349.0 949.7,348.6C950.6,348.2 951.5,347.9 952.4,347.5C953.3,347.1 954.2,346.7 955.1,346.2C956.0,345.8 956.8,345.4 957.7,345.0C958.6,344.5 959.4,344.0 960.3,343.6C961.1,343.1 962.0,342.6 962.8,342.1C963.7,341.6 964.5,341.1 965.3,340.6C966.1,340.0 966.9,339.5 967.7,338.9C968.5,338.4 969.3,337.8 970.1,337.2C970.8,336.6 971.6,336.0 972.4,335.4C973.1,334.7 973.8,334.1 974.6,333.4C975.3,332.8 976.0,332.1 976.7,331.4C977.4,330.7 978.1,330.0 978.8,329.3C979.5,328.6 980.2,327.9 980.9,327.1C981.5,326.4 982.2,325.7 982.9,324.9C983.5,324.1 984.2,323.4 984.8,322.6C985.5,321.8 986.1,321.0 986.8,320.2C987.4,319.5 988.1,318.7 988.7,317.9C989.3,317.1 990.0,316.2 990.6,315.4C991.3,314.6 991.9,313.8 992.5,313.0C993.2,312.2 993.8,311.3 994.4,310.5C995.1,309.7 995.7,308.9 996.4,308.1C997.0,307.2 997.7,306.4 998.3,305.6C999.0,304.8 999.6,304.0 1000.3,303.1C1001.0,302.3 1001.6,301.5 1002.3,300.7C1003.0,299.9 1003.7,299.1 1004.4,298.3C1005.1,297.5 1005.8,296.8 1006.5,296.0C1007.2,295.2 1007.9,294.5 1008.7,293.7C1009.4,293.0 1010.2,292.3 1010.9,291.5C1011.7,290.8 1012.4,290.1 1013.2,289.5C1014.0,288.8 1014.8,288.1 1015.6,287.5C1016.4,286.9 1017.2,286.2 1018.0,285.7C1018.9,285.1 1019.7,284.5 1020.6,284.0C1021.4,283.5 1022.3,283.0 1023.1,282.5C1024.0,282.1 1024.9,281.7 1025.8,281.3C1026.7,280.9 1027.6,280.6 1028.5,280.3C1029.5,280.0 1030.4,279.8 1031.3,279.6C1032.2,279.4 1033.2,279.2 1034.1,279.1C1035.1,279.0 1036.0,278.9 1037.0,278.9C1037.9,278.9 1038.9,278.9 1039.9,278.9C1040.8,278.9 1041.8,279.0 1042.8,279.1C1043.7,279.2 1044.7,279.4 1045.7,279.6C1046.6,279.7 1047.6,280.0 1048.5,280.2C1049.5,280.4 1050.5,280.7 1051.4,281.0C1052.4,281.3 1053.3,281.6 1054.2,282.0C1055.2,282.3 1056.1,282.7 1057.0,283.1C1058.0,283.5 1058.9,284.0 1059.8,284.4C1060.7,284.9 1061.6,285.4 1062.4,285.8C1063.3,286.3 1064.2,286.9 1065.1,287.4C1065.9,287.9 1066.8,288.5 1067.6,289.0C1068.5,289.6 1069.3,290.2 1070.2,290.7C1071.0,291.3 1071.9,291.9 1072.7,292.5C1073.5,293.1 1074.3,293.8 1075.2,294.4C1076.0,295.0 1076.8,295.6 1077.6,296.2C1078.4,296.9 1079.3,297.5 1080.1,298.1C1080.9,298.7 1081.7,299.4 1082.5,300.0C1083.3,300.6 1084.2,301.2 1085.0,301.8C1085.8,302.4 1086.6,303.0 1087.4,303.6C1088.3,304.2 1089.1,304.8 1089.9,305.4C1090.8,306.0 1091.6,306.6 1092.4,307.2C1093.3,307.7 1094.1,308.3 1094.9,308.9C1095.8,309.4 1096.6,310.0 1097.4,310.5C1098.3,311.1 1099.1,311.6 1100.0,312.2C1100.8,312.7 1101.7,313.2 1102.5,313.8C1103.4,314.3 1104.2,314.8 1105.1,315.3C1105.9,315.9 1106.8,316.4 1107.6,316.9C1108.5,317.4 1109.3,317.9 1110.2,318.4C1111.1,318.9 1111.9,319.4 1112.8,319.9C1113.7,320.4 1114.5,320.9 1115.4,321.3C1116.3,321.8 1117.1,322.3 1118.0,322.8C1118.9,323.2 1119.8,323.7 1120.6,324.2C1121.5,324.6 1122.4,325.1 1123.3,325.6C1124.1,326.0 1125.0,326.5 1125.9,326.9C1126.8,327.4 1127.7,327.8 1128.6,328.3C1129.5,328.7 1130.4,329.2 1131.3,329.6C1132.1,330.0 1133.0,330.5 1133.9,330.9C1134.8,331.3 1135.7,331.8 1136.6,332.2C1137.5,332.6 1138.4,333.0 1139.4,333.5C1140.3,333.9 1141.2,334.3 1142.1,334.7C1143.0,335.1 1143.9,335.5 1144.8,335.9C1145.7,336.4 1146.6,336.8 1147.6,337.2C1148.5,337.6 1149.4,338.0 1150.3,338.4C1151.2,338.8 1152.2,339.2 1153.1,339.6C1154.0,340.0 1154.9,340.4 1155.9,340.7C1156.8,341.1 1157.7,341.5 1158.7,341.9C1159.6,342.3 1160.5,342.6 1161.5,343.0C1162.4,343.4 1163.3,343.8 1164.3,344.1C1165.2,344.5 1166.2,344.8 1167.1,345.2C1168.1,345.5 1169.0,345.9 1169.9,346.2C1170.9,346.6 1171.8,346.9 1172.8,347.2C1173.7,347.6 1174.7,347.9 1175.7,348.2C1176.6,348.5 1177.6,348.9 1178.5,349.2C1179.5,349.5 1180.4,349.8 1181.4,350.1C1182.4,350.4 1183.3,350.7 1184.3,350.9C1185.3,351.2 1186.2,351.5 1187.2,351.8C1188.2,352.0 1189.1,352.3 1190.1,352.5C1191.1,352.8 1192.0,353.0 1193.0,353.3C1194.0,353.5 1195.0,353.8 1195.9,354.0C1196.9,354.2 1197.9,354.4 1198.9,354.6C1199.9,354.8 1200.8,355.0 1201.8,355.2C1202.8,355.4 1203.8,355.6 1204.8,355.7C1205.8,355.9 1206.8,356.1 1207.7,356.2C1208.7,356.4 1209.7,356.5 1210.7,356.6C1211.7,356.8 1212.7,356.9 1213.7,357.0C1214.7,357.1 1215.7,357.2 1216.7,357.3C1217.7,357.4 1218.7,357.5 1219.7,357.6C1220.7,357.6 1221.7,357.7 1222.7,357.8C1223.7,357.8 1224.7,357.9 1225.7,357.9C1226.7,358.0 1227.7,358.0 1228.7,358.0C1229.7,358.1 1230.7,358.1 1231.7,358.1C1232.7,358.1 1233.7,358.2 1234.8,358.2C1235.8,358.2 1236.8,358.2 1237.8,358.2C1238.8,358.2 1239.8,358.2 1240.8,358.2C1241.8,358.2 1242.8,358.2 1243.8,358.2C1244.8,358.2 1245.9,358.2 1246.9,358.2C1247.9,358.1 1248.9,358.1 1249.9,358.1C1250.9,358.1 1251.9,358.1 1252.9,358.1C1253.9,358.1 1254.9,358.0 1255.9,358.0C1257.0,358.0 1258.0,358.0 1259.0,358.0C1260.0,358.0 1261.0,358.0 1262.0,358.0C1263.0,357.9 1264.0,357.9 1265.0,357.9C1266.0,357.9 1267.0,357.9 1268.0,357.9C1269.0,357.9 1270.0,358.0 1271.0,358.0C1272.0,358.0 1273.0,358.0 1274.0,358.0C1275.0,358.0 1276.0,358.1 1277.0,358.1C1278.0,358.1 1279.5,358.2 1280.0,358.2" fill="none" stroke="#ff00ff" stroke-width="3.3" stroke-linejoin="round" stroke-linecap="butt"/>
</g>
<clipPath id="c2"><rect x="113.00" y="441.00" width="522.70" height="365.00"/></clipPath>
<g clip-path="url(#c2)">
<path d="M113.0,793.5C113.2,793.1 113.9,791.8 114.3,791.0C114.8,790.1 115.2,789.2 115.6,788.4C116.0,787.5 116.4,786.6 116.8,785.6C117.2,784.7 117.6,783.8 118.0,782.9C118.3,781.9 118.7,781.0 119.1,780.0C119.4,779.0 119.8,778.1 120.1,777.1C120.5,776.1 120.8,775.1 121.1,774.2C121.5,773.2 121.8,772.2 122.1,771.2C122.4,770.2 122.7,769.2 123.0,768.2C123.3,767.3 123.6,766.3 123.8,765.3C124.1,764.3 124.4,763.3 124.6,762.3C124.9,761.4 125.1,760.4 125.3,759.4C125.6,758.5 125.8,757.5 126.0,756.6C126.2,755.6 126.4,754.7 126.6,753.7C126.8,752.8 127.0,751.8 127.2,750.9C127.4,750.0 127.5,749.0 127.7,748.1C127.9,747.2 128.0,746.2 128.2,745.3C128.4,744.4 128.5,743.4 128.7,742.5C128.8,741.5 129.0,740.6 129.1,739.6C129.3,738.7 129.4,737.7 129.6,736.7C129.7,735.8 129.9,734.8 130.0,733.8C130.2,732.8 130.3,731.8 130.5,730.8C130.6,729.8 130.8,728.8 130.9,727.7C131.1,726.7 131.2,725.7 131.4,724.6C131.6,723.5 131.7,722.5 131.9,721.4C132.1,720.3 132.3,719.1 132.4,718.0C132.6,716.9 132.8,715.7 133.0,714.6C133.2,713.4 133.4,712.2 133.7,711.0C133.9,709.9 134.1,708.7 134.4,707.6C134.6,706.6 134.9,705.5 135.1,704.5C135.4,703.5 135.7,702.6 136.0,701.7C136.3,700.9 136.7,700.1 137.0,699.5C137.4,698.9 137.8,698.3 138.2,698.0C138.6,697.6 139.0,697.3 139.5,697.3C139.9,697.2 140.4,697.3 140.9,697.5C141.4,697.8 142.0,698.3 142.5,698.9C143.1,699.6 143.7,700.5 144.3,701.5C144.9,702.5 145.6,703.8 146.2,705.0C146.8,706.2 147.5,707.6 148.0,708.9C148.6,710.3 149.2,711.7 149.7,712.9C150.2,714.2 150.6,715.4 151.0,716.5C151.4,717.6 151.7,718.6 152.1,719.6C152.4,720.7 152.7,721.6 153.0,722.5C153.3,723.5 153.6,724.4 153.9,725.3C154.3,726.2 154.6,727.1 154.9,727.9C155.2,728.8 155.5,729.7 155.8,730.5C156.1,731.4 156.4,732.2 156.7,733.1C157.0,733.9 157.3,734.8 157.6,735.6C157.9,736.5 158.3,737.3 158.6,738.2C159.0,739.1 159.3,740.0 159.7,740.9C160.0,741.8 160.4,742.7 160.8,743.6C161.1,744.5 161.5,745.4 161.9,746.4C162.3,747.3 162.8,748.2 163.2,749.2C163.6,750.1 164.0,751.0 164.5,752.0C164.9,752.9 165.4,753.8 165.9,754.8C166.3,755.7 166.8,756.6 167.3,757.5C167.8,758.5 168.3,759.4 168.9,760.3C169.4,761.2 169.9,762.1 170.5,763.0C171.1,763.8 171.6,764.7 172.2,765.6C172.8,766.4 173.4,767.3 174.0,768.1C174.6,768.9 175.3,769.7 175.9,770.5C176.6,771.3 177.2,772.0 177.9,772.8C178.6,773.5 179.3,774.2 180.0,774.9C180.7,775.6 181.5,776.2 182.2,776.9C183.0,777.5 183.7,778.1 184.5,778.7C185.3,779.2 186.1,779.8 186.9,780.3C187.7,780.8 188.6,781.3 189.4,781.7C190.3,782.2 191.1,782.6 192.0,783.0C192.9,783.5 193.8,783.8 194.7,784.2C195.6,784.6 196.5,784.9 197.4,785.2C198.4,785.6 199.3,785.9 200.2,786.1C201.2,786.4 202.1,786.7 203.1,786.9C204.1,787.2 205.0,787.4 206.0,787.7C207.0,787.9 208.0,788.1 209.0,788.3C209.9,788.5 210.9,788.7 211.9,788.8C212.9,789.0 213.9,789.2 214.9,789.3C215.9,789.5 216.9,789.7 217.9,789.8C218.9,790.0 219.9,790.1 220.9,790.2C221.9,790.4 223.0,790.5 224.0,790.6C225.0,790.8 226.0,790.9 227.0,791.0C228.0,791.1 229.0,791.3 230.0,791.4C231.0,791.5 232.0,791.6 233.0,791.7C234.0,791.8 235.0,791.9 236.0,792.0C237.0,792.1 238.0,792.2 239.0,792.3C240.0,792.4 241.0,792.5 242.0,792.6C243.0,792.7 243.9,792.8 244.9,792.8C245.9,792.9 246.9,793.0 247.9,793.1C248.9,793.1 249.9,793.2 250.9,793.3C251.9,793.3 252.9,793.4 253.9,793.5C254.9,793.5 255.9,793.6 256.9,793.6C257.9,793.7 258.9,793.7 259.9,793.8C260.9,793.8 261.9,793.9 262.9,793.9C263.9,794.0 264.9,794.0 265.9,794.0C266.9,794.1 267.9,794.1 268.9,794.1C269.9,794.2 270.9,794.2 271.9,794.2C272.9,794.2 273.9,794.3 274.9,794.3C275.8,794.3 276.8,794.3 277.8,794.3C278.8,794.3 279.8,794.3 280.8,794.4C281.8,794.4 282.8,794.4 283.8,794.4C284.8,794.4 285.8,794.4 286.8,794.4C287.8,794.4 288.8,794.4 289.8,794.4C290.8,794.3 291.8,794.3 292.8,794.3C293.8,794.3 294.8,794.3 295.8,794.3C296.8,794.3 297.8,794.2 298.8,794.2C299.8,794.2 300.8,794.2 301.8,794.2C302.8,794.1 303.8,794.1 304.8,794.1C305.8,794.0 306.8,794.0 307.8,794.0C308.8,793.9 309.8,793.9 310.8,793.9C311.8,793.8 312.8,793.8 313.8,793.7C314.8,793.7 315.8,793.7 316.8,793.6C317.8,793.6 318.8,793.5 319.8,793.5C320.8,793.4 321.8,793.4 322.8,793.3C323.8,793.3 324.8,793.2 325.8,793.1C326.8,793.1 327.8,793.0 328.8,793.0C329.8,792.9 330.8,792.8 331.8,792.8C332.8,792.7 333.8,792.6 334.8,792.6C335.9,792.5 336.9,792.4 337.9,792.4C338.9,792.3 339.9,792.2 340.9,792.2C341.9,792.1 342.9,792.0 343.9,791.9C344.9,791.9 345.9,791.8 346.9,791.7C347.9,791.6 348.9,791.5 349.9,791.5C350.9,791.4 351.9,791.3 352.9,791.2C353.9,791.1 354.9,791.0 355.9,790.9C356.9,790.9 357.9,790.8 358.9,790.7C359.9,790.6 360.9,790.5 361.9,790.4C362.9,790.3 363.9,790.2 364.9,790.1C365.9,790.0 366.9,789.9 367.9,789.8C368.9,789.7 369.9,789.6 370.9,789.5C371.9,789.4 372.9,789.3 373.9,789.2C374.8,789.1 375.8,789.0 376.8,788.9C377.8,788.8 378.8,788.7 379.8,788.6C380.8,788.5 381.8,788.4 382.8,788.3C383.8,788.2 384.8,788.1 385.8,788.0C386.8,787.9 387.7,787.8 388.7,787.6C389.7,787.5 390.7,787.4 391.7,787.3C392.7,787.2 393.7,787.1 394.6,787.0C395.6,786.9 396.6,786.7 397.6,786.6C398.6,786.5 399.6,786.4 400.5,786.3C401.5,786.2 402.5,786.1 403.5,785.9C404.5,785.8 405.4,785.7 406.4,785.6C407.4,785.5 408.4,785.3 409.4,785.2C410.3,785.1 411.3,785.0 412.3,784.8C413.3,784.7 414.3,784.6 415.2,784.4C416.2,784.3 417.2,784.1 418.2,784.0C419.1,783.8 420.1,783.7 421.1,783.5C422.1,783.3 423.1,783.2 424.0,783.0C425.0,782.8 426.0,782.6 427.0,782.5C428.0,782.3 429.0,782.1 429.9,781.9C430.9,781.7 431.9,781.4 432.9,781.2C433.9,781.0 434.9,780.8 435.9,780.5C436.9,780.3 437.9,780.0 438.8,779.8C439.8,779.5 440.8,779.2 441.8,779.0C442.8,778.7 443.8,778.4 444.8,778.1C445.8,777.8 446.8,777.6 447.8,777.3C448.8,777.0 449.8,776.7 450.8,776.4C451.8,776.1 452.8,775.8 453.8,775.6C454.8,775.3 455.8,775.0 456.8,774.8C457.8,774.5 458.8,774.2 459.8,774.0C460.8,773.8 461.8,773.5 462.8,773.3C463.8,773.1 464.8,772.9 465.8,772.7C466.8,772.5 467.8,772.3 468.8,772.2C469.8,772.0 470.8,771.9 471.8,771.8C472.8,771.7 473.8,771.6 474.8,771.5C475.7,771.5 476.7,771.4 477.7,771.4C478.7,771.4 479.7,771.4 480.6,771.4C481.6,771.4 482.6,771.5 483.6,771.5C484.5,771.6 485.5,771.7 486.5,771.8C487.4,771.9 488.4,772.0 489.4,772.2C490.3,772.3 491.3,772.5 492.3,772.6C493.2,772.8 494.2,773.0 495.1,773.2C496.1,773.4 497.1,773.6 498.0,773.8C499.0,774.1 499.9,774.3 500.9,774.6C501.8,774.8 502.8,775.1 503.7,775.3C504.7,775.6 505.6,775.9 506.6,776.2C507.6,776.5 508.5,776.8 509.5,777.1C510.4,777.4 511.4,777.7 512.3,778.0C513.3,778.4 514.2,778.7 515.2,779.0C516.1,779.4 517.1,779.7 518.0,780.0C519.0,780.4 519.9,780.7 520.8,781.0C521.8,781.4 522.7,781.7 523.7,782.1C524.6,782.4 525.6,782.8 526.5,783.1C527.5,783.5 528.4,783.8 529.4,784.1C530.3,784.5 531.3,784.8 532.3,785.1C533.2,785.5 534.2,785.8 535.1,786.1C536.1,786.5 537.0,786.8 538.0,787.1C538.9,787.4 539.9,787.7 540.8,788.0C541.8,788.3 542.8,788.6 543.7,788.8C544.7,789.1 545.6,789.4 546.6,789.6C547.6,789.9 548.5,790.2 549.5,790.4C550.5,790.6 551.4,790.8 552.4,791.0C553.4,791.3 554.4,791.5 555.3,791.6C556.3,791.8 557.3,792.0 558.2,792.2C559.2,792.3 560.2,792.5 561.2,792.6C562.2,792.8 563.1,792.9 564.1,793.0C565.1,793.2 566.1,793.3 567.1,793.4C568.0,793.5 569.0,793.6 570.0,793.7C571.0,793.8 572.0,793.9 573.0,793.9C574.0,794.0 574.9,794.1 575.9,794.2C576.9,794.2 577.9,794.3 578.9,794.3C579.9,794.4 580.9,794.4 581.9,794.4C582.9,794.5 583.9,794.5 584.9,794.5C585.9,794.6 586.9,794.6 587.9,794.6C588.9,794.6 589.9,794.6 590.8,794.6C591.8,794.6 592.8,794.6 593.8,794.6C594.8,794.6 595.8,794.6 596.8,794.6C597.8,794.6 598.8,794.6 599.8,794.6C600.9,794.6 601.9,794.6 602.9,794.6C603.9,794.6 604.9,794.5 605.9,794.5C606.9,794.5 607.9,794.5 608.9,794.5C609.9,794.4 610.9,794.4 611.9,794.4C612.9,794.4 613.9,794.4 614.9,794.3C615.9,794.3 616.9,794.3 617.9,794.3C618.9,794.3 619.9,794.2 620.9,794.2C621.9,794.2 622.9,794.2 623.9,794.2C625.0,794.2 626.0,794.2 627.0,794.2C628.0,794.1 629.0,794.1 630.0,794.1C631.0,794.1 632.0,794.1 633.0,794.2C634.0,794.2 635.5,794.2 636.0,794.2" fill="none" stroke="#000000" stroke-width="3.3" stroke-linejoin="round" stroke-linecap="butt"/>
<path d="M113.0,793.5C113.2,793.0 113.6,791.6 113.9,790.7C114.2,789.7 114.5,788.8 114.8,787.8C115.1,786.9 115.4,785.9 115.6,785.0C115.9,784.0 116.2,783.1 116.5,782.1C116.7,781.2 117.0,780.2 117.3,779.2C117.6,778.3 117.8,777.3 118.1,776.4C118.3,775.4 118.6,774.4 118.8,773.5C119.1,772.5 119.3,771.5 119.6,770.5C119.8,769.6 120.1,768.6 120.3,767.6C120.6,766.7 120.8,765.7 121.0,764.7C121.3,763.7 121.5,762.7 121.7,761.8C121.9,760.8 122.2,759.8 122.4,758.8C122.6,757.8 122.8,756.8 123.0,755.9C123.3,754.9 123.5,753.9 123.7,752.9C123.9,751.9 124.1,750.9 124.3,749.9C124.5,749.0 124.7,748.0 124.9,747.0C125.1,746.0 125.3,745.0 125.5,744.0C125.7,743.0 125.9,742.0 126.1,741.0C126.2,740.0 126.4,739.0 126.6,738.1C126.8,737.1 127.0,736.1 127.1,735.1C127.3,734.1 127.5,733.1 127.7,732.1C127.8,731.1 128.0,730.1 128.2,729.1C128.3,728.1 128.5,727.1 128.7,726.1C128.8,725.2 129.0,724.2 129.1,723.2C129.3,722.2 129.4,721.2 129.6,720.2C129.7,719.2 129.9,718.2 130.0,717.2C130.2,716.2 130.3,715.3 130.5,714.3C130.6,713.3 130.8,712.3 130.9,711.3C131.0,710.3 131.2,709.3 131.3,708.4C131.5,707.4 131.6,706.4 131.7,705.4C131.8,704.4 132.0,703.5 132.1,702.5C132.2,701.5 132.4,700.5 132.5,699.5C132.6,698.6 132.7,697.6 132.8,696.6C133.0,695.7 133.1,694.7 133.2,693.7C133.3,692.7 133.4,691.8 133.5,690.8C133.7,689.8 133.8,688.9 133.9,687.9C134.0,686.9 134.1,686.0 134.2,685.0C134.3,684.0 134.4,683.0 134.5,682.1C134.6,681.1 134.7,680.1 134.8,679.1C134.9,678.2 135.0,677.2 135.1,676.2C135.2,675.2 135.3,674.2 135.4,673.2C135.4,672.2 135.5,671.2 135.6,670.2C135.7,669.2 135.8,668.2 135.8,667.2C135.9,666.2 136.0,665.1 136.1,664.1C136.2,663.1 136.3,662.1 136.4,661.0C136.4,660.0 136.5,658.9 136.7,657.9C136.8,656.8 136.9,655.7 137.0,654.7C137.2,653.6 137.3,652.5 137.5,651.4C137.7,650.3 137.9,649.2 138.1,648.1C138.3,647.0 138.6,645.8 138.8,644.7C139.1,643.5 139.4,642.4 139.7,641.2C140.1,640.1 140.4,638.9 140.8,637.7C141.2,636.6 141.6,635.4 142.0,634.3C142.4,633.2 142.8,632.2 143.3,631.2C143.8,630.2 144.2,629.3 144.7,628.4C145.2,627.6 145.7,626.8 146.2,626.2C146.7,625.5 147.2,625.0 147.7,624.6C148.2,624.2 148.7,623.9 149.2,623.8C149.7,623.7 150.2,623.7 150.7,624.0C151.2,624.2 151.7,624.6 152.2,625.1C152.6,625.6 153.1,626.2 153.6,626.9C154.0,627.7 154.5,628.5 155.0,629.4C155.4,630.3 155.8,631.3 156.3,632.3C156.7,633.3 157.1,634.3 157.6,635.3C158.0,636.3 158.4,637.4 158.8,638.4C159.2,639.4 159.6,640.4 160.0,641.5C160.3,642.5 160.7,643.5 161.1,644.5C161.4,645.5 161.8,646.5 162.2,647.5C162.5,648.5 162.9,649.5 163.2,650.5C163.5,651.6 163.9,652.6 164.2,653.6C164.5,654.6 164.8,655.6 165.2,656.5C165.5,657.5 165.8,658.5 166.1,659.5C166.4,660.5 166.7,661.5 167.0,662.5C167.3,663.5 167.6,664.5 167.9,665.5C168.2,666.4 168.5,667.4 168.8,668.4C169.1,669.4 169.4,670.4 169.6,671.3C169.9,672.3 170.2,673.3 170.5,674.3C170.8,675.2 171.0,676.2 171.3,677.2C171.6,678.2 171.9,679.1 172.2,680.1C172.4,681.1 172.7,682.0 173.0,683.0C173.3,684.0 173.5,684.9 173.8,685.9C174.1,686.8 174.4,687.8 174.7,688.8C174.9,689.7 175.2,690.7 175.5,691.6C175.8,692.6 176.1,693.5 176.4,694.5C176.7,695.4 177.0,696.4 177.3,697.3C177.6,698.3 177.9,699.2 178.2,700.2C178.5,701.1 178.8,702.1 179.1,703.0C179.4,704.0 179.7,704.9 180.0,705.9C180.3,706.8 180.6,707.7 181.0,708.7C181.3,709.6 181.6,710.6 181.9,711.5C182.3,712.4 182.6,713.4 182.9,714.3C183.3,715.2 183.6,716.2 184.0,717.1C184.3,718.0 184.7,718.9 185.0,719.9C185.4,720.8 185.8,721.7 186.1,722.6C186.5,723.6 186.9,724.5 187.3,725.4C187.6,726.3 188.0,727.2 188.4,728.1C188.8,729.1 189.2,730.0 189.6,730.9C190.0,731.8 190.5,732.7 190.9,733.6C191.3,734.5 191.7,735.4 192.2,736.3C192.6,737.2 193.0,738.1 193.5,739.0C193.9,739.9 194.4,740.8 194.9,741.7C195.3,742.6 195.8,743.5 196.3,744.4C196.8,745.3 197.2,746.2 197.7,747.1C198.2,747.9 198.8,748.8 199.3,749.7C199.8,750.6 200.3,751.4 200.8,752.3C201.4,753.1 201.9,754.0 202.5,754.8C203.0,755.7 203.6,756.5 204.2,757.3C204.7,758.2 205.3,759.0 205.9,759.8C206.5,760.6 207.1,761.4 207.7,762.2C208.3,763.0 209.0,763.7 209.6,764.5C210.2,765.3 210.9,766.0 211.6,766.8C212.2,767.5 212.9,768.2 213.6,769.0C214.2,769.7 214.9,770.4 215.6,771.1C216.3,771.7 217.1,772.4 217.8,773.1C218.5,773.7 219.3,774.4 220.0,775.0C220.8,775.6 221.6,776.2 222.3,776.8C223.1,777.4 223.9,777.9 224.7,778.5C225.5,779.0 226.3,779.6 227.2,780.1C228.0,780.6 228.9,781.1 229.7,781.6C230.6,782.1 231.5,782.5 232.3,783.0C233.2,783.4 234.1,783.8 235.0,784.2C235.9,784.6 236.8,785.0 237.7,785.4C238.7,785.8 239.6,786.2 240.5,786.5C241.5,786.8 242.4,787.2 243.4,787.5C244.3,787.8 245.3,788.1 246.3,788.4C247.2,788.7 248.2,789.0 249.2,789.2C250.1,789.5 251.1,789.7 252.1,790.0C253.1,790.2 254.1,790.4 255.1,790.7C256.1,790.9 257.1,791.1 258.1,791.3C259.1,791.5 260.1,791.6 261.1,791.8C262.1,792.0 263.1,792.1 264.1,792.3C265.1,792.4 266.1,792.6 267.1,792.7C268.1,792.8 269.1,793.0 270.1,793.1C271.1,793.2 272.1,793.3 273.2,793.4C274.2,793.5 275.2,793.6 276.2,793.7C277.2,793.7 278.2,793.8 279.2,793.9C280.2,793.9 281.2,794.0 282.2,794.0C283.2,794.1 284.2,794.1 285.2,794.1C286.2,794.2 287.2,794.2 288.2,794.2C289.2,794.2 290.2,794.2 291.2,794.2C292.2,794.2 293.2,794.2 294.2,794.2C295.2,794.2 296.2,794.2 297.2,794.1C298.2,794.1 299.2,794.1 300.2,794.0C301.2,794.0 302.2,793.9 303.2,793.9C304.2,793.8 305.2,793.7 306.2,793.7C307.2,793.6 308.2,793.5 309.2,793.4C310.2,793.3 311.2,793.3 312.2,793.2C313.2,793.1 314.2,793.0 315.2,792.9C316.2,792.8 317.2,792.6 318.2,792.5C319.2,792.4 320.2,792.3 321.2,792.1C322.2,792.0 323.2,791.9 324.2,791.7C325.2,791.6 326.1,791.4 327.1,791.3C328.1,791.1 329.1,791.0 330.1,790.8C331.1,790.7 332.1,790.5 333.1,790.3C334.1,790.2 335.0,790.0 336.0,789.8C337.0,789.6 338.0,789.4 339.0,789.3C340.0,789.1 341.0,788.9 341.9,788.7C342.9,788.5 343.9,788.3 344.9,788.1C345.9,787.9 346.8,787.7 347.8,787.5C348.8,787.2 349.8,787.0 350.8,786.8C351.7,786.6 352.7,786.4 353.7,786.1C354.7,785.9 355.6,785.7 356.6,785.5C357.6,785.2 358.6,785.0 359.5,784.8C360.5,784.5 361.5,784.3 362.4,784.0C363.4,783.8 364.4,783.6 365.4,783.3C366.3,783.1 367.3,782.8 368.3,782.6C369.2,782.3 370.2,782.1 371.1,781.8C372.1,781.5 373.1,781.3 374.0,781.0C375.0,780.8 376.0,780.5 376.9,780.2C377.9,780.0 378.8,779.7 379.8,779.4C380.7,779.2 381.7,778.9 382.7,778.6C383.6,778.3 384.6,778.1 385.5,777.8C386.5,777.5 387.4,777.2 388.4,776.9C389.3,776.6 390.3,776.3 391.2,776.0C392.1,775.7 393.1,775.4 394.0,775.1C395.0,774.8 395.9,774.5 396.9,774.2C397.8,773.8 398.7,773.5 399.7,773.2C400.6,772.8 401.5,772.5 402.5,772.2C403.4,771.8 404.3,771.5 405.3,771.1C406.2,770.7 407.1,770.4 408.0,770.0C409.0,769.6 409.9,769.2 410.8,768.8C411.7,768.5 412.7,768.1 413.6,767.6C414.5,767.2 415.4,766.8 416.3,766.4C417.2,766.0 418.1,765.5 419.0,765.1C420.0,764.7 420.9,764.2 421.8,763.7C422.7,763.3 423.6,762.8 424.5,762.3C425.4,761.9 426.3,761.4 427.2,760.9C428.1,760.4 429.0,759.9 429.9,759.4C430.8,758.9 431.7,758.4 432.6,757.9C433.4,757.4 434.3,756.8 435.2,756.3C436.1,755.8 437.0,755.3 437.9,754.8C438.8,754.3 439.7,753.8 440.6,753.3C441.5,752.8 442.4,752.4 443.3,751.9C444.2,751.4 445.2,750.9 446.1,750.5C447.0,750.0 447.9,749.6 448.8,749.1C449.7,748.7 450.6,748.3 451.6,747.9C452.5,747.5 453.4,747.1 454.4,746.7C455.3,746.3 456.2,746.0 457.2,745.6C458.1,745.3 459.1,745.0 460.0,744.7C461.0,744.4 462.0,744.1 462.9,743.9C463.9,743.6 464.9,743.4 465.8,743.2C466.8,743.0 467.8,742.8 468.8,742.7C469.7,742.5 470.7,742.4 471.7,742.3C472.7,742.2 473.7,742.1 474.7,742.1C475.6,742.0 476.6,742.0 477.6,742.0C478.6,742.0 479.6,742.0 480.5,742.1C481.5,742.1 482.5,742.2 483.4,742.3C484.4,742.4 485.4,742.6 486.3,742.8C487.3,742.9 488.2,743.1 489.2,743.3C490.1,743.6 491.0,743.8 492.0,744.1C492.9,744.4 493.8,744.7 494.7,745.1C495.6,745.4 496.5,745.8 497.4,746.2C498.2,746.6 499.1,747.0 500.0,747.5C500.8,748.0 501.7,748.5 502.5,749.0C503.3,749.5 504.1,750.1 505.0,750.7C505.8,751.3 506.6,751.9 507.4,752.5C508.2,753.1 508.9,753.8 509.7,754.4C510.5,755.1 511.3,755.8 512.0,756.5C512.8,757.2 513.5,757.9 514.3,758.6C515.0,759.3 515.8,760.1 516.5,760.8C517.3,761.6 518.0,762.3 518.8,763.1C519.5,763.8 520.3,764.6 521.0,765.3C521.7,766.1 522.5,766.8 523.2,767.6C524.0,768.3 524.7,769.1 525.5,769.8C526.2,770.5 527.0,771.3 527.7,772.0C528.5,772.7 529.2,773.4 530.0,774.1C530.7,774.8 531.5,775.5 532.3,776.2C533.1,776.8 533.9,777.5 534.7,778.1C535.5,778.8 536.3,779.4 537.1,779.9C537.9,780.5 538.7,781.1 539.5,781.6C540.4,782.2 541.2,782.7 542.1,783.2C542.9,783.7 543.8,784.1 544.6,784.6C545.5,785.0 546.4,785.5 547.3,785.9C548.1,786.3 549.0,786.7 549.9,787.1C550.8,787.4 551.7,787.8 552.7,788.1C553.6,788.5 554.5,788.8 555.4,789.1C556.3,789.4 557.3,789.7 558.2,789.9C559.2,790.2 560.1,790.5 561.1,790.7C562.0,790.9 563.0,791.2 563.9,791.4C564.9,791.6 565.9,791.8 566.8,792.0C567.8,792.1 568.8,792.3 569.8,792.5C570.7,792.6 571.7,792.8 572.7,792.9C573.7,793.0 574.7,793.1 575.7,793.2C576.7,793.3 577.7,793.4 578.7,793.5C579.7,793.6 580.7,793.7 581.7,793.8C582.7,793.8 583.7,793.9 584.8,794.0C585.8,794.0 586.8,794.0 587.8,794.1C588.8,794.1 589.8,794.2 590.9,794.2C591.9,794.2 592.9,794.2 593.9,794.2C594.9,794.2 596.0,794.3 597.0,794.3C598.0,794.3 599.0,794.3 600.1,794.3C601.1,794.3 602.1,794.2 603.1,794.2C604.1,794.2 605.2,794.2 606.2,794.2C607.2,794.2 608.2,794.2 609.2,794.2C610.3,794.1 611.3,794.1 612.3,794.1C613.3,794.1 614.3,794.1 615.3,794.1C616.3,794.0 617.3,794.0 618.3,794.0C619.3,794.0 620.3,794.0 621.3,794.0C622.3,794.0 623.3,794.0 624.3,794.0C625.3,794.0 626.3,794.0 627.3,794.0C628.2,794.0 629.2,794.0 630.2,794.0C631.2,794.0 632.1,794.1 633.1,794.1C634.1,794.1 635.5,794.2 636.0,794.2" fill="none" stroke="#ff0000" stroke-width="3.3" stroke-linejoin="round" stroke-linecap="butt"/>
<path d="M113.0,793.5C113.2,793.0 113.7,791.6 114.0,790.7C114.4,789.7 114.7,788.8 115.0,787.8C115.3,786.9 115.6,785.9 116.0,785.0C116.3,784.0 116.6,783.1 116.9,782.1C117.2,781.2 117.5,780.2 117.8,779.3C118.1,778.3 118.4,777.3 118.6,776.4C118.9,775.4 119.2,774.5 119.5,773.5C119.7,772.5 120.0,771.6 120.3,770.6C120.5,769.6 120.8,768.7 121.1,767.7C121.3,766.8 121.6,765.8 121.8,764.8C122.1,763.9 122.3,762.9 122.6,761.9C122.8,760.9 123.0,760.0 123.3,759.0C123.5,758.0 123.7,757.1 124.0,756.1C124.2,755.1 124.4,754.1 124.6,753.2C124.8,752.2 125.1,751.2 125.3,750.2C125.5,749.3 125.7,748.3 125.9,747.3C126.1,746.3 126.3,745.4 126.5,744.4C126.7,743.4 126.9,742.4 127.1,741.4C127.3,740.5 127.4,739.5 127.6,738.5C127.8,737.5 128.0,736.5 128.2,735.5C128.3,734.6 128.5,733.6 128.7,732.6C128.9,731.6 129.0,730.6 129.2,729.6C129.4,728.6 129.5,727.7 129.7,726.7C129.8,725.7 130.0,724.7 130.2,723.7C130.3,722.7 130.5,721.7 130.6,720.7C130.8,719.8 130.9,718.8 131.1,717.8C131.2,716.8 131.4,715.8 131.5,714.8C131.6,713.8 131.8,712.8 131.9,711.8C132.1,710.8 132.2,709.8 132.3,708.9C132.5,707.9 132.6,706.9 132.7,705.9C132.9,704.9 133.0,703.9 133.1,702.9C133.2,701.9 133.4,700.9 133.5,699.9C133.6,698.9 133.7,697.9 133.9,696.9C134.0,695.9 134.1,694.9 134.2,693.9C134.3,692.9 134.4,691.9 134.6,690.9C134.7,690.0 134.8,689.0 134.9,688.0C135.0,687.0 135.1,686.0 135.2,685.0C135.3,684.0 135.5,683.0 135.6,682.0C135.7,681.0 135.8,680.0 135.9,679.0C136.0,678.0 136.1,677.0 136.2,676.0C136.3,675.0 136.4,674.0 136.5,673.0C136.6,672.0 136.7,671.0 136.8,670.0C136.9,669.0 137.0,668.0 137.2,667.0C137.3,666.0 137.4,665.0 137.5,664.0C137.6,663.0 137.7,662.0 137.8,661.0C137.9,660.0 138.0,659.0 138.1,658.0C138.2,657.1 138.3,656.1 138.4,655.1C138.5,654.1 138.6,653.1 138.7,652.1C138.8,651.1 138.9,650.1 139.0,649.1C139.1,648.1 139.2,647.1 139.3,646.1C139.4,645.1 139.5,644.1 139.6,643.1C139.7,642.1 139.8,641.1 139.9,640.1C140.0,639.2 140.1,638.2 140.2,637.2C140.3,636.2 140.4,635.2 140.5,634.2C140.6,633.2 140.8,632.2 140.9,631.2C141.0,630.2 141.1,629.3 141.2,628.3C141.3,627.3 141.4,626.3 141.5,625.3C141.6,624.3 141.7,623.3 141.8,622.4C141.9,621.4 142.1,620.4 142.2,619.4C142.3,618.4 142.4,617.4 142.5,616.5C142.6,615.5 142.7,614.5 142.9,613.5C143.0,612.5 143.1,611.6 143.2,610.6C143.3,609.6 143.5,608.6 143.6,607.6C143.7,606.7 143.8,605.7 143.9,604.7C144.1,603.7 144.2,602.8 144.3,601.8C144.4,600.8 144.6,599.8 144.7,598.9C144.9,597.9 145.0,596.9 145.2,595.9C145.3,594.9 145.5,593.9 145.6,592.9C145.8,591.9 146.0,590.8 146.2,589.8C146.4,588.8 146.6,587.7 146.8,586.7C147.0,585.6 147.2,584.5 147.5,583.4C147.7,582.3 148.0,581.2 148.3,580.1C148.5,579.0 148.8,577.9 149.2,576.7C149.5,575.6 149.8,574.5 150.2,573.5C150.6,572.4 151.0,571.3 151.4,570.3C151.9,569.3 152.3,568.3 152.8,567.4C153.3,566.5 153.8,565.6 154.3,564.8C154.8,564.0 155.4,563.3 155.9,562.6C156.5,562.0 157.0,561.4 157.6,561.0C158.2,560.5 158.8,560.2 159.3,560.0C159.9,559.8 160.5,559.7 161.0,559.7C161.6,559.8 162.2,560.0 162.7,560.2C163.3,560.5 163.8,561.0 164.4,561.5C164.9,562.0 165.5,562.6 166.0,563.3C166.5,564.0 167.1,564.8 167.6,565.7C168.1,566.5 168.6,567.4 169.1,568.4C169.6,569.4 170.1,570.4 170.6,571.5C171.1,572.6 171.6,573.7 172.0,574.8C172.5,576.0 172.9,577.1 173.4,578.3C173.8,579.4 174.3,580.6 174.7,581.8C175.1,582.9 175.5,584.1 175.9,585.2C176.3,586.3 176.6,587.4 177.0,588.5C177.4,589.6 177.7,590.6 178.0,591.6C178.4,592.7 178.7,593.7 179.0,594.6C179.3,595.6 179.7,596.6 180.0,597.5C180.3,598.5 180.6,599.4 180.8,600.4C181.1,601.3 181.4,602.2 181.7,603.1C182.0,604.0 182.2,604.9 182.5,605.8C182.8,606.7 183.0,607.6 183.3,608.5C183.6,609.4 183.8,610.3 184.1,611.2C184.4,612.1 184.6,613.0 184.9,613.9C185.2,614.8 185.4,615.7 185.7,616.6C186.0,617.5 186.2,618.4 186.5,619.4C186.8,620.3 187.0,621.2 187.3,622.2C187.6,623.1 187.9,624.1 188.2,625.0C188.4,626.0 188.7,626.9 189.0,627.9C189.3,628.8 189.6,629.8 189.8,630.8C190.1,631.8 190.4,632.7 190.7,633.7C191.0,634.7 191.3,635.7 191.5,636.6C191.8,637.6 192.1,638.6 192.4,639.6C192.7,640.6 193.0,641.6 193.2,642.6C193.5,643.5 193.8,644.5 194.1,645.5C194.4,646.5 194.7,647.5 194.9,648.5C195.2,649.5 195.5,650.5 195.8,651.5C196.1,652.5 196.3,653.5 196.6,654.5C196.9,655.5 197.2,656.5 197.4,657.4C197.7,658.4 198.0,659.4 198.3,660.4C198.5,661.4 198.8,662.4 199.1,663.4C199.3,664.4 199.6,665.3 199.9,666.3C200.1,667.3 200.4,668.3 200.6,669.2C200.9,670.2 201.1,671.2 201.4,672.2C201.7,673.1 201.9,674.1 202.1,675.0C202.4,676.0 202.6,676.9 202.9,677.9C203.1,678.9 203.4,679.8 203.6,680.8C203.9,681.7 204.1,682.6 204.4,683.6C204.6,684.5 204.8,685.5 205.1,686.4C205.3,687.3 205.6,688.3 205.8,689.2C206.1,690.2 206.3,691.1 206.6,692.0C206.8,693.0 207.1,693.9 207.3,694.8C207.6,695.7 207.8,696.7 208.1,697.6C208.3,698.5 208.6,699.5 208.8,700.4C209.1,701.3 209.4,702.2 209.6,703.2C209.9,704.1 210.2,705.0 210.5,705.9C210.7,706.9 211.0,707.8 211.3,708.7C211.6,709.6 211.9,710.6 212.2,711.5C212.5,712.4 212.8,713.3 213.1,714.3C213.4,715.2 213.7,716.1 214.0,717.1C214.3,718.0 214.6,718.9 215.0,719.9C215.3,720.8 215.6,721.7 216.0,722.7C216.3,723.6 216.7,724.5 217.0,725.5C217.4,726.4 217.8,727.4 218.2,728.3C218.5,729.2 218.9,730.2 219.3,731.1C219.7,732.1 220.1,733.0 220.5,734.0C220.9,735.0 221.3,735.9 221.8,736.9C222.2,737.8 222.6,738.8 223.1,739.7C223.5,740.7 224.0,741.6 224.5,742.6C224.9,743.5 225.4,744.5 225.9,745.4C226.4,746.4 226.9,747.3 227.4,748.2C227.9,749.2 228.4,750.1 228.9,751.0C229.5,751.9 230.0,752.9 230.6,753.8C231.1,754.7 231.7,755.6 232.2,756.5C232.8,757.4 233.4,758.2 234.0,759.1C234.5,760.0 235.1,760.8 235.8,761.7C236.4,762.5 237.0,763.4 237.6,764.2C238.3,765.0 238.9,765.8 239.5,766.6C240.2,767.4 240.9,768.2 241.5,769.0C242.2,769.7 242.9,770.5 243.6,771.2C244.3,771.9 245.0,772.7 245.7,773.4C246.5,774.0 247.2,774.7 247.9,775.4C248.7,776.0 249.4,776.7 250.2,777.3C251.0,777.9 251.7,778.5 252.5,779.1C253.3,779.7 254.1,780.2 254.9,780.8C255.7,781.3 256.6,781.8 257.4,782.3C258.2,782.8 259.0,783.3 259.9,783.8C260.7,784.3 261.6,784.7 262.5,785.1C263.3,785.6 264.2,786.0 265.1,786.4C266.0,786.8 266.8,787.2 267.7,787.5C268.6,787.9 269.5,788.2 270.4,788.5C271.4,788.9 272.3,789.2 273.2,789.5C274.1,789.7 275.1,790.0 276.0,790.3C276.9,790.5 277.9,790.8 278.8,791.0C279.8,791.2 280.7,791.4 281.7,791.6C282.6,791.8 283.6,792.0 284.5,792.1C285.5,792.3 286.5,792.4 287.5,792.5C288.4,792.6 289.4,792.7 290.4,792.8C291.4,792.9 292.3,793.0 293.3,793.1C294.3,793.1 295.3,793.2 296.3,793.2C297.3,793.2 298.3,793.2 299.3,793.2C300.3,793.2 301.3,793.2 302.3,793.2C303.3,793.1 304.3,793.1 305.3,793.0C306.3,793.0 307.3,792.9 308.3,792.8C309.3,792.7 310.3,792.6 311.3,792.5C312.3,792.3 313.3,792.2 314.3,792.0C315.2,791.9 316.2,791.7 317.2,791.6C318.2,791.4 319.2,791.2 320.2,791.0C321.2,790.8 322.2,790.6 323.2,790.3C324.2,790.1 325.2,789.8 326.1,789.6C327.1,789.3 328.1,789.0 329.1,788.8C330.1,788.5 331.0,788.2 332.0,787.9C333.0,787.5 333.9,787.2 334.9,786.9C335.8,786.5 336.8,786.2 337.7,785.8C338.7,785.5 339.6,785.1 340.6,784.7C341.5,784.3 342.4,783.9 343.4,783.5C344.3,783.1 345.2,782.7 346.1,782.2C347.0,781.8 347.9,781.4 348.8,780.9C349.7,780.5 350.6,780.0 351.5,779.5C352.4,779.0 353.3,778.6 354.2,778.1C355.0,777.6 355.9,777.1 356.8,776.5C357.7,776.0 358.5,775.5 359.4,775.0C360.2,774.4 361.1,773.9 361.9,773.4C362.8,772.8 363.6,772.3 364.5,771.7C365.3,771.2 366.1,770.6 367.0,770.0C367.8,769.5 368.6,768.9 369.4,768.3C370.3,767.7 371.1,767.1 371.9,766.6C372.7,766.0 373.5,765.4 374.4,764.8C375.2,764.2 376.0,763.6 376.8,763.0C377.6,762.4 378.4,761.8 379.2,761.2C380.0,760.6 380.8,760.0 381.6,759.4C382.4,758.7 383.2,758.1 384.0,757.5C384.8,756.9 385.5,756.3 386.3,755.7C387.1,755.1 387.9,754.5 388.7,753.9C389.5,753.3 390.3,752.7 391.0,752.1C391.8,751.5 392.6,750.9 393.4,750.3C394.2,749.7 395.0,749.1 395.8,748.5C396.5,747.9 397.3,747.3 398.1,746.7C398.9,746.1 399.7,745.5 400.4,744.9C401.2,744.4 402.0,743.8 402.8,743.2C403.6,742.6 404.4,742.0 405.2,741.4C405.9,740.9 406.7,740.3 407.5,739.7C408.3,739.1 409.1,738.5 409.9,738.0C410.7,737.4 411.5,736.8 412.3,736.2C413.1,735.7 413.9,735.1 414.7,734.5C415.5,733.9 416.3,733.4 417.1,732.8C417.9,732.2 418.7,731.6 419.5,731.0C420.3,730.5 421.2,729.9 422.0,729.3C422.8,728.7 423.6,728.1 424.4,727.6C425.3,727.0 426.1,726.4 426.9,725.8C427.8,725.2 428.6,724.6 429.5,724.0C430.3,723.5 431.2,722.9 432.0,722.3C432.9,721.7 433.7,721.1 434.6,720.5C435.4,719.9 436.3,719.3 437.2,718.7C438.0,718.1 438.9,717.5 439.8,716.9C440.7,716.4 441.6,715.8 442.4,715.2C443.3,714.7 444.2,714.1 445.1,713.6C446.0,713.0 446.9,712.5 447.8,712.0C448.7,711.5 449.6,711.0 450.5,710.5C451.4,710.1 452.3,709.6 453.2,709.2C454.1,708.8 455.0,708.4 455.9,708.0C456.8,707.6 457.7,707.3 458.6,706.9C459.5,706.6 460.4,706.3 461.3,706.1C462.2,705.8 463.1,705.6 464.0,705.4C465.0,705.2 465.9,705.0 466.8,704.9C467.7,704.8 468.6,704.7 469.5,704.7C470.4,704.6 471.3,704.6 472.2,704.7C473.1,704.7 474.0,704.8 474.9,705.0C475.8,705.1 476.7,705.3 477.6,705.5C478.5,705.8 479.4,706.1 480.3,706.4C481.1,706.8 482.0,707.2 482.9,707.6C483.8,708.1 484.7,708.6 485.5,709.1C486.4,709.7 487.3,710.3 488.1,710.9C489.0,711.6 489.9,712.2 490.7,712.9C491.5,713.6 492.4,714.4 493.2,715.1C494.0,715.9 494.8,716.7 495.6,717.4C496.4,718.2 497.2,719.0 497.9,719.8C498.7,720.6 499.4,721.4 500.2,722.2C500.9,723.0 501.6,723.8 502.3,724.6C503.0,725.4 503.6,726.2 504.3,726.9C505.0,727.7 505.6,728.5 506.2,729.3C506.9,730.0 507.5,730.8 508.1,731.6C508.7,732.3 509.3,733.1 509.9,733.9C510.5,734.6 511.1,735.4 511.7,736.1C512.3,736.9 512.9,737.7 513.5,738.4C514.0,739.2 514.6,739.9 515.2,740.7C515.8,741.5 516.3,742.2 516.9,743.0C517.5,743.7 518.1,744.5 518.7,745.3C519.3,746.0 519.9,746.8 520.5,747.6C521.1,748.3 521.7,749.1 522.3,749.9C522.9,750.7 523.6,751.4 524.2,752.2C524.8,753.0 525.4,753.8 526.1,754.5C526.7,755.3 527.4,756.1 528.0,756.8C528.7,757.6 529.4,758.4 530.0,759.1C530.7,759.9 531.4,760.6 532.1,761.4C532.7,762.2 533.4,762.9 534.1,763.6C534.8,764.4 535.5,765.1 536.2,765.9C536.9,766.6 537.7,767.3 538.4,768.0C539.1,768.7 539.8,769.5 540.6,770.2C541.3,770.9 542.1,771.5 542.8,772.2C543.6,772.9 544.3,773.6 545.1,774.2C545.9,774.9 546.6,775.6 547.4,776.2C548.2,776.8 549.0,777.5 549.8,778.1C550.6,778.7 551.4,779.3 552.2,779.9C553.0,780.4 553.8,781.0 554.6,781.6C555.5,782.1 556.3,782.7 557.1,783.2C558.0,783.7 558.8,784.2 559.7,784.7C560.6,785.2 561.4,785.7 562.3,786.1C563.2,786.6 564.0,787.0 564.9,787.4C565.8,787.8 566.7,788.2 567.6,788.6C568.5,789.0 569.4,789.3 570.4,789.7C571.3,790.0 572.2,790.3 573.1,790.6C574.1,790.9 575.0,791.2 576.0,791.4C576.9,791.7 577.9,791.9 578.8,792.1C579.8,792.3 580.8,792.5 581.8,792.7C582.7,792.8 583.7,793.0 584.7,793.1C585.7,793.2 586.7,793.4 587.7,793.5C588.7,793.6 589.7,793.7 590.7,793.7C591.7,793.8 592.7,793.9 593.7,793.9C594.7,794.0 595.7,794.0 596.8,794.1C597.8,794.1 598.8,794.1 599.8,794.2C600.8,794.2 601.9,794.2 602.9,794.2C603.9,794.2 604.9,794.2 606.0,794.2C607.0,794.2 608.0,794.2 609.0,794.1C610.1,794.1 611.1,794.1 612.1,794.1C613.1,794.1 614.1,794.0 615.2,794.0C616.2,794.0 617.2,794.0 618.2,794.0C619.2,794.0 620.2,793.9 621.2,793.9C622.2,793.9 623.2,793.9 624.2,793.9C625.2,793.9 626.2,793.9 627.2,793.9C628.2,793.9 629.2,793.9 630.2,794.0C631.2,794.0 632.1,794.0 633.1,794.1C634.1,794.1 635.5,794.2 636.0,794.2" fill="none" stroke="#0000ff" stroke-width="3.3" stroke-linejoin="round" stroke-linecap="butt"/>
<path d="M113.2,793.6C113.3,793.1 113.9,791.7 114.3,790.8C114.7,789.9 115.1,788.9 115.4,788.0C115.8,787.1 116.2,786.1 116.5,785.2C116.9,784.3 117.2,783.3 117.6,782.4C117.9,781.4 118.3,780.5 118.6,779.5C118.9,778.6 119.2,777.7 119.6,776.7C119.9,775.8 120.2,774.8 120.5,773.9C120.8,772.9 121.1,772.0 121.4,771.0C121.7,770.1 122.0,769.1 122.3,768.2C122.6,767.2 122.9,766.3 123.1,765.3C123.4,764.3 123.7,763.4 124.0,762.4C124.2,761.5 124.5,760.5 124.7,759.6C125.0,758.6 125.3,757.6 125.5,756.7C125.8,755.7 126.0,754.7 126.2,753.8C126.5,752.8 126.7,751.8 126.9,750.9C127.2,749.9 127.4,748.9 127.6,748.0C127.8,747.0 128.1,746.0 128.3,745.1C128.5,744.1 128.7,743.1 128.9,742.1C129.1,741.2 129.3,740.2 129.5,739.2C129.7,738.3 129.9,737.3 130.1,736.3C130.3,735.3 130.5,734.3 130.6,733.4C130.8,732.4 131.0,731.4 131.2,730.4C131.4,729.4 131.5,728.5 131.7,727.5C131.9,726.5 132.0,725.5 132.2,724.5C132.4,723.5 132.5,722.6 132.7,721.6C132.9,720.6 133.0,719.6 133.2,718.6C133.3,717.6 133.5,716.6 133.6,715.7C133.8,714.7 133.9,713.7 134.0,712.7C134.2,711.7 134.3,710.7 134.5,709.7C134.6,708.7 134.7,707.7 134.9,706.7C135.0,705.8 135.1,704.8 135.3,703.8C135.4,702.8 135.5,701.8 135.7,700.8C135.8,699.8 135.9,698.8 136.0,697.8C136.2,696.8 136.3,695.8 136.4,694.8C136.5,693.8 136.6,692.8 136.8,691.8C136.9,690.8 137.0,689.8 137.1,688.8C137.2,687.8 137.3,686.8 137.4,685.8C137.6,684.8 137.7,683.8 137.8,682.8C137.9,681.8 138.0,680.8 138.1,679.8C138.2,678.8 138.3,677.8 138.4,676.8C138.5,675.8 138.7,674.8 138.8,673.8C138.9,672.8 139.0,671.8 139.1,670.8C139.2,669.8 139.3,668.8 139.4,667.8C139.5,666.8 139.6,665.8 139.7,664.8C139.8,663.8 139.9,662.8 140.0,661.8C140.1,660.8 140.3,659.8 140.4,658.8C140.5,657.8 140.6,656.8 140.7,655.8C140.8,654.7 140.9,653.7 141.0,652.7C141.1,651.7 141.2,650.7 141.3,649.7C141.4,648.7 141.6,647.7 141.7,646.7C141.8,645.7 141.9,644.7 142.0,643.7C142.1,642.7 142.2,641.7 142.3,640.7C142.4,639.7 142.6,638.7 142.7,637.7C142.8,636.7 142.9,635.7 143.0,634.7C143.1,633.7 143.2,632.7 143.4,631.7C143.5,630.6 143.6,629.6 143.7,628.6C143.8,627.6 143.9,626.6 144.1,625.6C144.2,624.6 144.3,623.6 144.4,622.6C144.5,621.6 144.6,620.6 144.8,619.6C144.9,618.7 145.0,617.7 145.1,616.7C145.2,615.7 145.4,614.7 145.5,613.7C145.6,612.7 145.7,611.7 145.8,610.7C146.0,609.7 146.1,608.7 146.2,607.7C146.3,606.7 146.5,605.7 146.6,604.7C146.7,603.8 146.8,602.8 147.0,601.8C147.1,600.8 147.2,599.8 147.3,598.8C147.5,597.8 147.6,596.9 147.7,595.9C147.8,594.9 148.0,593.9 148.1,592.9C148.2,592.0 148.3,591.0 148.5,590.0C148.6,589.0 148.7,588.1 148.8,587.1C149.0,586.1 149.1,585.1 149.2,584.2C149.4,583.2 149.5,582.2 149.6,581.3C149.8,580.3 149.9,579.3 150.0,578.4C150.1,577.4 150.3,576.4 150.4,575.5C150.5,574.5 150.7,573.5 150.8,572.6C151.0,571.6 151.1,570.6 151.2,569.7C151.4,568.7 151.5,567.8 151.7,566.8C151.8,565.8 152.0,564.9 152.1,563.9C152.3,562.9 152.4,561.9 152.6,561.0C152.8,560.0 152.9,559.0 153.1,558.1C153.3,557.1 153.4,556.1 153.6,555.1C153.8,554.1 154.0,553.2 154.1,552.2C154.3,551.2 154.5,550.2 154.7,549.2C154.9,548.2 155.1,547.2 155.3,546.2C155.5,545.2 155.7,544.2 155.9,543.2C156.2,542.2 156.4,541.2 156.6,540.2C156.8,539.2 157.1,538.2 157.3,537.1C157.6,536.1 157.8,535.1 158.1,534.0C158.3,533.0 158.6,532.0 158.8,530.9C159.1,529.9 159.4,528.8 159.7,527.8C160.0,526.7 160.3,525.6 160.6,524.6C160.9,523.5 161.2,522.4 161.5,521.3C161.8,520.2 162.1,519.1 162.5,518.0C162.8,516.9 163.1,515.8 163.5,514.7C163.9,513.6 164.2,512.5 164.6,511.4C165.0,510.3 165.4,509.2 165.8,508.1C166.2,507.1 166.6,506.1 167.0,505.2C167.5,504.2 167.9,503.3 168.4,502.6C168.9,501.8 169.4,501.1 169.9,500.5C170.4,499.9 170.9,499.4 171.5,499.0C172.1,498.7 172.7,498.5 173.3,498.4C173.9,498.2 174.5,498.3 175.1,498.4C175.7,498.5 176.4,498.8 177.0,499.1C177.7,499.4 178.3,499.9 178.9,500.4C179.6,500.9 180.2,501.6 180.8,502.3C181.4,503.0 182.0,503.8 182.5,504.6C183.1,505.5 183.7,506.4 184.2,507.4C184.7,508.3 185.2,509.3 185.7,510.4C186.2,511.4 186.7,512.5 187.1,513.6C187.6,514.6 188.0,515.7 188.4,516.8C188.9,517.9 189.3,519.0 189.6,520.0C190.0,521.0 190.4,522.1 190.7,523.1C191.1,524.1 191.4,525.1 191.8,526.1C192.1,527.1 192.4,528.0 192.7,529.0C193.1,530.0 193.4,531.0 193.7,532.0C194.0,532.9 194.3,533.9 194.6,534.9C194.9,535.9 195.1,536.9 195.4,537.8C195.7,538.8 196.0,539.8 196.3,540.8C196.5,541.8 196.8,542.7 197.1,543.7C197.3,544.7 197.6,545.7 197.8,546.7C198.1,547.6 198.3,548.6 198.6,549.6C198.8,550.6 199.1,551.6 199.3,552.5C199.6,553.5 199.8,554.5 200.0,555.5C200.3,556.5 200.5,557.4 200.7,558.4C200.9,559.4 201.2,560.4 201.4,561.4C201.6,562.3 201.8,563.3 202.0,564.3C202.3,565.3 202.5,566.3 202.7,567.2C202.9,568.2 203.1,569.2 203.3,570.2C203.5,571.1 203.7,572.1 203.9,573.1C204.1,574.1 204.4,575.1 204.6,576.0C204.8,577.0 205.0,578.0 205.2,579.0C205.4,580.0 205.6,580.9 205.8,581.9C206.0,582.9 206.2,583.9 206.4,584.8C206.6,585.8 206.8,586.8 207.0,587.8C207.2,588.7 207.4,589.7 207.6,590.7C207.8,591.7 208.0,592.7 208.2,593.6C208.4,594.6 208.6,595.6 208.8,596.6C209.0,597.5 209.2,598.5 209.4,599.5C209.6,600.4 209.8,601.4 210.0,602.4C210.2,603.4 210.5,604.3 210.7,605.3C210.9,606.3 211.1,607.3 211.3,608.2C211.5,609.2 211.7,610.2 211.9,611.1C212.1,612.1 212.4,613.1 212.6,614.1C212.8,615.0 213.0,616.0 213.2,617.0C213.4,617.9 213.7,618.9 213.9,619.9C214.1,620.8 214.3,621.8 214.5,622.8C214.8,623.7 215.0,624.7 215.2,625.7C215.4,626.7 215.7,627.6 215.9,628.6C216.1,629.6 216.3,630.5 216.6,631.5C216.8,632.5 217.0,633.4 217.2,634.4C217.5,635.4 217.7,636.3 217.9,637.3C218.2,638.3 218.4,639.2 218.6,640.2C218.9,641.2 219.1,642.1 219.4,643.1C219.6,644.0 219.8,645.0 220.1,646.0C220.3,646.9 220.6,647.9 220.8,648.9C221.1,649.8 221.3,650.8 221.6,651.8C221.8,652.7 222.0,653.7 222.3,654.7C222.5,655.6 222.8,656.6 223.1,657.5C223.3,658.5 223.6,659.5 223.8,660.4C224.1,661.4 224.3,662.4 224.6,663.3C224.9,664.3 225.1,665.3 225.4,666.2C225.6,667.2 225.9,668.1 226.2,669.1C226.5,670.1 226.7,671.0 227.0,672.0C227.3,672.9 227.5,673.9 227.8,674.9C228.1,675.8 228.4,676.8 228.6,677.8C228.9,678.7 229.2,679.7 229.5,680.6C229.8,681.6 230.0,682.6 230.3,683.5C230.6,684.5 230.9,685.4 231.2,686.4C231.5,687.4 231.8,688.3 232.1,689.3C232.4,690.3 232.7,691.2 233.0,692.2C233.3,693.1 233.6,694.1 233.9,695.1C234.2,696.0 234.5,697.0 234.8,697.9C235.1,698.9 235.4,699.9 235.7,700.8C236.0,701.8 236.3,702.7 236.6,703.7C237.0,704.7 237.3,705.6 237.6,706.6C237.9,707.5 238.2,708.5 238.6,709.5C238.9,710.4 239.2,711.4 239.5,712.3C239.9,713.3 240.2,714.3 240.5,715.2C240.9,716.2 241.2,717.1 241.6,718.1C241.9,719.1 242.2,720.0 242.6,721.0C242.9,721.9 243.3,722.9 243.6,723.9C244.0,724.8 244.3,725.8 244.7,726.7C245.0,727.7 245.4,728.7 245.7,729.6C246.1,730.6 246.5,731.5 246.8,732.5C247.2,733.4 247.6,734.4 248.0,735.4C248.3,736.3 248.7,737.3 249.1,738.2C249.5,739.2 249.9,740.1 250.3,741.0C250.7,742.0 251.1,742.9 251.5,743.8C251.9,744.8 252.3,745.7 252.7,746.6C253.2,747.6 253.6,748.5 254.0,749.4C254.5,750.3 254.9,751.2 255.4,752.1C255.8,753.0 256.3,753.9 256.7,754.8C257.2,755.7 257.7,756.6 258.2,757.4C258.7,758.3 259.1,759.2 259.7,760.0C260.2,760.9 260.7,761.7 261.2,762.6C261.7,763.4 262.3,764.2 262.8,765.1C263.4,765.9 263.9,766.7 264.5,767.5C265.1,768.3 265.6,769.1 266.2,769.9C266.8,770.6 267.4,771.4 268.0,772.2C268.7,772.9 269.3,773.7 269.9,774.4C270.6,775.1 271.2,775.9 271.9,776.6C272.6,777.3 273.3,778.0 274.0,778.6C274.7,779.3 275.4,780.0 276.1,780.6C276.8,781.3 277.6,781.9 278.3,782.5C279.1,783.2 279.9,783.8 280.6,784.4C281.4,785.0 282.2,785.5 283.1,786.1C283.9,786.6 284.7,787.2 285.6,787.7C286.4,788.2 287.3,788.7 288.2,789.2C289.0,789.6 289.9,790.1 290.8,790.5C291.7,790.9 292.6,791.2 293.5,791.6C294.4,791.9 295.3,792.2 296.2,792.5C297.2,792.7 298.1,792.9 299.0,793.1C299.9,793.2 300.8,793.4 301.8,793.4C302.7,793.5 303.6,793.5 304.5,793.5C305.4,793.4 306.4,793.3 307.3,793.1C308.2,793.0 309.1,792.8 310.0,792.5C310.9,792.2 311.8,791.9 312.7,791.5C313.5,791.1 314.4,790.7 315.3,790.2C316.2,789.7 317.0,789.2 317.9,788.6C318.7,788.1 319.6,787.5 320.4,786.8C321.3,786.2 322.1,785.5 322.9,784.9C323.8,784.2 324.6,783.5 325.4,782.7C326.2,782.0 327.0,781.2 327.8,780.5C328.6,779.7 329.3,778.9 330.1,778.1C330.9,777.4 331.6,776.6 332.4,775.8C333.1,775.0 333.8,774.2 334.6,773.4C335.3,772.6 336.0,771.8 336.7,771.0C337.4,770.2 338.1,769.4 338.8,768.7C339.4,767.9 340.1,767.1 340.8,766.3C341.4,765.6 342.1,764.8 342.7,764.0C343.4,763.3 344.0,762.5 344.6,761.7C345.2,761.0 345.9,760.2 346.5,759.5C347.1,758.7 347.7,757.9 348.3,757.2C348.9,756.4 349.5,755.7 350.1,754.9C350.6,754.2 351.2,753.4 351.8,752.6C352.4,751.9 353.0,751.1 353.5,750.4C354.1,749.6 354.7,748.8 355.3,748.1C355.8,747.3 356.4,746.5 357.0,745.7C357.5,745.0 358.1,744.2 358.7,743.4C359.2,742.6 359.8,741.8 360.4,741.1C360.9,740.3 361.5,739.5 362.1,738.7C362.6,737.9 363.2,737.1 363.8,736.3C364.3,735.4 364.9,734.6 365.5,733.8C366.1,733.0 366.6,732.2 367.2,731.3C367.8,730.5 368.4,729.7 368.9,728.8C369.5,728.0 370.1,727.2 370.7,726.3C371.2,725.5 371.8,724.6 372.4,723.8C373.0,723.0 373.6,722.1 374.1,721.3C374.7,720.4 375.3,719.6 375.9,718.7C376.5,717.9 377.1,717.0 377.6,716.2C378.2,715.3 378.8,714.5 379.4,713.7C380.0,712.8 380.5,712.0 381.1,711.1C381.7,710.3 382.3,709.4 382.8,708.6C383.4,707.8 384.0,706.9 384.6,706.1C385.2,705.3 385.7,704.4 386.3,703.6C386.9,702.8 387.5,701.9 388.0,701.1C388.6,700.3 389.2,699.5 389.7,698.6C390.3,697.8 390.9,697.0 391.4,696.2C392.0,695.4 392.6,694.5 393.2,693.7C393.7,692.9 394.3,692.1 394.9,691.3C395.4,690.5 396.0,689.7 396.6,688.9C397.1,688.0 397.7,687.2 398.2,686.4C398.8,685.6 399.4,684.8 399.9,684.0C400.5,683.2 401.1,682.4 401.6,681.5C402.2,680.7 402.8,679.9 403.3,679.1C403.9,678.3 404.4,677.5 405.0,676.7C405.6,675.9 406.1,675.0 406.7,674.2C407.2,673.4 407.8,672.6 408.4,671.8C408.9,670.9 409.5,670.1 410.1,669.3C410.6,668.5 411.2,667.7 411.8,666.9C412.3,666.1 412.9,665.2 413.5,664.4C414.1,663.6 414.7,662.8 415.3,662.0C416.0,661.3 416.6,660.5 417.2,659.7C417.9,658.9 418.5,658.2 419.2,657.4C419.9,656.7 420.6,655.9 421.3,655.2C422.0,654.5 422.7,653.8 423.4,653.1C424.2,652.4 425.0,651.7 425.8,651.0C426.6,650.4 427.4,649.7 428.2,649.1C429.1,648.5 429.9,647.9 430.8,647.3C431.7,646.7 432.6,646.2 433.5,645.6C434.4,645.1 435.3,644.6 436.2,644.2C437.1,643.7 438.1,643.3 439.0,642.9C439.9,642.5 440.9,642.2 441.8,641.9C442.8,641.6 443.7,641.4 444.7,641.2C445.6,641.0 446.6,640.8 447.5,640.7C448.5,640.6 449.4,640.5 450.3,640.5C451.3,640.5 452.2,640.6 453.1,640.7C454.0,640.8 454.9,641.0 455.8,641.2C456.7,641.5 457.5,641.8 458.4,642.1C459.2,642.5 460.1,642.9 460.9,643.4C461.8,643.8 462.6,644.3 463.4,644.9C464.2,645.4 465.0,646.0 465.8,646.7C466.5,647.3 467.3,648.0 468.1,648.6C468.8,649.3 469.6,650.1 470.3,650.8C471.0,651.5 471.8,652.3 472.5,653.1C473.2,653.9 473.9,654.7 474.6,655.5C475.3,656.3 475.9,657.1 476.6,657.9C477.3,658.7 477.9,659.6 478.6,660.4C479.2,661.2 479.9,662.0 480.5,662.9C481.1,663.7 481.7,664.5 482.4,665.3C483.0,666.2 483.6,667.0 484.2,667.8C484.8,668.6 485.4,669.5 485.9,670.3C486.5,671.1 487.1,672.0 487.7,672.8C488.2,673.6 488.8,674.5 489.3,675.3C489.9,676.1 490.4,677.0 491.0,677.8C491.5,678.6 492.0,679.5 492.6,680.3C493.1,681.1 493.6,682.0 494.1,682.8C494.7,683.7 495.2,684.5 495.7,685.3C496.2,686.2 496.7,687.0 497.2,687.9C497.7,688.7 498.2,689.5 498.7,690.4C499.2,691.2 499.7,692.1 500.2,692.9C500.7,693.8 501.2,694.6 501.6,695.5C502.1,696.3 502.6,697.2 503.1,698.0C503.6,698.9 504.1,699.7 504.5,700.6C505.0,701.4 505.5,702.3 506.0,703.2C506.5,704.0 507.0,704.9 507.4,705.7C507.9,706.6 508.4,707.5 508.9,708.3C509.4,709.2 509.8,710.0 510.3,710.9C510.8,711.8 511.3,712.6 511.8,713.5C512.3,714.4 512.8,715.2 513.3,716.1C513.8,717.0 514.2,717.9 514.7,718.7C515.2,719.6 515.7,720.5 516.3,721.4C516.8,722.2 517.3,723.1 517.8,724.0C518.3,724.9 518.8,725.7 519.3,726.6C519.8,727.5 520.4,728.4 520.9,729.2C521.4,730.1 522.0,731.0 522.5,731.9C523.0,732.7 523.6,733.6 524.1,734.5C524.7,735.4 525.2,736.2 525.8,737.1C526.3,737.9 526.9,738.8 527.5,739.7C528.0,740.5 528.6,741.4 529.2,742.2C529.7,743.1 530.3,743.9 530.9,744.8C531.5,745.6 532.1,746.4 532.7,747.3C533.3,748.1 533.9,748.9 534.5,749.8C535.1,750.6 535.7,751.4 536.3,752.2C537.0,753.0 537.6,753.8 538.2,754.6C538.8,755.4 539.5,756.2 540.1,757.0C540.8,757.7 541.4,758.5 542.1,759.3C542.8,760.0 543.4,760.8 544.1,761.5C544.8,762.3 545.4,763.0 546.1,763.7C546.8,764.5 547.5,765.2 548.2,765.9C548.9,766.6 549.6,767.3 550.4,768.0C551.1,768.7 551.8,769.3 552.5,770.0C553.3,770.7 554.0,771.3 554.8,772.0C555.5,772.6 556.3,773.2 557.0,773.9C557.8,774.5 558.6,775.1 559.4,775.7C560.1,776.3 560.9,776.8 561.7,777.4C562.5,778.0 563.4,778.5 564.2,779.0C565.0,779.6 565.8,780.1 566.7,780.6C567.5,781.1 568.3,781.6 569.2,782.1C570.0,782.5 570.9,783.0 571.8,783.5C572.7,783.9 573.5,784.3 574.4,784.8C575.3,785.2 576.2,785.6 577.1,786.0C578.0,786.4 578.9,786.8 579.8,787.1C580.7,787.5 581.6,787.8 582.6,788.2C583.5,788.5 584.4,788.8 585.4,789.2C586.3,789.5 587.2,789.8 588.2,790.1C589.1,790.3 590.1,790.6 591.1,790.9C592.0,791.1 593.0,791.4 593.9,791.6C594.9,791.8 595.9,792.1 596.9,792.3C597.8,792.5 598.8,792.7 599.8,792.9C600.8,793.0 601.8,793.2 602.8,793.4C603.8,793.5 604.7,793.7 605.7,793.8C606.7,793.9 607.7,794.0 608.7,794.1C609.7,794.3 610.7,794.3 611.7,794.4C612.8,794.5 613.8,794.6 614.8,794.6C615.8,794.7 616.8,794.7 617.8,794.8C618.8,794.8 619.8,794.8 620.8,794.8C621.8,794.8 622.9,794.8 623.9,794.8C624.9,794.8 625.9,794.8 626.9,794.8C627.9,794.7 628.9,794.7 630.0,794.6C631.0,794.6 632.0,794.5 633.0,794.4C634.0,794.3 635.5,794.2 636.0,794.1" fill="none" stroke="#00ff00" stroke-width="3.3" stroke-linejoin="round" stroke-linecap="butt"/>
<path d="M113.0,793.8C113.5,793.8 115.3,793.7 116.4,793.6C117.4,793.4 118.5,793.2 119.4,793.0C120.4,792.7 121.4,792.4 122.3,792.0C123.2,791.6 124.0,791.2 124.8,790.8C125.7,790.3 126.4,789.8 127.2,789.2C127.9,788.7 128.7,788.1 129.4,787.5C130.0,786.8 130.7,786.2 131.4,785.5C132.0,784.8 132.6,784.0 133.2,783.3C133.8,782.5 134.4,781.8 135.0,781.0C135.5,780.2 136.1,779.3 136.6,778.5C137.2,777.6 137.7,776.8 138.3,775.9C138.8,775.0 139.3,774.2 139.8,773.3C140.4,772.4 140.9,771.5 141.4,770.6C141.9,769.7 142.5,768.8 143.0,767.9C143.6,767.0 144.1,766.1 144.7,765.2C145.2,764.3 145.8,763.4 146.4,762.5C147.0,761.7 147.6,760.8 148.2,760.0C148.9,759.1 149.5,758.3 150.2,757.5C150.8,756.7 151.5,755.9 152.2,755.1C152.9,754.3 153.7,753.6 154.4,752.9C155.1,752.1 155.9,751.4 156.7,750.7C157.4,750.0 158.2,749.4 159.0,748.7C159.8,748.1 160.6,747.5 161.4,746.9C162.2,746.3 163.1,745.7 163.9,745.2C164.7,744.7 165.6,744.2 166.5,743.7C167.3,743.2 168.2,742.8 169.0,742.4C169.9,742.0 170.8,741.6 171.7,741.2C172.6,740.9 173.5,740.6 174.4,740.3C175.3,740.0 176.2,739.8 177.1,739.6C178.0,739.4 178.9,739.2 179.8,739.1C180.7,739.0 181.6,738.9 182.5,738.9C183.4,738.8 184.3,738.8 185.2,738.9C186.1,738.9 187.0,739.0 187.9,739.2C188.8,739.3 189.7,739.5 190.6,739.7C191.5,739.9 192.4,740.2 193.3,740.5C194.2,740.8 195.1,741.1 196.0,741.5C196.8,741.8 197.7,742.2 198.6,742.7C199.5,743.1 200.4,743.6 201.2,744.0C202.1,744.5 203.0,745.1 203.8,745.6C204.7,746.1 205.6,746.7 206.4,747.3C207.3,747.9 208.1,748.5 209.0,749.1C209.8,749.8 210.7,750.4 211.5,751.1C212.4,751.7 213.2,752.4 214.0,753.1C214.9,753.8 215.7,754.5 216.5,755.2C217.4,755.9 218.2,756.6 219.0,757.3C219.8,758.1 220.6,758.8 221.5,759.5C222.3,760.2 223.1,761.0 223.9,761.7C224.7,762.4 225.5,763.2 226.3,763.9C227.1,764.6 227.9,765.3 228.6,766.1C229.4,766.8 230.2,767.5 231.0,768.2C231.8,768.9 232.5,769.6 233.3,770.2C234.1,770.9 234.8,771.6 235.6,772.2C236.3,772.9 237.1,773.5 237.9,774.1C238.6,774.8 239.4,775.4 240.2,776.0C240.9,776.6 241.7,777.2 242.5,777.8C243.2,778.4 244.0,779.0 244.8,779.6C245.6,780.1 246.4,780.7 247.2,781.3C248.0,781.9 248.8,782.4 249.6,783.0C250.5,783.5 251.3,784.1 252.1,784.6C253.0,785.2 253.9,785.7 254.8,786.2C255.6,786.8 256.5,787.3 257.4,787.8C258.4,788.3 259.3,788.8 260.2,789.3C261.1,789.8 262.1,790.2 263.0,790.6C264.0,791.1 264.9,791.5 265.9,791.8C266.8,792.1 267.8,792.5 268.7,792.7C269.7,793.0 270.7,793.2 271.6,793.4C272.6,793.5 273.5,793.7 274.5,793.7C275.4,793.8 276.4,793.8 277.3,793.8C278.3,793.8 279.2,793.7 280.1,793.6C281.1,793.5 282.0,793.4 282.9,793.2C283.9,793.0 284.8,792.8 285.7,792.6C286.6,792.3 287.5,792.0 288.4,791.7C289.3,791.4 290.2,791.0 291.1,790.6C292.0,790.2 292.9,789.8 293.8,789.4C294.7,788.9 295.5,788.5 296.4,788.0C297.3,787.5 298.1,786.9 299.0,786.4C299.8,785.8 300.6,785.3 301.5,784.7C302.3,784.1 303.1,783.5 303.9,782.8C304.7,782.2 305.5,781.6 306.3,780.9C307.1,780.2 307.8,779.5 308.6,778.9C309.4,778.2 310.1,777.5 310.8,776.7C311.6,776.0 312.3,775.3 313.0,774.6C313.7,773.8 314.4,773.1 315.1,772.3C315.8,771.6 316.4,770.8 317.1,770.1C317.7,769.3 318.4,768.5 319.0,767.7C319.7,766.9 320.3,766.2 320.9,765.4C321.5,764.6 322.1,763.8 322.7,762.9C323.3,762.1 323.9,761.3 324.4,760.5C325.0,759.7 325.6,758.8 326.1,758.0C326.7,757.2 327.2,756.3 327.8,755.5C328.3,754.6 328.8,753.8 329.4,752.9C329.9,752.1 330.4,751.2 330.9,750.4C331.4,749.5 331.9,748.6 332.4,747.8C332.9,746.9 333.4,746.0 333.9,745.1C334.4,744.3 334.8,743.4 335.3,742.5C335.8,741.6 336.3,740.7 336.7,739.8C337.2,738.9 337.6,738.0 338.1,737.1C338.6,736.3 339.0,735.4 339.5,734.5C339.9,733.6 340.4,732.7 340.8,731.8C341.3,730.9 341.7,730.0 342.1,729.1C342.6,728.2 343.0,727.2 343.4,726.3C343.9,725.4 344.3,724.5 344.7,723.6C345.2,722.7 345.6,721.8 346.0,720.9C346.4,720.0 346.9,719.1 347.3,718.1C347.7,717.2 348.1,716.3 348.5,715.4C348.9,714.5 349.3,713.6 349.8,712.7C350.2,711.7 350.6,710.8 351.0,709.9C351.4,709.0 351.8,708.1 352.2,707.1C352.6,706.2 353.0,705.3 353.4,704.4C353.8,703.4 354.2,702.5 354.6,701.6C355.0,700.7 355.3,699.7 355.7,698.8C356.1,697.9 356.5,697.0 356.9,696.0C357.3,695.1 357.7,694.2 358.0,693.2C358.4,692.3 358.8,691.4 359.2,690.4C359.6,689.5 359.9,688.6 360.3,687.7C360.7,686.7 361.1,685.8 361.4,684.9C361.8,683.9 362.2,683.0 362.6,682.1C362.9,681.1 363.3,680.2 363.7,679.3C364.0,678.3 364.4,677.4 364.8,676.5C365.1,675.5 365.5,674.6 365.9,673.6C366.2,672.7 366.6,671.8 367.0,670.8C367.3,669.9 367.7,669.0 368.0,668.0C368.4,667.1 368.8,666.2 369.1,665.2C369.5,664.3 369.8,663.4 370.2,662.4C370.5,661.5 370.9,660.6 371.3,659.6C371.6,658.7 372.0,657.7 372.3,656.8C372.7,655.9 373.0,654.9 373.4,654.0C373.7,653.1 374.1,652.1 374.5,651.2C374.8,650.3 375.2,649.3 375.5,648.4C375.9,647.5 376.2,646.5 376.6,645.6C376.9,644.7 377.3,643.7 377.6,642.8C378.0,641.9 378.3,640.9 378.7,640.0C379.1,639.1 379.4,638.2 379.8,637.2C380.1,636.3 380.5,635.4 380.8,634.4C381.2,633.5 381.5,632.6 381.9,631.7C382.2,630.7 382.6,629.8 382.9,628.9C383.3,627.9 383.7,627.0 384.0,626.1C384.4,625.2 384.7,624.2 385.1,623.3C385.4,622.4 385.8,621.5 386.2,620.5C386.5,619.6 386.9,618.7 387.2,617.8C387.6,616.9 387.9,615.9 388.3,615.0C388.7,614.1 389.0,613.2 389.4,612.2C389.7,611.3 390.1,610.4 390.5,609.5C390.8,608.5 391.2,607.6 391.5,606.7C391.9,605.7 392.3,604.8 392.6,603.9C393.0,603.0 393.4,602.0 393.7,601.1C394.1,600.2 394.4,599.2 394.8,598.3C395.2,597.4 395.5,596.4 395.9,595.5C396.3,594.6 396.6,593.6 397.0,592.7C397.4,591.8 397.7,590.8 398.1,589.9C398.5,589.0 398.8,588.0 399.2,587.1C399.6,586.1 400.0,585.2 400.3,584.3C400.7,583.3 401.1,582.4 401.4,581.4C401.8,580.5 402.2,579.5 402.6,578.6C403.0,577.6 403.4,576.7 403.8,575.7C404.2,574.8 404.6,573.8 405.0,572.9C405.4,571.9 405.9,571.0 406.3,570.0C406.8,569.1 407.3,568.1 407.8,567.2C408.3,566.2 408.8,565.3 409.4,564.3C409.9,563.4 410.5,562.4 411.1,561.5C411.7,560.6 412.3,559.6 413.0,558.7C413.6,557.8 414.3,556.8 415.0,555.9C415.7,555.1 416.5,554.2 417.2,553.3C417.9,552.5 418.7,551.7 419.5,550.9C420.2,550.2 421.0,549.4 421.8,548.8C422.6,548.1 423.4,547.5 424.2,546.9C425.0,546.4 425.8,545.9 426.6,545.5C427.4,545.1 428.2,544.7 429.0,544.4C429.8,544.2 430.6,544.0 431.4,543.9C432.2,543.7 432.9,543.7 433.7,543.7C434.5,543.7 435.3,543.7 436.1,543.9C436.9,544.0 437.6,544.2 438.4,544.4C439.2,544.7 439.9,545.0 440.7,545.3C441.5,545.7 442.2,546.1 443.0,546.5C443.7,547.0 444.5,547.5 445.2,548.0C446.0,548.5 446.7,549.1 447.4,549.7C448.2,550.3 448.9,551.0 449.6,551.7C450.3,552.3 451.0,553.1 451.7,553.8C452.4,554.6 453.1,555.3 453.8,556.1C454.5,556.9 455.2,557.7 455.8,558.6C456.5,559.4 457.2,560.3 457.8,561.2C458.5,562.0 459.1,562.9 459.7,563.8C460.4,564.7 461.0,565.6 461.6,566.6C462.2,567.5 462.8,568.4 463.4,569.3C464.0,570.2 464.6,571.2 465.2,572.1C465.8,573.0 466.3,573.9 466.9,574.9C467.4,575.8 468.0,576.7 468.5,577.6C469.0,578.5 469.6,579.5 470.1,580.4C470.6,581.3 471.1,582.2 471.6,583.1C472.1,584.0 472.6,584.9 473.1,585.9C473.6,586.8 474.0,587.7 474.5,588.6C475.0,589.5 475.4,590.4 475.9,591.3C476.3,592.2 476.8,593.1 477.2,594.0C477.7,594.9 478.1,595.9 478.5,596.8C479.0,597.7 479.4,598.6 479.8,599.5C480.2,600.4 480.7,601.3 481.1,602.2C481.5,603.1 481.9,604.0 482.3,604.9C482.7,605.8 483.1,606.7 483.5,607.6C483.9,608.5 484.3,609.4 484.7,610.3C485.1,611.2 485.5,612.1 485.8,613.0C486.2,613.9 486.6,614.8 487.0,615.7C487.4,616.7 487.8,617.6 488.1,618.5C488.5,619.4 488.9,620.3 489.3,621.2C489.7,622.1 490.1,623.0 490.4,623.9C490.8,624.8 491.2,625.7 491.6,626.6C492.0,627.5 492.3,628.4 492.7,629.4C493.1,630.3 493.5,631.2 493.9,632.1C494.3,633.0 494.6,633.9 495.0,634.8C495.4,635.7 495.8,636.6 496.2,637.6C496.6,638.5 497.0,639.4 497.4,640.3C497.7,641.2 498.1,642.1 498.5,643.0C498.9,643.9 499.3,644.9 499.7,645.8C500.1,646.7 500.5,647.6 500.9,648.5C501.3,649.4 501.7,650.3 502.1,651.2C502.5,652.2 502.9,653.1 503.3,654.0C503.7,654.9 504.1,655.8 504.5,656.7C504.9,657.6 505.3,658.6 505.7,659.5C506.1,660.4 506.5,661.3 506.9,662.2C507.3,663.1 507.7,664.0 508.1,664.9C508.5,665.9 508.9,666.8 509.3,667.7C509.8,668.6 510.2,669.5 510.6,670.4C511.0,671.3 511.4,672.2 511.8,673.1C512.3,674.0 512.7,675.0 513.1,675.9C513.5,676.8 514.0,677.7 514.4,678.6C514.8,679.5 515.3,680.4 515.7,681.3C516.1,682.2 516.6,683.1 517.0,684.0C517.4,684.9 517.9,685.8 518.3,686.7C518.8,687.6 519.2,688.5 519.7,689.4C520.1,690.3 520.6,691.2 521.0,692.1C521.5,693.0 521.9,693.9 522.4,694.8C522.8,695.7 523.3,696.6 523.8,697.5C524.2,698.4 524.7,699.3 525.2,700.2C525.6,701.1 526.1,702.0 526.6,702.9C527.1,703.7 527.5,704.6 528.0,705.5C528.5,706.4 529.0,707.3 529.5,708.2C530.0,709.1 530.4,710.0 530.9,710.8C531.4,711.7 531.9,712.6 532.4,713.5C532.9,714.4 533.4,715.2 533.9,716.1C534.4,717.0 535.0,717.9 535.5,718.7C536.0,719.6 536.5,720.5 537.0,721.3C537.5,722.2 538.1,723.1 538.6,724.0C539.1,724.8 539.6,725.7 540.2,726.5C540.7,727.4 541.3,728.3 541.8,729.1C542.3,730.0 542.9,730.8 543.4,731.7C544.0,732.6 544.5,733.4 545.1,734.3C545.7,735.1 546.2,736.0 546.8,736.8C547.4,737.7 547.9,738.5 548.5,739.3C549.1,740.2 549.7,741.0 550.3,741.8C550.8,742.7 551.4,743.5 552.0,744.3C552.6,745.1 553.2,746.0 553.8,746.8C554.4,747.6 555.0,748.4 555.7,749.2C556.3,750.0 556.9,750.8 557.5,751.6C558.1,752.4 558.8,753.2 559.4,753.9C560.1,754.7 560.7,755.5 561.3,756.2C562.0,757.0 562.6,757.8 563.3,758.5C564.0,759.3 564.6,760.0 565.3,760.7C566.0,761.5 566.6,762.2 567.3,762.9C568.0,763.6 568.7,764.4 569.4,765.1C570.1,765.8 570.8,766.4 571.5,767.1C572.2,767.8 572.9,768.5 573.7,769.2C574.4,769.8 575.1,770.5 575.8,771.1C576.6,771.8 577.3,772.4 578.1,773.0C578.8,773.6 579.6,774.3 580.3,774.9C581.1,775.5 581.9,776.0 582.7,776.6C583.4,777.2 584.2,777.8 585.0,778.3C585.8,778.9 586.6,779.4 587.4,779.9C588.2,780.5 589.0,781.0 589.9,781.5C590.7,782.0 591.5,782.5 592.4,783.0C593.2,783.4 594.0,783.9 594.9,784.4C595.8,784.8 596.6,785.2 597.5,785.7C598.4,786.1 599.2,786.5 600.1,786.9C601.0,787.3 601.9,787.7 602.8,788.0C603.7,788.4 604.7,788.7 605.6,789.1C606.5,789.4 607.4,789.7 608.4,790.0C609.3,790.3 610.3,790.6 611.2,790.8C612.2,791.1 613.2,791.3 614.1,791.6C615.1,791.8 616.1,792.0 617.1,792.2C618.1,792.4 619.1,792.6 620.1,792.7C621.1,792.9 622.2,793.0 623.2,793.2C624.3,793.3 625.3,793.4 626.4,793.5C627.4,793.5 628.5,793.6 629.6,793.6C630.6,793.7 631.7,793.7 632.8,793.7C633.9,793.7 635.6,793.7 636.1,793.7" fill="none" stroke="#ff00ff" stroke-width="3.3" stroke-linejoin="round" stroke-linecap="butt"/>
</g>
<clipPath id="c3"><rect x="755.30" y="441.00" width="522.90" height="365.00"/></clipPath>
<g clip-path="url(#c3)">
<path d="M755.1,794.3C755.6,794.2 757.0,793.9 758.0,793.6C758.9,793.4 759.9,793.1 760.8,792.7C761.7,792.4 762.6,792.0 763.5,791.6C764.3,791.2 765.2,790.8 766.1,790.3C766.9,789.9 767.7,789.4 768.6,788.9C769.4,788.4 770.2,787.9 771.0,787.3C771.8,786.8 772.6,786.2 773.3,785.6C774.1,785.0 774.9,784.4 775.6,783.7C776.4,783.1 777.1,782.5 777.8,781.8C778.6,781.1 779.3,780.4 780.0,779.7C780.7,779.0 781.5,778.3 782.2,777.6C782.9,776.9 783.6,776.1 784.3,775.4C785.0,774.7 785.7,773.9 786.4,773.1C787.0,772.4 787.7,771.6 788.4,770.8C789.1,770.1 789.8,769.3 790.5,768.5C791.2,767.7 791.9,766.9 792.5,766.1C793.2,765.4 793.9,764.6 794.6,763.8C795.3,763.0 796.0,762.2 796.7,761.4C797.4,760.7 798.1,759.9 798.8,759.1C799.5,758.3 800.2,757.6 801.0,756.8C801.7,756.1 802.4,755.3 803.2,754.6C803.9,753.8 804.6,753.1 805.4,752.4C806.1,751.7 806.9,751.0 807.7,750.3C808.5,749.6 809.2,748.9 810.0,748.3C810.8,747.6 811.6,747.0 812.4,746.3C813.2,745.7 814.0,745.1 814.9,744.5C815.7,743.9 816.5,743.3 817.3,742.7C818.2,742.1 819.0,741.6 819.9,741.0C820.7,740.5 821.6,740.0 822.4,739.4C823.3,738.9 824.2,738.5 825.0,738.0C825.9,737.5 826.8,737.1 827.6,736.6C828.5,736.2 829.4,735.8 830.3,735.4C831.2,735.0 832.1,734.6 833.0,734.3C833.9,733.9 834.8,733.6 835.7,733.3C836.6,733.0 837.5,732.7 838.4,732.4C839.3,732.2 840.2,731.9 841.1,731.7C842.0,731.5 842.9,731.3 843.9,731.1C844.8,730.9 845.7,730.8 846.6,730.7C847.5,730.5 848.4,730.4 849.4,730.4C850.3,730.3 851.2,730.3 852.1,730.2C853.0,730.2 854.0,730.2 854.9,730.2C855.8,730.3 856.7,730.3 857.6,730.4C858.6,730.5 859.5,730.6 860.4,730.8C861.3,730.9 862.2,731.1 863.1,731.3C864.1,731.5 865.0,731.7 865.9,731.9C866.8,732.2 867.7,732.4 868.6,732.7C869.5,733.0 870.4,733.3 871.3,733.6C872.3,734.0 873.2,734.3 874.1,734.7C875.0,735.0 875.9,735.4 876.8,735.8C877.7,736.2 878.6,736.6 879.5,737.0C880.4,737.5 881.3,737.9 882.2,738.4C883.1,738.8 884.1,739.3 885.0,739.8C885.9,740.3 886.8,740.8 887.7,741.3C888.6,741.8 889.5,742.3 890.4,742.8C891.3,743.3 892.2,743.9 893.1,744.4C894.0,744.9 894.9,745.5 895.8,746.0C896.7,746.6 897.6,747.1 898.5,747.7C899.4,748.3 900.3,748.8 901.2,749.4C902.1,749.9 903.1,750.5 904.0,751.1C904.9,751.6 905.8,752.2 906.7,752.8C907.6,753.3 908.5,753.9 909.4,754.5C910.3,755.0 911.2,755.6 912.1,756.2C913.0,756.7 913.9,757.3 914.8,757.8C915.8,758.3 916.7,758.9 917.6,759.4C918.5,759.9 919.4,760.5 920.3,761.0C921.2,761.5 922.1,762.0 923.0,762.5C924.0,763.0 924.9,763.5 925.8,764.0C926.7,764.5 927.6,764.9 928.5,765.4C929.4,765.9 930.4,766.3 931.3,766.8C932.2,767.2 933.1,767.7 934.0,768.1C935.0,768.5 935.9,769.0 936.8,769.4C937.7,769.8 938.6,770.2 939.6,770.6C940.5,771.0 941.4,771.4 942.3,771.8C943.3,772.2 944.2,772.6 945.1,773.0C946.0,773.4 947.0,773.7 947.9,774.1C948.8,774.5 949.8,774.8 950.7,775.2C951.6,775.5 952.5,775.9 953.5,776.2C954.4,776.5 955.3,776.9 956.3,777.2C957.2,777.5 958.2,777.8 959.1,778.2C960.0,778.5 961.0,778.8 961.9,779.1C962.8,779.4 963.8,779.7 964.7,780.0C965.7,780.3 966.6,780.5 967.6,780.8C968.5,781.1 969.4,781.4 970.4,781.6C971.3,781.9 972.3,782.2 973.2,782.4C974.2,782.7 975.1,782.9 976.1,783.2C977.0,783.4 978.0,783.7 978.9,783.9C979.9,784.1 980.8,784.4 981.8,784.6C982.8,784.8 983.7,785.0 984.7,785.3C985.6,785.5 986.6,785.7 987.6,785.9C988.5,786.1 989.5,786.3 990.4,786.5C991.4,786.7 992.4,786.9 993.3,787.1C994.3,787.3 995.3,787.5 996.2,787.6C997.2,787.8 998.2,788.0 999.2,788.2C1000.1,788.3 1001.1,788.5 1002.1,788.7C1003.1,788.8 1004.0,789.0 1005.0,789.2C1006.0,789.3 1007.0,789.5 1007.9,789.6C1008.9,789.8 1009.9,789.9 1010.9,790.0C1011.9,790.2 1012.8,790.3 1013.8,790.5C1014.8,790.6 1015.8,790.7 1016.8,790.8C1017.8,791.0 1018.8,791.1 1019.7,791.2C1020.7,791.3 1021.7,791.4 1022.7,791.5C1023.7,791.6 1024.7,791.7 1025.7,791.8C1026.7,791.9 1027.7,792.0 1028.6,792.1C1029.6,792.2 1030.6,792.3 1031.6,792.4C1032.6,792.5 1033.6,792.5 1034.6,792.6C1035.6,792.7 1036.6,792.7 1037.6,792.8C1038.6,792.9 1039.6,792.9 1040.6,793.0C1041.6,793.1 1042.6,793.1 1043.6,793.2C1044.6,793.2 1045.6,793.3 1046.6,793.3C1047.6,793.4 1048.6,793.4 1049.6,793.4C1050.6,793.5 1051.6,793.5 1052.6,793.5C1053.6,793.6 1054.6,793.6 1055.6,793.6C1056.6,793.6 1057.6,793.6 1058.6,793.7C1059.6,793.7 1060.6,793.7 1061.6,793.7C1062.6,793.7 1063.6,793.7 1064.6,793.7C1065.6,793.7 1066.6,793.7 1067.6,793.7C1068.7,793.7 1069.7,793.7 1070.7,793.6C1071.7,793.6 1072.7,793.6 1073.7,793.6C1074.7,793.6 1075.7,793.5 1076.7,793.5C1077.7,793.5 1078.7,793.4 1079.7,793.4C1080.7,793.4 1081.7,793.3 1082.7,793.3C1083.7,793.3 1084.7,793.2 1085.8,793.2C1086.8,793.1 1087.8,793.0 1088.8,793.0C1089.8,792.9 1090.8,792.9 1091.8,792.8C1092.8,792.7 1093.8,792.7 1094.8,792.6C1095.8,792.5 1096.8,792.5 1097.8,792.4C1098.8,792.3 1099.8,792.2 1100.8,792.1C1101.8,792.1 1102.8,792.0 1103.8,791.9C1104.8,791.8 1105.8,791.7 1106.8,791.6C1107.9,791.5 1108.9,791.4 1109.9,791.3C1110.9,791.2 1111.9,791.1 1112.9,791.0C1113.9,790.9 1114.9,790.8 1115.9,790.7C1116.9,790.5 1117.9,790.4 1118.9,790.3C1119.9,790.2 1120.9,790.0 1121.9,789.9C1122.9,789.8 1123.9,789.7 1124.8,789.5C1125.8,789.4 1126.8,789.3 1127.8,789.1C1128.8,789.0 1129.8,788.8 1130.8,788.7C1131.8,788.5 1132.8,788.4 1133.8,788.2C1134.8,788.1 1135.8,787.9 1136.8,787.8C1137.8,787.6 1138.8,787.5 1139.7,787.3C1140.7,787.1 1141.7,787.0 1142.7,786.8C1143.7,786.6 1144.7,786.5 1145.7,786.3C1146.7,786.1 1147.6,785.9 1148.6,785.7C1149.6,785.6 1150.6,785.4 1151.6,785.2C1152.6,785.0 1153.5,784.8 1154.5,784.7C1155.5,784.5 1156.5,784.3 1157.5,784.1C1158.4,783.9 1159.4,783.7 1160.4,783.5C1161.4,783.3 1162.4,783.1 1163.4,782.9C1164.3,782.7 1165.3,782.6 1166.3,782.4C1167.3,782.2 1168.2,782.0 1169.2,781.8C1170.2,781.6 1171.2,781.4 1172.2,781.2C1173.1,781.0 1174.1,780.8 1175.1,780.6C1176.1,780.4 1177.0,780.2 1178.0,780.0C1179.0,779.8 1180.0,779.6 1181.0,779.4C1181.9,779.2 1182.9,779.0 1183.9,778.8C1184.9,778.6 1185.8,778.4 1186.8,778.2C1187.8,778.0 1188.8,777.8 1189.7,777.6C1190.7,777.4 1191.7,777.2 1192.7,777.0C1193.6,776.8 1194.6,776.6 1195.6,776.4C1196.6,776.2 1197.6,776.0 1198.5,775.8C1199.5,775.6 1200.5,775.4 1201.5,775.2C1202.4,775.0 1203.4,774.8 1204.4,774.6C1205.4,774.5 1206.4,774.3 1207.3,774.1C1208.3,773.9 1209.3,773.7 1210.3,773.5C1211.3,773.3 1212.2,773.2 1213.2,773.0C1214.2,772.8 1215.2,772.6 1216.2,772.5C1217.1,772.3 1218.1,772.1 1219.1,772.0C1220.1,771.8 1221.1,771.6 1222.0,771.5C1223.0,771.3 1224.0,771.1 1225.0,771.0C1226.0,770.8 1227.0,770.7 1228.0,770.5C1228.9,770.4 1229.9,770.2 1230.9,770.1C1231.9,769.9 1232.9,769.8 1233.9,769.7C1234.9,769.5 1235.9,769.4 1236.8,769.3C1237.8,769.1 1238.8,769.0 1239.8,768.9C1240.8,768.8 1241.8,768.6 1242.8,768.5C1243.8,768.4 1244.8,768.3 1245.8,768.2C1246.8,768.1 1247.8,768.0 1248.8,767.9C1249.8,767.8 1250.8,767.7 1251.8,767.6C1252.8,767.5 1253.8,767.4 1254.8,767.4C1255.8,767.3 1256.8,767.2 1257.8,767.1C1258.8,767.1 1259.8,767.0 1260.8,767.0C1261.8,766.9 1262.8,766.8 1263.8,766.8C1264.8,766.7 1265.8,766.7 1266.8,766.7C1267.9,766.6 1268.9,766.6 1269.9,766.6C1270.9,766.6 1271.9,766.5 1272.9,766.5C1273.9,766.5 1275.0,766.5 1276.0,766.5C1277.0,766.5 1278.5,766.5 1279.0,766.5" fill="none" stroke="#000000" stroke-width="3.3" stroke-linejoin="round" stroke-linecap="butt"/>
<path d="M755.0,794.5C755.5,794.3 757.0,793.7 757.9,793.2C758.9,792.8 759.8,792.3 760.7,791.9C761.6,791.4 762.5,790.9 763.4,790.4C764.2,789.9 765.1,789.4 765.9,788.9C766.7,788.3 767.5,787.8 768.3,787.2C769.1,786.6 769.9,786.0 770.6,785.4C771.4,784.8 772.1,784.2 772.9,783.6C773.6,782.9 774.3,782.3 775.0,781.6C775.7,781.0 776.3,780.3 777.0,779.6C777.7,778.9 778.3,778.2 778.9,777.5C779.6,776.8 780.2,776.0 780.8,775.3C781.4,774.6 782.0,773.8 782.6,773.0C783.2,772.3 783.7,771.5 784.3,770.7C784.9,769.9 785.4,769.1 786.0,768.3C786.5,767.5 787.1,766.7 787.6,765.9C788.1,765.1 788.6,764.2 789.1,763.4C789.7,762.6 790.2,761.7 790.7,760.9C791.2,760.0 791.6,759.1 792.1,758.3C792.6,757.4 793.1,756.5 793.6,755.6C794.1,754.8 794.5,753.9 795.0,753.0C795.5,752.1 795.9,751.2 796.4,750.3C796.9,749.4 797.3,748.5 797.8,747.6C798.2,746.7 798.7,745.7 799.2,744.8C799.6,743.9 800.1,743.0 800.5,742.1C801.0,741.2 801.5,740.2 801.9,739.3C802.4,738.4 802.8,737.5 803.3,736.5C803.8,735.6 804.2,734.7 804.7,733.7C805.2,732.8 805.7,731.9 806.1,731.0C806.6,730.0 807.1,729.1 807.6,728.2C808.1,727.3 808.6,726.4 809.1,725.4C809.6,724.5 810.1,723.6 810.6,722.7C811.1,721.8 811.6,720.9 812.2,720.0C812.7,719.1 813.2,718.2 813.8,717.3C814.3,716.4 814.9,715.5 815.4,714.7C816.0,713.8 816.5,712.9 817.1,712.1C817.7,711.2 818.3,710.4 818.9,709.5C819.5,708.7 820.1,707.9 820.7,707.0C821.4,706.2 822.0,705.4 822.6,704.6C823.3,703.8 823.9,703.0 824.6,702.3C825.3,701.5 826.0,700.7 826.7,700.0C827.4,699.2 828.1,698.5 828.8,697.8C829.6,697.1 830.3,696.4 831.1,695.7C831.8,695.0 832.6,694.3 833.4,693.7C834.1,693.0 834.9,692.4 835.7,691.8C836.5,691.2 837.4,690.7 838.2,690.1C839.0,689.6 839.8,689.1 840.7,688.6C841.5,688.1 842.4,687.6 843.2,687.2C844.1,686.8 845.0,686.4 845.9,686.1C846.7,685.7 847.6,685.4 848.5,685.2C849.4,684.9 850.3,684.7 851.2,684.5C852.1,684.3 853.0,684.2 853.9,684.1C854.8,684.0 855.7,683.9 856.7,683.9C857.6,683.9 858.5,683.9 859.4,684.0C860.3,684.1 861.3,684.2 862.2,684.3C863.1,684.5 864.1,684.7 865.0,684.9C865.9,685.1 866.8,685.3 867.8,685.6C868.7,685.9 869.6,686.2 870.5,686.6C871.4,686.9 872.4,687.3 873.3,687.7C874.2,688.1 875.1,688.5 876.0,688.9C876.9,689.4 877.8,689.9 878.7,690.4C879.6,690.8 880.4,691.4 881.3,691.9C882.2,692.4 883.0,693.0 883.9,693.5C884.8,694.1 885.6,694.7 886.5,695.3C887.3,695.9 888.1,696.5 889.0,697.1C889.8,697.7 890.6,698.4 891.4,699.0C892.2,699.7 893.0,700.3 893.9,701.0C894.7,701.7 895.5,702.4 896.2,703.0C897.0,703.7 897.8,704.4 898.6,705.1C899.4,705.8 900.2,706.5 900.9,707.2C901.7,707.9 902.5,708.7 903.3,709.4C904.0,710.1 904.8,710.8 905.5,711.5C906.3,712.2 907.1,712.9 907.8,713.7C908.6,714.4 909.3,715.1 910.1,715.8C910.8,716.5 911.6,717.2 912.3,717.9C913.1,718.6 913.8,719.3 914.5,720.0C915.3,720.7 916.0,721.4 916.8,722.1C917.5,722.8 918.2,723.5 919.0,724.2C919.7,724.9 920.5,725.6 921.2,726.3C921.9,727.0 922.7,727.6 923.4,728.3C924.1,729.0 924.9,729.7 925.6,730.3C926.3,731.0 927.1,731.7 927.8,732.4C928.5,733.0 929.3,733.7 930.0,734.3C930.8,735.0 931.5,735.7 932.2,736.3C933.0,737.0 933.7,737.6 934.5,738.3C935.2,738.9 935.9,739.6 936.7,740.2C937.4,740.9 938.2,741.5 938.9,742.1C939.7,742.8 940.4,743.4 941.2,744.0C941.9,744.7 942.7,745.3 943.4,745.9C944.2,746.5 945.0,747.2 945.7,747.8C946.5,748.4 947.3,749.0 948.0,749.6C948.8,750.2 949.6,750.8 950.3,751.4C951.1,752.0 951.9,752.6 952.7,753.2C953.5,753.8 954.2,754.4 955.0,755.0C955.8,755.6 956.6,756.2 957.4,756.7C958.2,757.3 959.0,757.9 959.8,758.5C960.7,759.0 961.5,759.6 962.3,760.2C963.1,760.7 963.9,761.3 964.8,761.8C965.6,762.4 966.4,763.0 967.3,763.5C968.1,764.0 968.9,764.6 969.8,765.1C970.6,765.7 971.5,766.2 972.4,766.7C973.2,767.3 974.1,767.8 974.9,768.3C975.8,768.8 976.7,769.3 977.6,769.8C978.4,770.3 979.3,770.8 980.2,771.3C981.1,771.8 982.0,772.3 982.9,772.8C983.8,773.3 984.7,773.8 985.6,774.3C986.5,774.7 987.4,775.2 988.3,775.7C989.2,776.1 990.1,776.6 991.0,777.0C991.9,777.5 992.8,777.9 993.8,778.3C994.7,778.8 995.6,779.2 996.5,779.6C997.5,780.0 998.4,780.4 999.3,780.9C1000.3,781.3 1001.2,781.7 1002.1,782.0C1003.1,782.4 1004.0,782.8 1005.0,783.2C1005.9,783.6 1006.9,783.9 1007.8,784.3C1008.8,784.6 1009.7,785.0 1010.7,785.3C1011.6,785.7 1012.6,786.0 1013.5,786.3C1014.5,786.7 1015.5,787.0 1016.4,787.3C1017.4,787.6 1018.4,787.9 1019.3,788.2C1020.3,788.5 1021.3,788.7 1022.2,789.0C1023.2,789.3 1024.2,789.5 1025.2,789.8C1026.1,790.0 1027.1,790.3 1028.1,790.5C1029.1,790.7 1030.0,791.0 1031.0,791.2C1032.0,791.4 1033.0,791.6 1034.0,791.8C1035.0,792.0 1035.9,792.1 1036.9,792.3C1037.9,792.5 1038.9,792.7 1039.9,792.8C1040.9,793.0 1041.9,793.1 1042.9,793.2C1043.8,793.4 1044.8,793.5 1045.8,793.6C1046.8,793.7 1047.8,793.8 1048.8,793.9C1049.8,794.0 1050.8,794.1 1051.8,794.2C1052.8,794.3 1053.8,794.3 1054.8,794.4C1055.8,794.4 1056.8,794.5 1057.8,794.5C1058.8,794.6 1059.7,794.6 1060.7,794.6C1061.7,794.7 1062.7,794.7 1063.7,794.7C1064.7,794.7 1065.7,794.7 1066.7,794.7C1067.7,794.7 1068.7,794.7 1069.7,794.6C1070.7,794.6 1071.7,794.6 1072.7,794.5C1073.7,794.5 1074.7,794.5 1075.7,794.4C1076.7,794.3 1077.7,794.3 1078.7,794.2C1079.7,794.1 1080.7,794.1 1081.7,794.0C1082.7,793.9 1083.7,793.8 1084.7,793.7C1085.7,793.6 1086.7,793.5 1087.7,793.4C1088.7,793.3 1089.7,793.1 1090.7,793.0C1091.6,792.9 1092.6,792.7 1093.6,792.6C1094.6,792.5 1095.6,792.3 1096.6,792.1C1097.6,792.0 1098.6,791.8 1099.6,791.7C1100.6,791.5 1101.5,791.3 1102.5,791.1C1103.5,790.9 1104.5,790.7 1105.5,790.6C1106.5,790.4 1107.4,790.2 1108.4,789.9C1109.4,789.7 1110.4,789.5 1111.4,789.3C1112.3,789.1 1113.3,788.9 1114.3,788.6C1115.3,788.4 1116.2,788.2 1117.2,787.9C1118.2,787.7 1119.2,787.4 1120.1,787.2C1121.1,786.9 1122.1,786.7 1123.0,786.4C1124.0,786.1 1125.0,785.9 1125.9,785.6C1126.9,785.3 1127.9,785.0 1128.8,784.7C1129.8,784.5 1130.7,784.2 1131.7,783.9C1132.7,783.6 1133.6,783.3 1134.6,783.0C1135.5,782.7 1136.5,782.4 1137.4,782.1C1138.4,781.8 1139.4,781.5 1140.3,781.1C1141.3,780.8 1142.2,780.5 1143.2,780.2C1144.1,779.9 1145.1,779.6 1146.0,779.2C1147.0,778.9 1147.9,778.6 1148.9,778.2C1149.8,777.9 1150.8,777.6 1151.7,777.2C1152.7,776.9 1153.6,776.6 1154.6,776.2C1155.5,775.9 1156.4,775.5 1157.4,775.2C1158.3,774.8 1159.3,774.5 1160.2,774.1C1161.2,773.8 1162.1,773.5 1163.1,773.1C1164.0,772.8 1164.9,772.4 1165.9,772.0C1166.8,771.7 1167.8,771.3 1168.7,771.0C1169.7,770.6 1170.6,770.3 1171.5,769.9C1172.5,769.6 1173.4,769.2 1174.4,768.9C1175.3,768.5 1176.2,768.1 1177.2,767.8C1178.1,767.4 1179.1,767.1 1180.0,766.7C1181.0,766.4 1181.9,766.0 1182.8,765.7C1183.8,765.3 1184.7,765.0 1185.7,764.6C1186.6,764.3 1187.5,763.9 1188.5,763.6C1189.4,763.2 1190.4,762.9 1191.3,762.5C1192.3,762.2 1193.2,761.8 1194.2,761.5C1195.1,761.1 1196.0,760.8 1197.0,760.5C1197.9,760.1 1198.9,759.8 1199.8,759.4C1200.8,759.1 1201.7,758.8 1202.7,758.5C1203.6,758.1 1204.6,757.8 1205.5,757.5C1206.5,757.1 1207.4,756.8 1208.4,756.5C1209.3,756.2 1210.3,755.9 1211.2,755.6C1212.2,755.3 1213.1,755.0 1214.1,754.6C1215.0,754.3 1216.0,754.0 1216.9,753.7C1217.9,753.5 1218.8,753.2 1219.8,752.9C1220.8,752.6 1221.7,752.3 1222.7,752.0C1223.6,751.7 1224.6,751.5 1225.6,751.2C1226.5,750.9 1227.5,750.7 1228.4,750.4C1229.4,750.2 1230.4,749.9 1231.3,749.7C1232.3,749.4 1233.3,749.2 1234.2,748.9C1235.2,748.7 1236.2,748.5 1237.2,748.2C1238.1,748.0 1239.1,747.8 1240.1,747.6C1241.1,747.4 1242.0,747.2 1243.0,747.0C1244.0,746.8 1245.0,746.6 1245.9,746.4C1246.9,746.2 1247.9,746.0 1248.9,745.8C1249.9,745.7 1250.9,745.5 1251.9,745.3C1252.8,745.2 1253.8,745.0 1254.8,744.9C1255.8,744.7 1256.8,744.6 1257.8,744.5C1258.8,744.3 1259.8,744.2 1260.8,744.1C1261.8,744.0 1262.8,743.9 1263.8,743.8C1264.8,743.7 1265.8,743.6 1266.8,743.5C1267.8,743.5 1268.9,743.4 1269.9,743.3C1270.9,743.3 1271.9,743.2 1272.9,743.2C1273.9,743.1 1275.0,743.1 1276.0,743.1C1277.0,743.0 1278.5,743.0 1279.1,743.0" fill="none" stroke="#ff0000" stroke-width="3.3" stroke-linejoin="round" stroke-linecap="butt"/>
<path d="M755.1,794.4C755.5,794.2 757.0,793.6 757.9,793.1C758.8,792.7 759.7,792.2 760.5,791.7C761.4,791.2 762.2,790.7 763.1,790.1C763.9,789.6 764.7,789.0 765.4,788.4C766.2,787.9 767.0,787.3 767.7,786.6C768.4,786.0 769.1,785.4 769.8,784.7C770.5,784.0 771.2,783.4 771.8,782.7C772.5,782.0 773.1,781.3 773.7,780.5C774.3,779.8 774.9,779.1 775.5,778.3C776.1,777.5 776.7,776.8 777.2,776.0C777.8,775.2 778.3,774.4 778.8,773.6C779.4,772.8 779.9,771.9 780.4,771.1C780.8,770.3 781.3,769.4 781.8,768.5C782.3,767.7 782.7,766.8 783.2,765.9C783.6,765.0 784.1,764.1 784.5,763.2C784.9,762.3 785.3,761.4 785.7,760.5C786.1,759.6 786.5,758.7 786.9,757.7C787.3,756.8 787.7,755.8 788.1,754.9C788.4,753.9 788.8,753.0 789.2,752.0C789.5,751.1 789.9,750.1 790.2,749.1C790.6,748.2 790.9,747.2 791.3,746.2C791.6,745.3 792.0,744.3 792.3,743.3C792.6,742.3 793.0,741.3 793.3,740.4C793.6,739.4 794.0,738.4 794.3,737.4C794.6,736.4 795.0,735.4 795.3,734.4C795.6,733.5 795.9,732.5 796.3,731.5C796.6,730.5 796.9,729.5 797.3,728.6C797.6,727.6 797.9,726.6 798.3,725.7C798.6,724.7 799.0,723.7 799.3,722.8C799.7,721.8 800.0,720.9 800.4,719.9C800.8,719.0 801.1,718.0 801.5,717.1C801.9,716.1 802.2,715.2 802.6,714.3C803.0,713.4 803.4,712.5 803.8,711.6C804.2,710.6 804.6,709.7 805.0,708.8C805.4,708.0 805.9,707.1 806.3,706.2C806.7,705.3 807.1,704.4 807.6,703.5C808.0,702.6 808.4,701.8 808.9,700.9C809.3,700.0 809.7,699.1 810.2,698.3C810.6,697.4 811.0,696.5 811.5,695.7C811.9,694.8 812.4,693.9 812.8,693.1C813.3,692.2 813.7,691.3 814.1,690.5C814.6,689.6 815.0,688.7 815.5,687.8C815.9,687.0 816.4,686.1 816.8,685.2C817.2,684.3 817.7,683.5 818.1,682.6C818.5,681.7 819.0,680.8 819.4,679.9C819.8,679.0 820.3,678.1 820.7,677.2C821.1,676.3 821.5,675.4 821.9,674.5C822.3,673.5 822.7,672.6 823.1,671.7C823.5,670.7 823.9,669.8 824.3,668.9C824.7,667.9 825.1,667.0 825.5,666.0C825.9,665.1 826.2,664.1 826.6,663.1C827.0,662.2 827.4,661.2 827.8,660.2C828.2,659.3 828.6,658.3 828.9,657.3C829.3,656.4 829.7,655.4 830.1,654.4C830.5,653.5 830.9,652.5 831.3,651.5C831.7,650.6 832.2,649.6 832.6,648.6C833.0,647.7 833.4,646.7 833.9,645.8C834.3,644.8 834.8,643.9 835.2,642.9C835.7,642.0 836.2,641.1 836.7,640.1C837.1,639.2 837.6,638.3 838.2,637.4C838.7,636.5 839.2,635.6 839.8,634.7C840.3,633.8 840.9,632.9 841.4,632.1C842.0,631.2 842.6,630.4 843.2,629.5C843.9,628.7 844.5,627.9 845.1,627.0C845.8,626.2 846.5,625.4 847.2,624.7C847.8,623.9 848.5,623.2 849.2,622.4C850.0,621.7 850.7,621.0 851.4,620.4C852.2,619.7 852.9,619.1 853.7,618.5C854.4,617.9 855.2,617.3 856.0,616.8C856.8,616.2 857.6,615.7 858.4,615.3C859.2,614.8 860.0,614.4 860.8,614.0C861.6,613.7 862.5,613.3 863.3,613.1C864.1,612.8 864.9,612.6 865.8,612.4C866.6,612.2 867.5,612.1 868.3,612.0C869.2,611.9 870.0,611.9 870.9,612.0C871.7,612.0 872.6,612.1 873.4,612.3C874.3,612.4 875.1,612.7 876.0,613.0C876.8,613.3 877.7,613.6 878.5,614.1C879.4,614.5 880.2,615.0 881.0,615.6C881.9,616.1 882.7,616.7 883.5,617.4C884.4,618.1 885.2,618.8 886.0,619.5C886.8,620.3 887.6,621.1 888.4,621.9C889.2,622.7 890.0,623.5 890.8,624.4C891.5,625.2 892.3,626.0 893.0,626.9C893.8,627.7 894.5,628.6 895.2,629.4C895.9,630.3 896.6,631.1 897.3,631.9C898.0,632.8 898.7,633.6 899.4,634.4C900.1,635.3 900.7,636.1 901.4,636.9C902.0,637.8 902.7,638.6 903.3,639.4C904.0,640.2 904.6,641.1 905.2,641.9C905.9,642.7 906.5,643.5 907.1,644.3C907.7,645.2 908.4,646.0 909.0,646.8C909.6,647.6 910.2,648.4 910.8,649.3C911.4,650.1 912.0,650.9 912.6,651.7C913.3,652.5 913.9,653.4 914.5,654.2C915.1,655.0 915.7,655.8 916.3,656.6C916.9,657.4 917.5,658.3 918.0,659.1C918.6,659.9 919.2,660.7 919.8,661.5C920.4,662.3 921.0,663.1 921.6,664.0C922.2,664.8 922.8,665.6 923.3,666.4C923.9,667.2 924.5,668.0 925.1,668.8C925.7,669.6 926.2,670.5 926.8,671.3C927.4,672.1 928.0,672.9 928.5,673.7C929.1,674.5 929.7,675.3 930.3,676.1C930.8,676.9 931.4,677.7 932.0,678.6C932.5,679.4 933.1,680.2 933.7,681.0C934.3,681.8 934.8,682.6 935.4,683.4C936.0,684.2 936.5,685.0 937.1,685.8C937.7,686.6 938.2,687.4 938.8,688.2C939.4,689.0 940.0,689.9 940.5,690.7C941.1,691.5 941.7,692.3 942.2,693.1C942.8,693.9 943.4,694.7 943.9,695.5C944.5,696.3 945.1,697.1 945.7,697.9C946.2,698.7 946.8,699.5 947.4,700.3C947.9,701.1 948.5,701.9 949.1,702.7C949.7,703.5 950.2,704.3 950.8,705.2C951.4,706.0 952.0,706.8 952.6,707.6C953.1,708.4 953.7,709.2 954.3,710.0C954.9,710.8 955.5,711.6 956.1,712.4C956.6,713.2 957.2,714.0 957.8,714.8C958.4,715.6 959.0,716.4 959.6,717.2C960.2,718.0 960.8,718.8 961.4,719.6C962.0,720.4 962.6,721.2 963.2,722.0C963.8,722.8 964.4,723.6 965.0,724.4C965.6,725.2 966.2,726.0 966.8,726.8C967.4,727.6 968.1,728.4 968.7,729.2C969.3,730.0 969.9,730.8 970.5,731.6C971.2,732.4 971.8,733.2 972.4,734.0C973.1,734.8 973.7,735.6 974.3,736.4C975.0,737.2 975.6,738.0 976.3,738.8C976.9,739.6 977.5,740.3 978.2,741.1C978.8,741.9 979.5,742.7 980.2,743.4C980.8,744.2 981.5,745.0 982.2,745.8C982.8,746.5 983.5,747.3 984.2,748.0C984.8,748.8 985.5,749.5 986.2,750.3C986.9,751.0 987.6,751.8 988.3,752.5C989.0,753.3 989.7,754.0 990.4,754.7C991.1,755.4 991.8,756.2 992.5,756.9C993.2,757.6 993.9,758.3 994.6,759.0C995.3,759.7 996.1,760.4 996.8,761.1C997.5,761.8 998.3,762.5 999.0,763.1C999.7,763.8 1000.5,764.5 1001.2,765.2C1002.0,765.8 1002.7,766.5 1003.5,767.1C1004.3,767.8 1005.0,768.4 1005.8,769.0C1006.6,769.7 1007.3,770.3 1008.1,770.9C1008.9,771.5 1009.7,772.1 1010.5,772.7C1011.3,773.3 1012.1,773.9 1012.9,774.5C1013.7,775.0 1014.5,775.6 1015.3,776.2C1016.2,776.7 1017.0,777.3 1017.8,777.8C1018.7,778.3 1019.5,778.8 1020.3,779.4C1021.2,779.9 1022.0,780.4 1022.9,780.9C1023.8,781.4 1024.6,781.8 1025.5,782.3C1026.4,782.8 1027.3,783.2 1028.1,783.7C1029.0,784.1 1029.9,784.6 1030.8,785.0C1031.7,785.4 1032.6,785.8 1033.5,786.2C1034.5,786.6 1035.4,787.0 1036.3,787.4C1037.2,787.7 1038.2,788.1 1039.1,788.4C1040.1,788.8 1041.0,789.1 1042.0,789.4C1042.9,789.7 1043.9,790.0 1044.9,790.3C1045.8,790.6 1046.8,790.9 1047.8,791.1C1048.8,791.4 1049.7,791.7 1050.7,791.9C1051.7,792.1 1052.7,792.3 1053.7,792.5C1054.7,792.7 1055.7,792.9 1056.7,793.1C1057.7,793.3 1058.7,793.4 1059.7,793.6C1060.7,793.7 1061.7,793.8 1062.7,794.0C1063.7,794.1 1064.8,794.2 1065.8,794.3C1066.8,794.3 1067.8,794.4 1068.8,794.5C1069.8,794.5 1070.8,794.5 1071.8,794.6C1072.8,794.6 1073.9,794.6 1074.9,794.6C1075.9,794.6 1076.9,794.5 1077.9,794.5C1078.9,794.4 1079.9,794.4 1080.9,794.3C1081.9,794.2 1082.9,794.1 1083.9,794.0C1084.9,793.9 1085.9,793.8 1086.9,793.6C1087.9,793.5 1088.9,793.3 1089.8,793.1C1090.8,792.9 1091.8,792.7 1092.8,792.5C1093.7,792.3 1094.7,792.1 1095.7,791.8C1096.7,791.6 1097.6,791.4 1098.6,791.1C1099.5,790.8 1100.5,790.5 1101.4,790.2C1102.4,789.9 1103.3,789.6 1104.3,789.3C1105.2,789.0 1106.2,788.6 1107.1,788.3C1108.0,787.9 1109.0,787.6 1109.9,787.2C1110.8,786.8 1111.8,786.4 1112.7,786.1C1113.6,785.7 1114.5,785.3 1115.4,784.8C1116.4,784.4 1117.3,784.0 1118.2,783.6C1119.1,783.1 1120.0,782.7 1120.9,782.2C1121.8,781.8 1122.7,781.3 1123.6,780.9C1124.5,780.4 1125.3,779.9 1126.2,779.4C1127.1,779.0 1128.0,778.5 1128.9,778.0C1129.7,777.5 1130.6,777.0 1131.5,776.5C1132.4,776.0 1133.2,775.5 1134.1,774.9C1134.9,774.4 1135.8,773.9 1136.7,773.4C1137.5,772.8 1138.4,772.3 1139.2,771.8C1140.1,771.2 1140.9,770.7 1141.7,770.1C1142.6,769.6 1143.4,769.0 1144.3,768.5C1145.1,767.9 1145.9,767.4 1146.8,766.8C1147.6,766.3 1148.4,765.7 1149.3,765.1C1150.1,764.6 1150.9,764.0 1151.8,763.4C1152.6,762.9 1153.4,762.3 1154.2,761.7C1155.1,761.1 1155.9,760.6 1156.7,760.0C1157.5,759.4 1158.4,758.8 1159.2,758.3C1160.0,757.7 1160.8,757.1 1161.7,756.5C1162.5,755.9 1163.3,755.4 1164.1,754.8C1164.9,754.2 1165.8,753.6 1166.6,753.0C1167.4,752.5 1168.2,751.9 1169.0,751.3C1169.9,750.7 1170.7,750.2 1171.5,749.6C1172.3,749.0 1173.2,748.4 1174.0,747.9C1174.8,747.3 1175.6,746.7 1176.5,746.2C1177.3,745.6 1178.1,745.0 1179.0,744.5C1179.8,743.9 1180.6,743.3 1181.4,742.8C1182.3,742.2 1183.1,741.6 1183.9,741.1C1184.8,740.5 1185.6,740.0 1186.4,739.4C1187.3,738.9 1188.1,738.3 1189.0,737.8C1189.8,737.2 1190.6,736.7 1191.5,736.1C1192.3,735.6 1193.2,735.1 1194.0,734.5C1194.9,734.0 1195.7,733.5 1196.6,732.9C1197.4,732.4 1198.3,731.9 1199.1,731.3C1200.0,730.8 1200.9,730.3 1201.7,729.8C1202.6,729.3 1203.4,728.8 1204.3,728.3C1205.2,727.8 1206.0,727.2 1206.9,726.7C1207.8,726.2 1208.6,725.7 1209.5,725.3C1210.4,724.8 1211.3,724.3 1212.2,723.8C1213.0,723.3 1213.9,722.8 1214.8,722.4C1215.7,721.9 1216.6,721.4 1217.5,720.9C1218.3,720.5 1219.2,720.0 1220.1,719.5C1221.0,719.1 1221.9,718.6 1222.8,718.2C1223.7,717.7 1224.6,717.3 1225.5,716.8C1226.4,716.4 1227.3,715.9 1228.2,715.5C1229.1,715.1 1230.0,714.7 1230.9,714.2C1231.8,713.8 1232.8,713.4 1233.7,713.0C1234.6,712.5 1235.5,712.1 1236.4,711.7C1237.3,711.3 1238.3,710.9 1239.2,710.5C1240.1,710.1 1241.0,709.7 1241.9,709.3C1242.9,709.0 1243.8,708.6 1244.7,708.2C1245.7,707.8 1246.6,707.4 1247.5,707.1C1248.5,706.7 1249.4,706.3 1250.3,706.0C1251.3,705.6 1252.2,705.3 1253.1,704.9C1254.1,704.6 1255.0,704.2 1256.0,703.9C1256.9,703.6 1257.9,703.2 1258.8,702.9C1259.8,702.6 1260.7,702.2 1261.7,701.9C1262.6,701.6 1263.6,701.3 1264.5,701.0C1265.5,700.7 1266.4,700.4 1267.4,700.1C1268.4,699.8 1269.3,699.5 1270.3,699.2C1271.3,698.9 1272.2,698.7 1273.2,698.4C1274.2,698.1 1275.1,697.8 1276.1,697.6C1277.1,697.3 1278.5,696.9 1279.0,696.8" fill="none" stroke="#0000ff" stroke-width="3.3" stroke-linejoin="round" stroke-linecap="butt"/>
<path d="M755.5,781.2C755.8,781.9 756.5,784.2 757.1,785.5C757.7,786.7 758.3,787.8 758.9,788.8C759.5,789.7 760.2,790.5 760.9,791.1C761.6,791.8 762.3,792.3 763.0,792.7C763.7,793.1 764.4,793.3 765.2,793.4C765.9,793.6 766.7,793.6 767.4,793.5C768.2,793.5 769.0,793.3 769.7,793.0C770.5,792.8 771.2,792.4 772.0,792.0C772.7,791.6 773.4,791.1 774.2,790.6C774.9,790.1 775.6,789.5 776.3,788.8C777.0,788.2 777.6,787.5 778.2,786.8C778.9,786.1 779.5,785.3 780.1,784.5C780.7,783.7 781.2,782.9 781.8,782.1C782.3,781.3 782.8,780.4 783.3,779.5C783.9,778.6 784.3,777.7 784.8,776.8C785.3,775.9 785.7,774.9 786.2,774.0C786.6,773.0 787.1,772.1 787.5,771.1C787.9,770.1 788.3,769.1 788.7,768.1C789.1,767.1 789.5,766.1 789.8,765.1C790.2,764.1 790.6,763.1 791.0,762.1C791.3,761.1 791.7,760.0 792.0,759.0C792.4,758.0 792.7,757.0 793.1,756.0C793.4,755.0 793.8,754.0 794.1,753.1C794.5,752.1 794.8,751.1 795.1,750.1C795.5,749.1 795.8,748.1 796.1,747.2C796.4,746.2 796.8,745.2 797.1,744.2C797.4,743.2 797.7,742.3 798.0,741.3C798.3,740.3 798.6,739.4 798.9,738.4C799.2,737.4 799.5,736.5 799.8,735.5C800.1,734.6 800.4,733.6 800.7,732.6C801.0,731.7 801.3,730.7 801.6,729.8C801.9,728.8 802.2,727.9 802.5,726.9C802.8,726.0 803.0,725.0 803.3,724.1C803.6,723.1 803.9,722.2 804.2,721.2C804.4,720.3 804.7,719.3 805.0,718.4C805.3,717.4 805.5,716.5 805.8,715.5C806.1,714.6 806.3,713.6 806.6,712.7C806.9,711.7 807.1,710.8 807.4,709.9C807.7,708.9 807.9,708.0 808.2,707.0C808.5,706.1 808.7,705.1 809.0,704.2C809.2,703.2 809.5,702.3 809.8,701.3C810.0,700.4 810.3,699.4 810.5,698.5C810.8,697.5 811.0,696.6 811.3,695.6C811.6,694.7 811.8,693.7 812.1,692.8C812.3,691.8 812.6,690.9 812.8,689.9C813.1,688.9 813.3,688.0 813.6,687.0C813.9,686.1 814.1,685.1 814.4,684.2C814.6,683.2 814.9,682.2 815.1,681.3C815.4,680.3 815.6,679.4 815.9,678.4C816.1,677.4 816.4,676.5 816.7,675.5C816.9,674.5 817.2,673.6 817.4,672.6C817.7,671.7 817.9,670.7 818.2,669.7C818.4,668.8 818.7,667.8 818.9,666.8C819.2,665.9 819.4,664.9 819.7,663.9C819.9,663.0 820.2,662.0 820.5,661.0C820.7,660.1 821.0,659.1 821.2,658.1C821.5,657.2 821.7,656.2 822.0,655.2C822.2,654.3 822.5,653.3 822.7,652.3C823.0,651.4 823.3,650.4 823.5,649.4C823.8,648.5 824.0,647.5 824.3,646.5C824.5,645.5 824.8,644.6 825.0,643.6C825.3,642.6 825.6,641.7 825.8,640.7C826.1,639.7 826.3,638.8 826.6,637.8C826.9,636.8 827.1,635.8 827.4,634.9C827.6,633.9 827.9,632.9 828.2,632.0C828.4,631.0 828.7,630.0 829.0,629.1C829.2,628.1 829.5,627.1 829.8,626.1C830.0,625.2 830.3,624.2 830.6,623.2C830.8,622.3 831.1,621.3 831.4,620.3C831.6,619.4 831.9,618.4 832.2,617.4C832.4,616.4 832.7,615.5 833.0,614.5C833.3,613.5 833.5,612.6 833.8,611.6C834.1,610.6 834.4,609.7 834.6,608.7C834.9,607.7 835.2,606.8 835.5,605.8C835.7,604.8 836.0,603.9 836.3,602.9C836.6,601.9 836.9,601.0 837.2,600.0C837.4,599.1 837.7,598.1 838.0,597.1C838.3,596.2 838.6,595.2 838.9,594.2C839.2,593.3 839.5,592.3 839.8,591.4C840.1,590.4 840.3,589.4 840.6,588.5C840.9,587.5 841.2,586.6 841.5,585.6C841.8,584.6 842.1,583.7 842.4,582.7C842.7,581.8 843.0,580.8 843.3,579.9C843.6,578.9 844.0,578.0 844.3,577.0C844.6,576.0 844.9,575.1 845.2,574.1C845.5,573.2 845.8,572.2 846.1,571.3C846.5,570.3 846.8,569.4 847.1,568.4C847.4,567.5 847.7,566.5 848.1,565.6C848.4,564.7 848.7,563.7 849.0,562.8C849.4,561.8 849.7,560.9 850.0,559.9C850.4,559.0 850.7,558.1 851.0,557.1C851.4,556.2 851.7,555.2 852.1,554.3C852.4,553.4 852.8,552.4 853.1,551.5C853.5,550.6 853.8,549.6 854.2,548.7C854.6,547.8 854.9,546.8 855.3,545.9C855.7,545.0 856.0,544.1 856.4,543.1C856.8,542.2 857.2,541.3 857.6,540.4C858.0,539.4 858.4,538.5 858.8,537.6C859.2,536.7 859.6,535.8 860.0,534.8C860.4,533.9 860.8,533.0 861.3,532.1C861.7,531.2 862.1,530.3 862.6,529.4C863.0,528.5 863.5,527.6 863.9,526.7C864.4,525.8 864.8,524.9 865.3,524.0C865.8,523.1 866.2,522.2 866.7,521.3C867.2,520.4 867.7,519.5 868.2,518.6C868.7,517.7 869.2,516.8 869.7,515.9C870.2,515.0 870.7,514.2 871.3,513.3C871.8,512.4 872.3,511.5 872.9,510.6C873.4,509.8 874.0,508.9 874.6,508.0C875.1,507.1 875.7,506.3 876.3,505.4C876.9,504.5 877.5,503.7 878.1,502.8C878.7,502.0 879.3,501.1 879.9,500.3C880.6,499.4 881.2,498.6 881.8,497.8C882.5,497.0 883.1,496.2 883.8,495.5C884.5,494.7 885.2,494.0 885.8,493.3C886.5,492.6 887.2,492.0 887.9,491.4C888.6,490.8 889.3,490.2 890.1,489.7C890.8,489.3 891.5,488.8 892.2,488.4C893.0,488.1 893.7,487.7 894.5,487.5C895.3,487.3 896.0,487.1 896.8,487.0C897.6,486.9 898.4,486.9 899.2,487.0C900.0,487.1 900.8,487.2 901.6,487.5C902.4,487.7 903.2,488.1 904.0,488.5C904.8,488.9 905.7,489.4 906.5,489.9C907.3,490.4 908.1,491.0 909.0,491.7C909.8,492.3 910.6,493.1 911.4,493.8C912.2,494.6 913.0,495.4 913.8,496.2C914.6,497.0 915.3,497.9 916.1,498.7C916.8,499.6 917.6,500.5 918.3,501.4C919.0,502.3 919.7,503.2 920.4,504.2C921.1,505.1 921.7,506.0 922.4,506.9C923.0,507.8 923.6,508.7 924.2,509.7C924.8,510.6 925.3,511.5 925.9,512.4C926.4,513.3 926.9,514.2 927.5,515.1C928.0,516.0 928.5,516.9 928.9,517.8C929.4,518.7 929.9,519.6 930.3,520.5C930.8,521.4 931.2,522.3 931.7,523.2C932.1,524.1 932.5,525.0 932.9,525.9C933.4,526.8 933.8,527.7 934.2,528.6C934.6,529.4 935.0,530.3 935.4,531.2C935.8,532.1 936.2,533.0 936.6,533.9C937.0,534.8 937.4,535.7 937.8,536.6C938.2,537.5 938.6,538.4 939.0,539.3C939.4,540.2 939.8,541.1 940.2,542.0C940.6,542.9 941.1,543.8 941.5,544.7C941.9,545.6 942.3,546.5 942.7,547.4C943.1,548.3 943.5,549.3 943.9,550.2C944.3,551.1 944.7,552.0 945.1,552.9C945.5,553.8 945.9,554.7 946.4,555.6C946.8,556.5 947.2,557.5 947.5,558.4C947.9,559.3 948.3,560.2 948.7,561.1C949.1,562.0 949.5,563.0 949.9,563.9C950.3,564.8 950.6,565.7 951.0,566.7C951.4,567.6 951.8,568.5 952.1,569.4C952.5,570.3 952.9,571.3 953.3,572.2C953.6,573.1 954.0,574.1 954.3,575.0C954.7,575.9 955.1,576.8 955.4,577.8C955.8,578.7 956.1,579.6 956.5,580.6C956.8,581.5 957.2,582.4 957.5,583.4C957.9,584.3 958.2,585.2 958.6,586.2C958.9,587.1 959.3,588.0 959.6,589.0C960.0,589.9 960.3,590.8 960.6,591.8C961.0,592.7 961.3,593.7 961.7,594.6C962.0,595.5 962.3,596.5 962.7,597.4C963.0,598.3 963.3,599.3 963.7,600.2C964.0,601.2 964.3,602.1 964.7,603.0C965.0,604.0 965.3,604.9 965.7,605.9C966.0,606.8 966.4,607.7 966.7,608.7C967.0,609.6 967.4,610.6 967.7,611.5C968.0,612.5 968.4,613.4 968.7,614.3C969.0,615.3 969.4,616.2 969.7,617.2C970.1,618.1 970.4,619.1 970.7,620.0C971.1,620.9 971.4,621.9 971.8,622.8C972.1,623.8 972.4,624.7 972.8,625.7C973.1,626.6 973.5,627.5 973.8,628.5C974.2,629.4 974.5,630.4 974.9,631.3C975.2,632.3 975.6,633.2 975.9,634.1C976.3,635.1 976.6,636.0 977.0,637.0C977.3,637.9 977.7,638.8 978.1,639.8C978.4,640.7 978.8,641.7 979.1,642.6C979.5,643.5 979.9,644.5 980.2,645.4C980.6,646.4 980.9,647.3 981.3,648.2C981.7,649.2 982.0,650.1 982.4,651.1C982.8,652.0 983.2,652.9 983.5,653.9C983.9,654.8 984.3,655.7 984.6,656.7C985.0,657.6 985.4,658.5 985.8,659.5C986.1,660.4 986.5,661.3 986.9,662.3C987.3,663.2 987.7,664.1 988.1,665.1C988.4,666.0 988.8,666.9 989.2,667.9C989.6,668.8 990.0,669.7 990.4,670.6C990.8,671.6 991.1,672.5 991.5,673.4C991.9,674.4 992.3,675.3 992.7,676.2C993.1,677.1 993.5,678.1 993.9,679.0C994.3,679.9 994.7,680.8 995.1,681.7C995.5,682.7 995.9,683.6 996.3,684.5C996.7,685.4 997.1,686.3 997.5,687.3C998.0,688.2 998.4,689.1 998.8,690.0C999.2,690.9 999.6,691.8 1000.0,692.7C1000.4,693.6 1000.9,694.6 1001.3,695.5C1001.7,696.4 1002.1,697.3 1002.5,698.2C1003.0,699.1 1003.4,700.0 1003.8,700.9C1004.2,701.8 1004.7,702.7 1005.1,703.6C1005.5,704.5 1005.9,705.4 1006.4,706.3C1006.8,707.2 1007.2,708.1 1007.7,709.0C1008.1,709.9 1008.6,710.8 1009.0,711.7C1009.4,712.6 1009.9,713.5 1010.3,714.4C1010.8,715.2 1011.2,716.1 1011.7,717.0C1012.1,717.9 1012.6,718.8 1013.0,719.7C1013.5,720.6 1013.9,721.4 1014.4,722.3C1014.8,723.2 1015.3,724.1 1015.7,725.0C1016.2,725.8 1016.7,726.7 1017.1,727.6C1017.6,728.4 1018.1,729.3 1018.5,730.2C1019.0,731.1 1019.5,731.9 1019.9,732.8C1020.4,733.6 1020.9,734.5 1021.3,735.4C1021.8,736.2 1022.3,737.1 1022.8,737.9C1023.3,738.8 1023.7,739.7 1024.2,740.5C1024.7,741.4 1025.2,742.2 1025.7,743.1C1026.2,743.9 1026.6,744.8 1027.1,745.6C1027.6,746.4 1028.1,747.3 1028.6,748.1C1029.1,749.0 1029.6,749.8 1030.1,750.6C1030.6,751.5 1031.1,752.3 1031.7,753.2C1032.2,754.0 1032.7,754.8 1033.2,755.6C1033.8,756.5 1034.3,757.3 1034.9,758.1C1035.4,759.0 1036.0,759.8 1036.5,760.6C1037.1,761.4 1037.7,762.3 1038.3,763.1C1038.9,763.9 1039.5,764.7 1040.1,765.5C1040.7,766.4 1041.3,767.2 1041.9,768.0C1042.6,768.8 1043.2,769.6 1043.9,770.4C1044.6,771.3 1045.2,772.1 1045.9,772.9C1046.6,773.7 1047.3,774.5 1048.1,775.3C1048.8,776.1 1049.5,776.9 1050.3,777.7C1051.0,778.5 1051.8,779.3 1052.6,780.1C1053.4,780.9 1054.2,781.6 1055.0,782.4C1055.8,783.1 1056.6,783.8 1057.4,784.5C1058.3,785.2 1059.1,785.9 1059.9,786.5C1060.8,787.2 1061.7,787.8 1062.5,788.4C1063.4,788.9 1064.3,789.5 1065.1,790.0C1066.0,790.5 1066.9,791.0 1067.8,791.4C1068.7,791.8 1069.6,792.2 1070.5,792.5C1071.4,792.8 1072.3,793.1 1073.2,793.3C1074.1,793.6 1075.0,793.7 1075.9,793.9C1076.8,794.0 1077.7,794.1 1078.6,794.2C1079.5,794.2 1080.4,794.2 1081.4,794.2C1082.3,794.2 1083.2,794.1 1084.1,794.0C1085.0,793.9 1085.9,793.7 1086.8,793.5C1087.7,793.4 1088.6,793.1 1089.6,792.9C1090.5,792.6 1091.4,792.4 1092.3,792.0C1093.2,791.7 1094.1,791.4 1095.0,791.0C1095.8,790.6 1096.7,790.2 1097.6,789.8C1098.5,789.4 1099.4,788.9 1100.3,788.4C1101.1,787.9 1102.0,787.4 1102.9,786.9C1103.7,786.4 1104.6,785.8 1105.4,785.2C1106.3,784.7 1107.1,784.1 1107.9,783.5C1108.7,782.8 1109.6,782.2 1110.4,781.6C1111.2,780.9 1112.0,780.3 1112.8,779.6C1113.6,778.9 1114.3,778.2 1115.1,777.5C1115.9,776.8 1116.6,776.1 1117.4,775.4C1118.1,774.7 1118.9,773.9 1119.6,773.2C1120.3,772.5 1121.0,771.7 1121.7,771.0C1122.4,770.2 1123.1,769.5 1123.7,768.7C1124.4,767.9 1125.1,767.2 1125.7,766.4C1126.4,765.6 1127.0,764.8 1127.6,764.0C1128.2,763.3 1128.9,762.5 1129.5,761.7C1130.1,760.9 1130.7,760.1 1131.3,759.3C1131.9,758.5 1132.4,757.7 1133.0,756.9C1133.6,756.0 1134.2,755.2 1134.7,754.4C1135.3,753.6 1135.9,752.8 1136.4,751.9C1137.0,751.1 1137.5,750.3 1138.1,749.4C1138.6,748.6 1139.2,747.8 1139.7,746.9C1140.2,746.1 1140.8,745.2 1141.3,744.4C1141.9,743.5 1142.4,742.7 1142.9,741.8C1143.5,741.0 1144.0,740.1 1144.5,739.3C1145.1,738.4 1145.6,737.6 1146.1,736.7C1146.7,735.9 1147.2,735.0 1147.7,734.1C1148.3,733.3 1148.8,732.4 1149.3,731.5C1149.9,730.7 1150.4,729.8 1150.9,729.0C1151.5,728.1 1152.0,727.2 1152.5,726.4C1153.0,725.5 1153.6,724.6 1154.1,723.8C1154.6,722.9 1155.2,722.1 1155.7,721.2C1156.2,720.3 1156.7,719.5 1157.3,718.6C1157.8,717.8 1158.3,716.9 1158.9,716.1C1159.4,715.2 1159.9,714.4 1160.4,713.5C1161.0,712.7 1161.5,711.8 1162.0,711.0C1162.6,710.1 1163.1,709.3 1163.6,708.5C1164.1,707.6 1164.7,706.8 1165.2,705.9C1165.7,705.1 1166.3,704.3 1166.8,703.4C1167.3,702.6 1167.8,701.8 1168.4,700.9C1168.9,700.1 1169.4,699.3 1170.0,698.4C1170.5,697.6 1171.0,696.8 1171.5,695.9C1172.1,695.1 1172.6,694.3 1173.1,693.4C1173.6,692.6 1174.2,691.8 1174.7,690.9C1175.2,690.1 1175.7,689.3 1176.3,688.4C1176.8,687.6 1177.3,686.8 1177.8,685.9C1178.4,685.1 1178.9,684.3 1179.4,683.4C1179.9,682.6 1180.4,681.8 1181.0,680.9C1181.5,680.1 1182.0,679.2 1182.5,678.4C1183.0,677.6 1183.6,676.7 1184.1,675.9C1184.6,675.0 1185.1,674.2 1185.6,673.3C1186.1,672.5 1186.6,671.6 1187.2,670.8C1187.7,669.9 1188.2,669.1 1188.7,668.2C1189.2,667.4 1189.7,666.5 1190.2,665.6C1190.7,664.8 1191.2,663.9 1191.8,663.0C1192.3,662.2 1192.8,661.3 1193.3,660.4C1193.8,659.6 1194.3,658.7 1194.8,657.8C1195.3,656.9 1195.8,656.0 1196.3,655.2C1196.8,654.3 1197.3,653.4 1197.8,652.5C1198.3,651.6 1198.8,650.7 1199.3,649.8C1199.8,649.0 1200.3,648.1 1200.8,647.2C1201.3,646.3 1201.8,645.4 1202.3,644.5C1202.8,643.6 1203.3,642.7 1203.8,641.8C1204.3,640.9 1204.8,640.1 1205.3,639.2C1205.9,638.3 1206.4,637.4 1206.9,636.5C1207.4,635.6 1207.9,634.7 1208.4,633.8C1208.9,633.0 1209.4,632.1 1210.0,631.2C1210.5,630.3 1211.0,629.4 1211.5,628.6C1212.1,627.7 1212.6,626.8 1213.1,625.9C1213.6,625.1 1214.2,624.2 1214.7,623.3C1215.2,622.4 1215.8,621.6 1216.3,620.7C1216.9,619.9 1217.4,619.0 1218.0,618.2C1218.5,617.3 1219.1,616.4 1219.6,615.6C1220.2,614.8 1220.7,613.9 1221.3,613.1C1221.9,612.2 1222.4,611.4 1223.0,610.6C1223.6,609.8 1224.2,608.9 1224.7,608.1C1225.3,607.3 1225.9,606.5 1226.5,605.7C1227.1,604.9 1227.7,604.1 1228.3,603.3C1228.9,602.5 1229.5,601.7 1230.1,600.9C1230.7,600.2 1231.4,599.4 1232.0,598.6C1232.6,597.9 1233.2,597.1 1233.9,596.4C1234.5,595.6 1235.2,594.9 1235.8,594.1C1236.5,593.4 1237.1,592.7 1237.8,591.9C1238.4,591.2 1239.1,590.5 1239.8,589.8C1240.5,589.1 1241.2,588.4 1241.8,587.7C1242.5,587.1 1243.2,586.4 1243.9,585.7C1244.6,585.1 1245.4,584.4 1246.1,583.8C1246.8,583.1 1247.5,582.5 1248.3,581.8C1249.0,581.2 1249.8,580.6 1250.5,580.0C1251.3,579.4 1252.0,578.8 1252.8,578.2C1253.6,577.6 1254.4,577.1 1255.2,576.5C1255.9,576.0 1256.7,575.4 1257.6,574.9C1258.4,574.3 1259.2,573.8 1260.0,573.3C1260.8,572.8 1261.7,572.3 1262.5,571.8C1263.4,571.3 1264.2,570.9 1265.1,570.4C1266.0,569.9 1266.8,569.5 1267.7,569.1C1268.6,568.6 1269.5,568.2 1270.4,567.8C1271.3,567.4 1272.3,567.0 1273.2,566.6C1274.1,566.3 1275.1,565.9 1276.0,565.5C1277.0,565.2 1278.4,564.7 1278.9,564.5" fill="none" stroke="#00ff00" stroke-width="3.3" stroke-linejoin="round" stroke-linecap="butt"/>
<path d="M756.1,738.1C756.3,738.5 756.8,739.7 757.1,740.5C757.4,741.4 757.7,742.2 757.9,743.1C758.2,744.0 758.5,744.9 758.7,745.7C759.0,746.6 759.2,747.6 759.5,748.5C759.7,749.4 760.0,750.4 760.2,751.3C760.4,752.3 760.7,753.2 760.9,754.2C761.2,755.2 761.4,756.2 761.7,757.2C761.9,758.3 762.2,759.3 762.5,760.4C762.7,761.4 763.0,762.5 763.3,763.6C763.7,764.7 764.0,765.8 764.3,766.9C764.7,768.0 765.0,769.2 765.4,770.3C765.8,771.4 766.2,772.6 766.6,773.7C767.0,774.9 767.5,776.0 767.9,777.1C768.4,778.2 768.9,779.3 769.4,780.3C769.9,781.4 770.4,782.4 770.9,783.4C771.5,784.3 772.0,785.3 772.6,786.1C773.2,787.0 773.8,787.8 774.4,788.5C775.0,789.3 775.7,789.9 776.3,790.5C777.0,791.1 777.7,791.6 778.4,792.0C779.1,792.4 779.8,792.7 780.6,793.0C781.3,793.2 782.1,793.3 782.9,793.4C783.7,793.4 784.4,793.4 785.2,793.3C786.0,793.2 786.8,793.0 787.6,792.7C788.4,792.5 789.3,792.1 790.1,791.8C790.9,791.4 791.7,790.9 792.5,790.5C793.2,790.0 794.0,789.4 794.8,788.8C795.6,788.3 796.3,787.6 797.1,787.0C797.8,786.3 798.5,785.6 799.2,784.9C799.9,784.1 800.6,783.4 801.2,782.6C801.9,781.8 802.5,781.0 803.1,780.2C803.7,779.3 804.3,778.5 804.8,777.6C805.4,776.8 805.9,775.9 806.4,775.0C807.0,774.1 807.5,773.2 807.9,772.3C808.4,771.4 808.9,770.4 809.4,769.5C809.8,768.6 810.3,767.6 810.7,766.7C811.1,765.7 811.6,764.8 812.0,763.8C812.4,762.8 812.8,761.9 813.2,760.9C813.6,759.9 814.0,759.0 814.4,758.0C814.8,757.0 815.2,756.1 815.6,755.1C816.1,754.2 816.4,753.2 816.8,752.2C817.2,751.3 817.6,750.3 818.0,749.4C818.4,748.4 818.8,747.5 819.2,746.5C819.6,745.5 820.0,744.6 820.4,743.6C820.7,742.7 821.1,741.7 821.5,740.8C821.9,739.8 822.3,738.9 822.7,738.0C823.0,737.0 823.4,736.1 823.8,735.1C824.2,734.2 824.5,733.2 824.9,732.3C825.3,731.3 825.7,730.4 826.0,729.5C826.4,728.5 826.8,727.6 827.2,726.7C827.5,725.7 827.9,724.8 828.3,723.8C828.6,722.9 829.0,722.0 829.4,721.0C829.7,720.1 830.1,719.2 830.5,718.2C830.8,717.3 831.2,716.4 831.6,715.4C831.9,714.5 832.3,713.6 832.7,712.7C833.0,711.7 833.4,710.8 833.7,709.9C834.1,708.9 834.5,708.0 834.8,707.1C835.2,706.2 835.6,705.2 835.9,704.3C836.3,703.4 836.6,702.5 837.0,701.5C837.4,700.6 837.7,699.7 838.1,698.8C838.5,697.9 838.8,696.9 839.2,696.0C839.5,695.1 839.9,694.2 840.3,693.2C840.6,692.3 841.0,691.4 841.4,690.5C841.7,689.6 842.1,688.6 842.5,687.7C842.8,686.8 843.2,685.9 843.6,685.0C843.9,684.1 844.3,683.1 844.7,682.2C845.0,681.3 845.4,680.4 845.8,679.5C846.1,678.6 846.5,677.6 846.9,676.7C847.2,675.8 847.6,674.9 848.0,674.0C848.4,673.1 848.7,672.2 849.1,671.2C849.5,670.3 849.9,669.4 850.2,668.5C850.6,667.6 851.0,666.7 851.4,665.8C851.8,664.8 852.1,663.9 852.5,663.0C852.9,662.1 853.3,661.2 853.7,660.3C854.1,659.4 854.5,658.4 854.8,657.5C855.2,656.6 855.6,655.7 856.0,654.8C856.4,653.9 856.8,653.0 857.2,652.0C857.6,651.1 858.0,650.2 858.4,649.3C858.8,648.4 859.2,647.5 859.6,646.6C860.0,645.6 860.4,644.7 860.8,643.8C861.3,642.9 861.7,642.0 862.1,641.1C862.5,640.2 862.9,639.2 863.3,638.3C863.8,637.4 864.2,636.5 864.6,635.6C865.0,634.7 865.5,633.8 865.9,632.9C866.4,631.9 866.8,631.0 867.3,630.1C867.7,629.2 868.2,628.3 868.7,627.4C869.1,626.5 869.6,625.6 870.1,624.7C870.6,623.8 871.1,623.0 871.6,622.1C872.1,621.2 872.6,620.3 873.1,619.4C873.7,618.6 874.2,617.7 874.8,616.8C875.3,616.0 875.9,615.1 876.5,614.3C877.1,613.4 877.6,612.6 878.3,611.7C878.9,610.9 879.5,610.1 880.1,609.3C880.8,608.5 881.4,607.7 882.1,606.9C882.8,606.1 883.5,605.4 884.2,604.6C884.9,603.9 885.6,603.2 886.3,602.5C887.1,601.8 887.8,601.1 888.6,600.4C889.4,599.8 890.2,599.2 891.0,598.6C891.8,598.0 892.6,597.4 893.5,596.9C894.4,596.3 895.2,595.8 896.1,595.4C897.0,594.9 897.9,594.4 898.8,594.1C899.7,593.7 900.7,593.3 901.6,593.0C902.5,592.7 903.5,592.4 904.4,592.2C905.4,591.9 906.3,591.7 907.3,591.6C908.2,591.5 909.2,591.4 910.1,591.3C911.1,591.3 912.0,591.3 913.0,591.4C913.9,591.4 914.8,591.6 915.7,591.7C916.7,591.9 917.6,592.2 918.5,592.5C919.3,592.8 920.2,593.1 921.1,593.5C922.0,593.9 922.8,594.4 923.7,594.9C924.5,595.4 925.3,595.9 926.1,596.5C927.0,597.0 927.8,597.7 928.6,598.3C929.4,598.9 930.1,599.6 930.9,600.3C931.7,601.0 932.4,601.7 933.2,602.5C933.9,603.2 934.7,604.0 935.4,604.8C936.1,605.5 936.9,606.3 937.6,607.1C938.3,607.9 939.0,608.7 939.7,609.5C940.3,610.3 941.0,611.1 941.7,611.9C942.4,612.7 943.0,613.5 943.7,614.3C944.3,615.1 945.0,615.9 945.6,616.7C946.2,617.6 946.9,618.4 947.5,619.2C948.1,620.0 948.7,620.8 949.3,621.6C949.9,622.4 950.5,623.2 951.1,624.0C951.7,624.8 952.3,625.7 952.9,626.5C953.5,627.3 954.1,628.1 954.6,628.9C955.2,629.7 955.8,630.5 956.3,631.4C956.9,632.2 957.4,633.0 958.0,633.8C958.5,634.7 959.1,635.5 959.6,636.3C960.2,637.1 960.7,637.9 961.3,638.8C961.8,639.6 962.3,640.4 962.9,641.3C963.4,642.1 963.9,642.9 964.5,643.8C965.0,644.6 965.5,645.4 966.0,646.3C966.6,647.1 967.1,647.9 967.6,648.8C968.2,649.6 968.7,650.5 969.2,651.3C969.7,652.2 970.2,653.0 970.8,653.8C971.3,654.7 971.8,655.5 972.3,656.4C972.8,657.2 973.4,658.1 973.9,658.9C974.4,659.8 974.9,660.7 975.4,661.5C975.9,662.4 976.5,663.2 977.0,664.1C977.5,664.9 978.0,665.8 978.5,666.7C979.0,667.5 979.5,668.4 980.0,669.3C980.5,670.1 981.1,671.0 981.6,671.9C982.1,672.7 982.6,673.6 983.1,674.5C983.6,675.3 984.1,676.2 984.6,677.1C985.1,678.0 985.6,678.8 986.1,679.7C986.6,680.6 987.0,681.5 987.5,682.4C988.0,683.2 988.5,684.1 989.0,685.0C989.5,685.9 990.0,686.8 990.5,687.7C991.0,688.5 991.4,689.4 991.9,690.3C992.4,691.2 992.9,692.1 993.4,693.0C993.9,693.9 994.3,694.8 994.8,695.7C995.3,696.5 995.8,697.4 996.3,698.3C996.7,699.2 997.2,700.1 997.7,701.0C998.2,701.9 998.6,702.8 999.1,703.7C999.6,704.5 1000.1,705.4 1000.5,706.3C1001.0,707.2 1001.5,708.1 1002.0,709.0C1002.5,709.9 1002.9,710.8 1003.4,711.6C1003.9,712.5 1004.4,713.4 1004.9,714.3C1005.3,715.2 1005.8,716.0 1006.3,716.9C1006.8,717.8 1007.3,718.7 1007.8,719.5C1008.3,720.4 1008.8,721.3 1009.2,722.1C1009.7,723.0 1010.2,723.9 1010.7,724.7C1011.2,725.6 1011.7,726.5 1012.2,727.3C1012.7,728.2 1013.2,729.0 1013.7,729.9C1014.2,730.7 1014.7,731.6 1015.3,732.4C1015.8,733.3 1016.3,734.1 1016.8,735.0C1017.3,735.8 1017.8,736.6 1018.4,737.5C1018.9,738.3 1019.4,739.1 1019.9,739.9C1020.5,740.8 1021.0,741.6 1021.5,742.4C1022.1,743.2 1022.6,744.0 1023.2,744.8C1023.7,745.6 1024.3,746.4 1024.8,747.2C1025.4,748.1 1025.9,748.9 1026.5,749.7C1027.1,750.5 1027.6,751.3 1028.2,752.1C1028.8,752.9 1029.3,753.7 1029.9,754.5C1030.5,755.3 1031.1,756.1 1031.7,756.9C1032.3,757.7 1032.9,758.6 1033.5,759.4C1034.1,760.2 1034.7,761.0 1035.3,761.8C1035.9,762.7 1036.5,763.5 1037.1,764.3C1037.7,765.2 1038.3,766.0 1038.9,766.9C1039.6,767.7 1040.2,768.6 1040.8,769.4C1041.5,770.3 1042.1,771.1 1042.8,772.0C1043.4,772.8 1044.1,773.7 1044.7,774.5C1045.4,775.3 1046.1,776.1 1046.8,776.9C1047.5,777.7 1048.2,778.5 1048.9,779.3C1049.6,780.1 1050.3,780.8 1051.1,781.5C1051.8,782.3 1052.6,783.0 1053.3,783.6C1054.1,784.3 1054.9,785.0 1055.7,785.6C1056.5,786.2 1057.3,786.8 1058.1,787.3C1059.0,787.8 1059.8,788.4 1060.7,788.8C1061.5,789.3 1062.4,789.7 1063.3,790.2C1064.2,790.6 1065.1,790.9 1066.0,791.3C1066.9,791.6 1067.9,791.9 1068.8,792.2C1069.7,792.5 1070.7,792.7 1071.6,793.0C1072.6,793.2 1073.5,793.4 1074.5,793.5C1075.4,793.7 1076.4,793.8 1077.4,793.9C1078.3,794.0 1079.3,794.1 1080.3,794.1C1081.3,794.1 1082.3,794.1 1083.2,794.1C1084.2,794.1 1085.2,794.1 1086.2,794.0C1087.2,793.9 1088.1,793.8 1089.1,793.7C1090.1,793.5 1091.1,793.4 1092.0,793.2C1093.0,793.0 1094.0,792.8 1094.9,792.5C1095.9,792.3 1096.8,792.0 1097.8,791.7C1098.7,791.5 1099.7,791.1 1100.6,790.8C1101.5,790.5 1102.4,790.1 1103.3,789.7C1104.2,789.3 1105.1,788.9 1106.0,788.4C1106.9,788.0 1107.8,787.5 1108.6,787.1C1109.5,786.6 1110.3,786.1 1111.2,785.5C1112.0,785.0 1112.8,784.5 1113.6,783.9C1114.5,783.3 1115.3,782.7 1116.1,782.1C1116.9,781.5 1117.6,780.9 1118.4,780.3C1119.2,779.6 1120.0,779.0 1120.7,778.3C1121.5,777.7 1122.2,777.0 1123.0,776.3C1123.7,775.6 1124.4,774.9 1125.2,774.1C1125.9,773.4 1126.6,772.7 1127.3,771.9C1128.0,771.2 1128.7,770.5 1129.4,769.7C1130.1,768.9 1130.8,768.2 1131.5,767.4C1132.1,766.6 1132.8,765.8 1133.5,765.0C1134.2,764.2 1134.8,763.4 1135.5,762.6C1136.1,761.8 1136.8,761.0 1137.4,760.2C1138.1,759.4 1138.7,758.6 1139.4,757.7C1140.0,756.9 1140.7,756.1 1141.3,755.3C1141.9,754.5 1142.5,753.6 1143.2,752.8C1143.8,752.0 1144.4,751.2 1145.0,750.4C1145.6,749.5 1146.3,748.7 1146.9,747.9C1147.5,747.1 1148.1,746.3 1148.7,745.5C1149.3,744.7 1149.9,743.9 1150.5,743.0C1151.1,742.2 1151.7,741.4 1152.3,740.6C1152.9,739.8 1153.5,739.0 1154.1,738.2C1154.7,737.4 1155.3,736.6 1155.9,735.8C1156.5,735.0 1157.1,734.2 1157.6,733.4C1158.2,732.6 1158.8,731.8 1159.4,730.9C1160.0,730.1 1160.5,729.3 1161.1,728.5C1161.7,727.7 1162.3,726.9 1162.8,726.1C1163.4,725.3 1164.0,724.5 1164.6,723.7C1165.1,722.9 1165.7,722.1 1166.3,721.3C1166.8,720.5 1167.4,719.7 1168.0,718.9C1168.5,718.1 1169.1,717.3 1169.7,716.5C1170.2,715.7 1170.8,714.9 1171.4,714.1C1171.9,713.3 1172.5,712.5 1173.0,711.7C1173.6,710.9 1174.2,710.1 1174.7,709.3C1175.3,708.5 1175.8,707.7 1176.4,706.9C1177.0,706.1 1177.5,705.3 1178.1,704.5C1178.6,703.7 1179.2,702.9 1179.7,702.1C1180.3,701.3 1180.9,700.5 1181.4,699.7C1182.0,698.9 1182.5,698.1 1183.1,697.3C1183.7,696.5 1184.2,695.7 1184.8,694.9C1185.3,694.1 1185.9,693.3 1186.4,692.4C1187.0,691.6 1187.6,690.8 1188.1,690.0C1188.7,689.2 1189.2,688.4 1189.8,687.6C1190.4,686.8 1190.9,686.0 1191.5,685.1C1192.1,684.3 1192.6,683.5 1193.2,682.7C1193.8,681.9 1194.3,681.0 1194.9,680.2C1195.5,679.4 1196.0,678.6 1196.6,677.8C1197.2,676.9 1197.7,676.1 1198.3,675.3C1198.9,674.5 1199.5,673.6 1200.0,672.8C1200.6,672.0 1201.2,671.1 1201.8,670.3C1202.4,669.5 1202.9,668.6 1203.5,667.8C1204.1,667.0 1204.7,666.1 1205.3,665.3C1205.9,664.4 1206.5,663.6 1207.1,662.8C1207.7,661.9 1208.2,661.1 1208.8,660.2C1209.4,659.4 1210.0,658.5 1210.6,657.7C1211.2,656.8 1211.9,656.0 1212.5,655.1C1213.1,654.3 1213.7,653.4 1214.3,652.6C1214.9,651.7 1215.5,650.9 1216.2,650.0C1216.8,649.2 1217.4,648.4 1218.0,647.5C1218.7,646.7 1219.3,645.9 1219.9,645.0C1220.6,644.2 1221.2,643.4 1221.9,642.6C1222.5,641.8 1223.2,640.9 1223.8,640.1C1224.5,639.3 1225.2,638.6 1225.8,637.8C1226.5,637.0 1227.2,636.2 1227.9,635.4C1228.6,634.7 1229.3,633.9 1229.9,633.2C1230.6,632.4 1231.3,631.7 1232.1,631.0C1232.8,630.2 1233.5,629.5 1234.2,628.8C1234.9,628.1 1235.7,627.4 1236.4,626.8C1237.1,626.1 1237.9,625.4 1238.6,624.8C1239.4,624.2 1240.2,623.5 1240.9,622.9C1241.7,622.3 1242.5,621.7 1243.3,621.1C1244.1,620.6 1244.8,620.0 1245.7,619.4C1246.5,618.9 1247.3,618.4 1248.1,617.9C1248.9,617.4 1249.8,616.9 1250.6,616.4C1251.4,616.0 1252.3,615.5 1253.2,615.1C1254.0,614.7 1254.9,614.3 1255.8,613.9C1256.7,613.5 1257.6,613.2 1258.5,612.8C1259.4,612.5 1260.3,612.2 1261.2,611.9C1262.1,611.6 1263.1,611.4 1264.0,611.2C1265.0,610.9 1265.9,610.7 1266.9,610.6C1267.9,610.4 1268.9,610.2 1269.9,610.1C1270.9,610.0 1271.9,609.9 1272.9,609.8C1273.9,609.8 1275.0,609.7 1276.0,609.7C1277.1,609.7 1278.7,609.8 1279.2,609.8" fill="none" stroke="#ff00ff" stroke-width="3.3" stroke-linejoin="round" stroke-linecap="butt"/>
</g>
<text x="122.6" y="51.2" font-family="Liberation Sans" font-size="45">(a)</text>
<path transform="translate(191.5,53.0)" d="M4.0,-26.0 C6.0,-26.6 8.5,-27.3 10.8,-28.0 L4.2,-4.0 C3.9,-3.0 4.0,-2.2 4.8,-2.4 C5.8,-2.7 7.0,-3.6 8.0,-4.4 L8.5,-4.0 C7.2,-2.2 5.2,-0.2 2.8,0.3 C1.4,0.6 0.3,0.2 0.4,-1.2 L7.0,-24.6 C6.9,-25.3 6.0,-25.5 4.6,-25.3 Z" fill="#000"/>
<path d="M206.8,36.4H226.6M206.8,42.7H226.6" stroke="#000" stroke-width="1.9" stroke-linecap="round"/>
<text x="229.1" y="53.0" font-family="Liberation Serif" font-size="40.5">10</text>
<text x="765.9" y="51.1" font-family="Liberation Sans" font-size="45">(b)</text>
<path transform="translate(835.0,53.3)" d="M4.0,-26.0 C6.0,-26.6 8.5,-27.3 10.8,-28.0 L4.2,-4.0 C3.9,-3.0 4.0,-2.2 4.8,-2.4 C5.8,-2.7 7.0,-3.6 8.0,-4.4 L8.5,-4.0 C7.2,-2.2 5.2,-0.2 2.8,0.3 C1.4,0.6 0.3,0.2 0.4,-1.2 L7.0,-24.6 C6.9,-25.3 6.0,-25.5 4.6,-25.3 Z" fill="#000"/>
<path d="M850.0,36.5H870.2M850.0,42.8H870.2" stroke="#000" stroke-width="1.9" stroke-linecap="round"/>
<text x="871.1" y="53.0" font-family="Liberation Serif" font-size="40.5">4</text>
<text x="122.4" y="488.6" font-family="Liberation Sans" font-size="45">(c)</text>
<path transform="translate(187.6,491.2)" d="M4.0,-26.0 C6.0,-26.6 8.5,-27.3 10.8,-28.0 L4.2,-4.0 C3.9,-3.0 4.0,-2.2 4.8,-2.4 C5.8,-2.7 7.0,-3.6 8.0,-4.4 L8.5,-4.0 C7.2,-2.2 5.2,-0.2 2.8,0.3 C1.4,0.6 0.3,0.2 0.4,-1.2 L7.0,-24.6 C6.9,-25.3 6.0,-25.5 4.6,-25.3 Z" fill="#000"/>
<path d="M202.7,474.7H222.4M202.7,481.0H222.4" stroke="#000" stroke-width="1.9" stroke-linecap="round"/>
<text x="222.5" y="491.5" font-family="Liberation Serif" font-size="40.5">2</text>
<text x="767.4" y="488.6" font-family="Liberation Sans" font-size="45">(d)</text>
<path transform="translate(834.0,490.6)" d="M4.0,-26.0 C6.0,-26.6 8.5,-27.3 10.8,-28.0 L4.2,-4.0 C3.9,-3.0 4.0,-2.2 4.8,-2.4 C5.8,-2.7 7.0,-3.6 8.0,-4.4 L8.5,-4.0 C7.2,-2.2 5.2,-0.2 2.8,0.3 C1.4,0.6 0.3,0.2 0.4,-1.2 L7.0,-24.6 C6.9,-25.3 6.0,-25.5 4.6,-25.3 Z" fill="#000"/>
<path d="M848.8,474.2H867.9M848.8,480.5H867.9" stroke="#000" stroke-width="1.9" stroke-linecap="round"/>
<text x="870.1" y="491.0" font-family="Liberation Serif" font-size="40.5">1</text>
<text transform="translate(32.8,218.2) rotate(-90)" font-family="Liberation Sans" font-size="45">ZT</text>
<text transform="translate(31.7,663.2) rotate(-90)" font-family="Liberation Sans" font-size="45">ZT</text>
<text x="114.5" y="891.6" font-family="Liberation Sans" font-size="45">E</text>
<text x="144.0" y="908.0" font-family="Liberation Sans" font-size="26">F</text>
<text x="753.3" y="891.0" font-family="Liberation Sans" font-size="45">E</text>
<text x="783.0" y="907.4" font-family="Liberation Sans" font-size="26">F</text>
<g fill="#000"><path d="M404.5,44.5 C405.5,42.8 407.2,41.3 409,40.8 C412,40.1 416,39.8 420,39.7 C424,39.6 427,39.6 430,38.5 C431.5,38 432.8,37.4 434,37.2 C434.6,37.5 434.4,38.4 433.5,39.2 C431.5,40.8 429,42.2 426.5,42.6 C424,42.9 421.5,42.3 418.5,42.3 C415,42.3 412,42.4 410,43.2 C408.5,44 407.3,45.5 405.8,46.9 C405,47.6 403.9,47.2 403.8,46.3 C403.8,45.6 404.1,45 404.5,44.5 Z"/><path d="M415.6,41 L421.3,41 C420.6,45 419.6,50 418.6,54.5 C417.6,59 416.7,62.5 415.6,65.2 C414.7,67.2 413.2,68.6 411.4,69.1 C410.6,69.3 409.7,69.2 409.3,68.6 C409.1,68.1 409.6,67.6 410.4,67.1 C411.6,66.3 412.4,65 413,62.8 C413.8,59.5 414.4,55 414.9,50 C415.2,46.5 415.4,43.5 415.6,41 Z"/><path d="M438.2,36.2 L441.1,36.2 L432.1,68.6 L429,68.6 Z"/><path transform="translate(38.4,0)" d="M404.5,44.5 C405.5,42.8 407.2,41.3 409,40.8 C412,40.1 416,39.8 420,39.7 C424,39.6 427,39.6 430,38.5 C431.5,38 432.8,37.4 434,37.2 C434.6,37.5 434.4,38.4 433.5,39.2 C431.5,40.8 429,42.2 426.5,42.6 C424,42.9 421.5,42.3 418.5,42.3 C415,42.3 412,42.4 410,43.2 C408.5,44 407.3,45.5 405.8,46.9 C405,47.6 403.9,47.2 403.8,46.3 C403.8,45.6 404.1,45 404.5,44.5 Z"/><path transform="translate(39.2,0)" d="M415.6,41 L421.3,41 C420.6,45 419.6,50 418.6,54.5 C417.6,59 416.7,62.5 415.6,65.2 C414.7,67.2 413.2,68.6 411.4,69.1 C410.6,69.3 409.7,69.2 409.3,68.6 C409.1,68.1 409.6,67.6 410.4,67.1 C411.6,66.3 412.4,65 413,62.8 C413.8,59.5 414.4,55 414.9,50 C415.2,46.5 415.4,43.5 415.6,41 Z"/></g>
<ellipse cx="473.2" cy="74.9" rx="3.4" ry="7.6" transform="rotate(16 473.2 74.9)" fill="none" stroke="#000" stroke-width="2.0"/>
</svg>
</body></html>
